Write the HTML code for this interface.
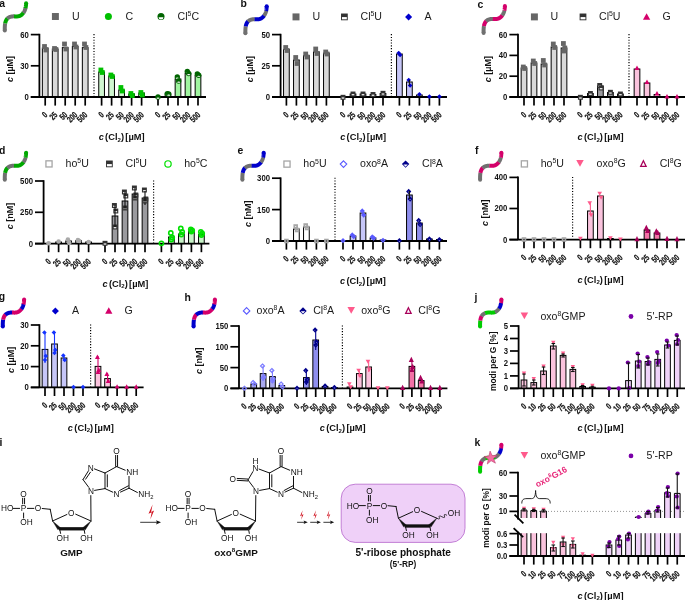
<!DOCTYPE html>
<html><head><meta charset="utf-8"><title>figure</title>
<style>html,body{margin:0;padding:0;background:#fff}svg{display:block;will-change:transform}</style></head>
<body>
<svg width="685" height="600" viewBox="0 0 685 600">
<rect width="685" height="600" fill="#fff"/>
<line x1="94" y1="34.1" x2="94" y2="96" stroke="#000" stroke-width="1.2" stroke-dasharray="1.1 1.7"/><rect x="42.35" y="48.00" width="5.70" height="49.00" fill="#d9d9d9" stroke="#000" stroke-width="1.0"/><rect x="52.35" y="49.00" width="5.70" height="48.00" fill="#d9d9d9" stroke="#000" stroke-width="1.0"/><rect x="62.35" y="47.60" width="5.70" height="49.40" fill="#d9d9d9" stroke="#000" stroke-width="1.0"/><rect x="72.35" y="46.40" width="5.70" height="50.60" fill="#d9d9d9" stroke="#000" stroke-width="1.0"/><rect x="82.35" y="47.60" width="5.70" height="49.40" fill="#d9d9d9" stroke="#000" stroke-width="1.0"/><rect x="98.75" y="72.00" width="5.70" height="25.00" fill="#d0f7d0" stroke="#000" stroke-width="1.0"/><rect x="108.75" y="76.00" width="5.70" height="21.00" fill="#d0f7d0" stroke="#000" stroke-width="1.0"/><rect x="118.75" y="90.00" width="5.70" height="7.00" fill="#d0f7d0" stroke="#000" stroke-width="1.0"/><rect x="128.75" y="94.00" width="5.70" height="3.00" fill="#d0f7d0" stroke="#000" stroke-width="1.0"/><rect x="138.75" y="93.00" width="5.70" height="4.00" fill="#d0f7d0" stroke="#000" stroke-width="1.0"/><rect x="165.15" y="94.00" width="5.70" height="3.00" fill="#a0f5a0" stroke="#000" stroke-width="1.0"/><rect x="175.15" y="79.00" width="5.70" height="18.00" fill="#a0f5a0" stroke="#000" stroke-width="1.0"/><rect x="185.15" y="73.40" width="5.70" height="23.60" fill="#a0f5a0" stroke="#000" stroke-width="1.0"/><rect x="195.15" y="75.50" width="5.70" height="21.50" fill="#a0f5a0" stroke="#000" stroke-width="1.0"/><line x1="39.4" y1="33.80" x2="39.4" y2="97" stroke="#000" stroke-width="1.8"/><line x1="30.799999999999997" y1="97" x2="206" y2="97" stroke="#000" stroke-width="1.8"/><line x1="30.799999999999997" y1="34.6" x2="39.4" y2="34.6" stroke="#000" stroke-width="1.7"/><text transform="translate(28.80,37.50) scale(0.92,1)" font-family="Liberation Sans, sans-serif" font-size="8.4" font-weight="bold" fill="#111" text-anchor="end">60</text><line x1="30.799999999999997" y1="65.8" x2="39.4" y2="65.8" stroke="#000" stroke-width="1.7"/><text transform="translate(28.80,68.70) scale(0.92,1)" font-family="Liberation Sans, sans-serif" font-size="8.4" font-weight="bold" fill="#111" text-anchor="end">30</text><line x1="30.799999999999997" y1="97" x2="39.4" y2="97" stroke="#000" stroke-width="1.7"/><text transform="translate(28.80,99.90) scale(0.92,1)" font-family="Liberation Sans, sans-serif" font-size="8.4" font-weight="bold" fill="#111" text-anchor="end">0</text><line x1="45.2" y1="97" x2="45.2" y2="105.6" stroke="#000" stroke-width="1.7"/><text transform="translate(48.10,115.60) rotate(-45) scale(0.725,1)" font-family="Liberation Sans, sans-serif" font-size="8.8" font-weight="bold" fill="#111" stroke="#111" stroke-width="0.2" text-anchor="end">0</text><line x1="55.2" y1="97" x2="55.2" y2="105.6" stroke="#000" stroke-width="1.7"/><text transform="translate(58.10,115.60) rotate(-45) scale(0.725,1)" font-family="Liberation Sans, sans-serif" font-size="8.8" font-weight="bold" fill="#111" stroke="#111" stroke-width="0.2" text-anchor="end">25</text><line x1="65.2" y1="97" x2="65.2" y2="105.6" stroke="#000" stroke-width="1.7"/><text transform="translate(68.10,115.60) rotate(-45) scale(0.725,1)" font-family="Liberation Sans, sans-serif" font-size="8.8" font-weight="bold" fill="#111" stroke="#111" stroke-width="0.2" text-anchor="end">50</text><line x1="75.2" y1="97" x2="75.2" y2="105.6" stroke="#000" stroke-width="1.7"/><text transform="translate(78.10,115.60) rotate(-45) scale(0.725,1)" font-family="Liberation Sans, sans-serif" font-size="8.8" font-weight="bold" fill="#111" stroke="#111" stroke-width="0.2" text-anchor="end">200</text><line x1="85.2" y1="97" x2="85.2" y2="105.6" stroke="#000" stroke-width="1.7"/><text transform="translate(88.10,115.60) rotate(-45) scale(0.725,1)" font-family="Liberation Sans, sans-serif" font-size="8.8" font-weight="bold" fill="#111" stroke="#111" stroke-width="0.2" text-anchor="end">500</text><line x1="101.6" y1="97" x2="101.6" y2="105.6" stroke="#000" stroke-width="1.7"/><text transform="translate(104.50,115.60) rotate(-45) scale(0.725,1)" font-family="Liberation Sans, sans-serif" font-size="8.8" font-weight="bold" fill="#111" stroke="#111" stroke-width="0.2" text-anchor="end">0</text><line x1="111.6" y1="97" x2="111.6" y2="105.6" stroke="#000" stroke-width="1.7"/><text transform="translate(114.50,115.60) rotate(-45) scale(0.725,1)" font-family="Liberation Sans, sans-serif" font-size="8.8" font-weight="bold" fill="#111" stroke="#111" stroke-width="0.2" text-anchor="end">25</text><line x1="121.6" y1="97" x2="121.6" y2="105.6" stroke="#000" stroke-width="1.7"/><text transform="translate(124.50,115.60) rotate(-45) scale(0.725,1)" font-family="Liberation Sans, sans-serif" font-size="8.8" font-weight="bold" fill="#111" stroke="#111" stroke-width="0.2" text-anchor="end">50</text><line x1="131.6" y1="97" x2="131.6" y2="105.6" stroke="#000" stroke-width="1.7"/><text transform="translate(134.50,115.60) rotate(-45) scale(0.725,1)" font-family="Liberation Sans, sans-serif" font-size="8.8" font-weight="bold" fill="#111" stroke="#111" stroke-width="0.2" text-anchor="end">200</text><line x1="141.6" y1="97" x2="141.6" y2="105.6" stroke="#000" stroke-width="1.7"/><text transform="translate(144.50,115.60) rotate(-45) scale(0.725,1)" font-family="Liberation Sans, sans-serif" font-size="8.8" font-weight="bold" fill="#111" stroke="#111" stroke-width="0.2" text-anchor="end">500</text><line x1="158.0" y1="97" x2="158.0" y2="105.6" stroke="#000" stroke-width="1.7"/><text transform="translate(160.90,115.60) rotate(-45) scale(0.725,1)" font-family="Liberation Sans, sans-serif" font-size="8.8" font-weight="bold" fill="#111" stroke="#111" stroke-width="0.2" text-anchor="end">0</text><line x1="168.0" y1="97" x2="168.0" y2="105.6" stroke="#000" stroke-width="1.7"/><text transform="translate(170.90,115.60) rotate(-45) scale(0.725,1)" font-family="Liberation Sans, sans-serif" font-size="8.8" font-weight="bold" fill="#111" stroke="#111" stroke-width="0.2" text-anchor="end">25</text><line x1="178.0" y1="97" x2="178.0" y2="105.6" stroke="#000" stroke-width="1.7"/><text transform="translate(180.90,115.60) rotate(-45) scale(0.725,1)" font-family="Liberation Sans, sans-serif" font-size="8.8" font-weight="bold" fill="#111" stroke="#111" stroke-width="0.2" text-anchor="end">50</text><line x1="188.0" y1="97" x2="188.0" y2="105.6" stroke="#000" stroke-width="1.7"/><text transform="translate(190.90,115.60) rotate(-45) scale(0.725,1)" font-family="Liberation Sans, sans-serif" font-size="8.8" font-weight="bold" fill="#111" stroke="#111" stroke-width="0.2" text-anchor="end">200</text><line x1="198.0" y1="97" x2="198.0" y2="105.6" stroke="#000" stroke-width="1.7"/><text transform="translate(200.90,115.60) rotate(-45) scale(0.725,1)" font-family="Liberation Sans, sans-serif" font-size="8.8" font-weight="bold" fill="#111" stroke="#111" stroke-width="0.2" text-anchor="end">500</text><rect x="42.10" y="44.10" width="4.80" height="4.80" fill="#666666"/><rect x="43.50" y="47.60" width="4.80" height="4.80" fill="#666666"/><rect x="52.10" y="46.10" width="4.80" height="4.80" fill="#666666"/><rect x="53.50" y="47.10" width="4.80" height="4.80" fill="#666666"/><rect x="62.10" y="41.60" width="4.80" height="4.80" fill="#666666"/><rect x="63.50" y="46.60" width="4.80" height="4.80" fill="#666666"/><rect x="72.10" y="41.60" width="4.80" height="4.80" fill="#666666"/><rect x="73.50" y="44.60" width="4.80" height="4.80" fill="#666666"/><rect x="82.10" y="41.60" width="4.80" height="4.80" fill="#666666"/><rect x="83.50" y="45.10" width="4.80" height="4.80" fill="#666666"/><rect x="98.50" y="67.60" width="4.80" height="4.80" fill="#00c000"/><rect x="99.90" y="70.10" width="4.80" height="4.80" fill="#00c000"/><rect x="108.50" y="72.60" width="4.80" height="4.80" fill="#00c000"/><rect x="109.90" y="74.10" width="4.80" height="4.80" fill="#00c000"/><rect x="118.50" y="85.10" width="4.80" height="4.80" fill="#00c000"/><rect x="119.90" y="88.60" width="4.80" height="4.80" fill="#00c000"/><rect x="128.50" y="91.10" width="4.80" height="4.80" fill="#00c000"/><rect x="129.90" y="93.10" width="4.80" height="4.80" fill="#00c000"/><rect x="138.50" y="90.10" width="4.80" height="4.80" fill="#00c000"/><rect x="139.90" y="92.60" width="4.80" height="4.80" fill="#00c000"/><circle cx="158.00" cy="97.00" r="2.70" fill="#006400"/><ellipse cx="158.00" cy="98.13" rx="1.49" ry="0.54" fill="#fff"/><circle cx="167.30" cy="93.60" r="2.70" fill="#006400"/><ellipse cx="167.30" cy="94.73" rx="1.49" ry="0.54" fill="#fff"/><circle cx="168.70" cy="94.00" r="2.70" fill="#006400"/><ellipse cx="168.70" cy="95.13" rx="1.49" ry="0.54" fill="#fff"/><circle cx="177.30" cy="77.00" r="2.70" fill="#006400"/><ellipse cx="177.30" cy="78.13" rx="1.49" ry="0.54" fill="#fff"/><circle cx="178.70" cy="81.00" r="2.70" fill="#006400"/><ellipse cx="178.70" cy="82.13" rx="1.49" ry="0.54" fill="#fff"/><circle cx="187.30" cy="71.50" r="2.70" fill="#006400"/><ellipse cx="187.30" cy="72.63" rx="1.49" ry="0.54" fill="#fff"/><circle cx="188.70" cy="73.50" r="2.70" fill="#006400"/><ellipse cx="188.70" cy="74.63" rx="1.49" ry="0.54" fill="#fff"/><circle cx="197.30" cy="74.00" r="2.70" fill="#006400"/><ellipse cx="197.30" cy="75.13" rx="1.49" ry="0.54" fill="#fff"/><circle cx="198.70" cy="75.20" r="2.70" fill="#006400"/><ellipse cx="198.70" cy="76.33" rx="1.49" ry="0.54" fill="#fff"/><text transform="translate(121.60,140.00) scale(0.97,1)" font-family="Liberation Sans, sans-serif" font-size="9.6" font-weight="bold" fill="#111" text-anchor="middle" word-spacing="-1.3"><tspan font-style="italic">c</tspan> (Cl<tspan font-size="6.24" dy="1.73">2</tspan><tspan dy="-1.73" font-size="0.1">&#8203;</tspan>) [µM]</text><text transform="translate(13.30,69.00) rotate(-90) scale(0.94,1)" font-family="Liberation Sans, sans-serif" font-size="9.6" font-weight="bold" fill="#111" text-anchor="middle"><tspan font-style="italic">c</tspan> [µM]</text><rect x="51.92" y="13.02" width="6.96" height="6.96" fill="#666666"/><text transform="translate(72.00,19.60) scale(1.05,1)" font-family="Liberation Sans, sans-serif" font-size="10.1" font-weight="normal" fill="#1a1a1a" text-anchor="start" >U</text><circle cx="108.40" cy="16.50" r="3.51" fill="#00c000"/><text transform="translate(125.50,19.60) scale(1.05,1)" font-family="Liberation Sans, sans-serif" font-size="10.1" font-weight="normal" fill="#1a1a1a" text-anchor="start" >C</text><circle cx="161.00" cy="16.50" r="3.51" fill="#006400"/><path d="M158.59 17.20 A2.41 2.41 0 0 0 163.41 17.20 Z" fill="#fff"/><text transform="translate(177.60,19.60) scale(1.05,1)" font-family="Liberation Sans, sans-serif" font-size="10.1" font-weight="normal" fill="#1a1a1a" text-anchor="start" >Cl<tspan font-size="6.57" dy="-3.53">5</tspan><tspan dy="3.53" font-size="0.1">&#8203;</tspan>C</text>
<line x1="391.4" y1="34.1" x2="391.4" y2="96" stroke="#000" stroke-width="1.2" stroke-dasharray="1.1 1.7"/><rect x="283.55" y="49.40" width="5.70" height="47.60" fill="#d9d9d9" stroke="#000" stroke-width="1.0"/><rect x="293.55" y="60.00" width="5.70" height="37.00" fill="#d9d9d9" stroke="#000" stroke-width="1.0"/><rect x="303.55" y="55.60" width="5.70" height="41.40" fill="#d9d9d9" stroke="#000" stroke-width="1.0"/><rect x="313.55" y="51.90" width="5.70" height="45.10" fill="#d9d9d9" stroke="#000" stroke-width="1.0"/><rect x="323.55" y="53.10" width="5.70" height="43.90" fill="#d9d9d9" stroke="#000" stroke-width="1.0"/><rect x="350.15" y="94.00" width="5.70" height="3.00" fill="#9a9a9e" stroke="#000" stroke-width="1.0"/><rect x="360.15" y="94.00" width="5.70" height="3.00" fill="#9a9a9e" stroke="#000" stroke-width="1.0"/><rect x="370.15" y="94.50" width="5.70" height="2.50" fill="#9a9a9e" stroke="#000" stroke-width="1.0"/><rect x="380.15" y="93.50" width="5.70" height="3.50" fill="#9a9a9e" stroke="#000" stroke-width="1.0"/><rect x="396.55" y="54.00" width="5.70" height="43.00" fill="#c6c6f8" stroke="#000" stroke-width="1.0"/><rect x="406.55" y="82.00" width="5.70" height="15.00" fill="#c6c6f8" stroke="#000" stroke-width="1.0"/><rect x="416.55" y="95.00" width="5.70" height="2.00" fill="#c6c6f8" stroke="#000" stroke-width="1.0"/><line x1="280.6" y1="33.80" x2="280.6" y2="97" stroke="#000" stroke-width="1.8"/><line x1="272.0" y1="97" x2="447" y2="97" stroke="#000" stroke-width="1.8"/><line x1="272.0" y1="34.6" x2="280.6" y2="34.6" stroke="#000" stroke-width="1.7"/><text transform="translate(270.00,37.50) scale(0.92,1)" font-family="Liberation Sans, sans-serif" font-size="8.4" font-weight="bold" fill="#111" text-anchor="end">50</text><line x1="272.0" y1="65.8" x2="280.6" y2="65.8" stroke="#000" stroke-width="1.7"/><text transform="translate(270.00,68.70) scale(0.92,1)" font-family="Liberation Sans, sans-serif" font-size="8.4" font-weight="bold" fill="#111" text-anchor="end">25</text><line x1="272.0" y1="97" x2="280.6" y2="97" stroke="#000" stroke-width="1.7"/><text transform="translate(270.00,99.90) scale(0.92,1)" font-family="Liberation Sans, sans-serif" font-size="8.4" font-weight="bold" fill="#111" text-anchor="end">0</text><line x1="286.4" y1="97" x2="286.4" y2="105.6" stroke="#000" stroke-width="1.7"/><text transform="translate(289.30,115.60) rotate(-45) scale(0.725,1)" font-family="Liberation Sans, sans-serif" font-size="8.8" font-weight="bold" fill="#111" stroke="#111" stroke-width="0.2" text-anchor="end">0</text><line x1="296.4" y1="97" x2="296.4" y2="105.6" stroke="#000" stroke-width="1.7"/><text transform="translate(299.30,115.60) rotate(-45) scale(0.725,1)" font-family="Liberation Sans, sans-serif" font-size="8.8" font-weight="bold" fill="#111" stroke="#111" stroke-width="0.2" text-anchor="end">25</text><line x1="306.4" y1="97" x2="306.4" y2="105.6" stroke="#000" stroke-width="1.7"/><text transform="translate(309.30,115.60) rotate(-45) scale(0.725,1)" font-family="Liberation Sans, sans-serif" font-size="8.8" font-weight="bold" fill="#111" stroke="#111" stroke-width="0.2" text-anchor="end">50</text><line x1="316.4" y1="97" x2="316.4" y2="105.6" stroke="#000" stroke-width="1.7"/><text transform="translate(319.30,115.60) rotate(-45) scale(0.725,1)" font-family="Liberation Sans, sans-serif" font-size="8.8" font-weight="bold" fill="#111" stroke="#111" stroke-width="0.2" text-anchor="end">200</text><line x1="326.4" y1="97" x2="326.4" y2="105.6" stroke="#000" stroke-width="1.7"/><text transform="translate(329.30,115.60) rotate(-45) scale(0.725,1)" font-family="Liberation Sans, sans-serif" font-size="8.8" font-weight="bold" fill="#111" stroke="#111" stroke-width="0.2" text-anchor="end">500</text><line x1="343.0" y1="97" x2="343.0" y2="105.6" stroke="#000" stroke-width="1.7"/><text transform="translate(345.90,115.60) rotate(-45) scale(0.725,1)" font-family="Liberation Sans, sans-serif" font-size="8.8" font-weight="bold" fill="#111" stroke="#111" stroke-width="0.2" text-anchor="end">0</text><line x1="353.0" y1="97" x2="353.0" y2="105.6" stroke="#000" stroke-width="1.7"/><text transform="translate(355.90,115.60) rotate(-45) scale(0.725,1)" font-family="Liberation Sans, sans-serif" font-size="8.8" font-weight="bold" fill="#111" stroke="#111" stroke-width="0.2" text-anchor="end">25</text><line x1="363.0" y1="97" x2="363.0" y2="105.6" stroke="#000" stroke-width="1.7"/><text transform="translate(365.90,115.60) rotate(-45) scale(0.725,1)" font-family="Liberation Sans, sans-serif" font-size="8.8" font-weight="bold" fill="#111" stroke="#111" stroke-width="0.2" text-anchor="end">50</text><line x1="373.0" y1="97" x2="373.0" y2="105.6" stroke="#000" stroke-width="1.7"/><text transform="translate(375.90,115.60) rotate(-45) scale(0.725,1)" font-family="Liberation Sans, sans-serif" font-size="8.8" font-weight="bold" fill="#111" stroke="#111" stroke-width="0.2" text-anchor="end">200</text><line x1="383.0" y1="97" x2="383.0" y2="105.6" stroke="#000" stroke-width="1.7"/><text transform="translate(385.90,115.60) rotate(-45) scale(0.725,1)" font-family="Liberation Sans, sans-serif" font-size="8.8" font-weight="bold" fill="#111" stroke="#111" stroke-width="0.2" text-anchor="end">500</text><line x1="399.4" y1="97" x2="399.4" y2="105.6" stroke="#000" stroke-width="1.7"/><text transform="translate(402.30,115.60) rotate(-45) scale(0.725,1)" font-family="Liberation Sans, sans-serif" font-size="8.8" font-weight="bold" fill="#111" stroke="#111" stroke-width="0.2" text-anchor="end">0</text><line x1="409.4" y1="97" x2="409.4" y2="105.6" stroke="#000" stroke-width="1.7"/><text transform="translate(412.30,115.60) rotate(-45) scale(0.725,1)" font-family="Liberation Sans, sans-serif" font-size="8.8" font-weight="bold" fill="#111" stroke="#111" stroke-width="0.2" text-anchor="end">25</text><line x1="419.4" y1="97" x2="419.4" y2="105.6" stroke="#000" stroke-width="1.7"/><text transform="translate(422.30,115.60) rotate(-45) scale(0.725,1)" font-family="Liberation Sans, sans-serif" font-size="8.8" font-weight="bold" fill="#111" stroke="#111" stroke-width="0.2" text-anchor="end">50</text><line x1="429.4" y1="97" x2="429.4" y2="105.6" stroke="#000" stroke-width="1.7"/><text transform="translate(432.30,115.60) rotate(-45) scale(0.725,1)" font-family="Liberation Sans, sans-serif" font-size="8.8" font-weight="bold" fill="#111" stroke="#111" stroke-width="0.2" text-anchor="end">200</text><line x1="439.4" y1="97" x2="439.4" y2="105.6" stroke="#000" stroke-width="1.7"/><text transform="translate(442.30,115.60) rotate(-45) scale(0.725,1)" font-family="Liberation Sans, sans-serif" font-size="8.8" font-weight="bold" fill="#111" stroke="#111" stroke-width="0.2" text-anchor="end">500</text><rect x="283.30" y="45.10" width="4.80" height="4.80" fill="#666666"/><rect x="284.70" y="48.10" width="4.80" height="4.80" fill="#666666"/><rect x="293.30" y="55.10" width="4.80" height="4.80" fill="#666666"/><rect x="294.70" y="61.10" width="4.80" height="4.80" fill="#666666"/><rect x="303.30" y="51.60" width="4.80" height="4.80" fill="#666666"/><rect x="304.70" y="54.60" width="4.80" height="4.80" fill="#666666"/><rect x="313.30" y="46.60" width="4.80" height="4.80" fill="#666666"/><rect x="314.70" y="51.10" width="4.80" height="4.80" fill="#666666"/><rect x="323.30" y="49.60" width="4.80" height="4.80" fill="#666666"/><rect x="324.70" y="51.60" width="4.80" height="4.80" fill="#666666"/><rect x="340.53" y="94.83" width="4.94" height="4.94" fill="#333333"/><rect x="341.68" y="97.44" width="2.64" height="1.18" fill="#fff"/><rect x="350.53" y="91.53" width="4.94" height="4.94" fill="#333333"/><rect x="351.68" y="94.14" width="2.64" height="1.18" fill="#fff"/><rect x="360.53" y="91.53" width="4.94" height="4.94" fill="#333333"/><rect x="361.68" y="94.14" width="2.64" height="1.18" fill="#fff"/><rect x="370.53" y="92.03" width="4.94" height="4.94" fill="#333333"/><rect x="371.68" y="94.64" width="2.64" height="1.18" fill="#fff"/><rect x="380.53" y="90.83" width="4.94" height="4.94" fill="#333333"/><rect x="381.68" y="93.44" width="2.64" height="1.18" fill="#fff"/><path d="M398.70 50.70 L401.00 53.00 L398.70 55.30 L396.40 53.00 Z" fill="#0000cd"/><path d="M400.10 52.70 L402.39 55.00 L400.10 57.30 L397.80 55.00 Z" fill="#0000cd"/><path d="M408.70 77.70 L411.00 80.00 L408.70 82.30 L406.40 80.00 Z" fill="#0000cd"/><path d="M410.10 83.20 L412.39 85.50 L410.10 87.80 L407.80 85.50 Z" fill="#0000cd"/><path d="M419.40 92.00 L421.69 94.30 L419.40 96.59 L417.10 94.30 Z" fill="#0000cd"/><path d="M429.40 94.30 L431.69 96.60 L429.40 98.89 L427.10 96.60 Z" fill="#0000cd"/><path d="M439.40 94.30 L441.69 96.60 L439.40 98.89 L437.10 96.60 Z" fill="#0000cd"/><line x1="409.40" y1="80.00" x2="409.40" y2="85.50" stroke="#111" stroke-width="1.1"/><text transform="translate(363.10,140.00) scale(0.97,1)" font-family="Liberation Sans, sans-serif" font-size="9.6" font-weight="bold" fill="#111" text-anchor="middle" word-spacing="-1.3"><tspan font-style="italic">c</tspan> (Cl<tspan font-size="6.24" dy="1.73">2</tspan><tspan dy="-1.73" font-size="0.1">&#8203;</tspan>) [µM]</text><text transform="translate(253.30,69.20) rotate(-90) scale(0.94,1)" font-family="Liberation Sans, sans-serif" font-size="9.6" font-weight="bold" fill="#111" text-anchor="middle"><tspan font-style="italic">c</tspan> [µM]</text><rect x="292.52" y="13.42" width="6.96" height="6.96" fill="#666666"/><text transform="translate(312.50,20.00) scale(1.05,1)" font-family="Liberation Sans, sans-serif" font-size="10.1" font-weight="normal" fill="#1a1a1a" text-anchor="start" >U</text><rect x="341.02" y="13.52" width="6.76" height="6.76" fill="#333333"/><rect x="341.97" y="17.09" width="4.86" height="2.24" fill="#fff"/><text transform="translate(360.50,20.00) scale(1.05,1)" font-family="Liberation Sans, sans-serif" font-size="10.1" font-weight="normal" fill="#1a1a1a" text-anchor="start" >Cl<tspan font-size="6.57" dy="-3.53">5</tspan><tspan dy="3.53" font-size="0.1">&#8203;</tspan>U</text><path d="M408.60 13.39 L412.11 16.90 L408.60 20.41 L405.09 16.90 Z" fill="#0000cd"/><text transform="translate(424.50,20.00) scale(1.05,1)" font-family="Liberation Sans, sans-serif" font-size="10.1" font-weight="normal" fill="#1a1a1a" text-anchor="start" >A</text>
<line x1="629" y1="34.1" x2="629" y2="96" stroke="#000" stroke-width="1.2" stroke-dasharray="1.1 1.7"/><rect x="521.15" y="68.00" width="5.70" height="29.00" fill="#d9d9d9" stroke="#000" stroke-width="1.0"/><rect x="531.15" y="63.00" width="5.70" height="34.00" fill="#d9d9d9" stroke="#000" stroke-width="1.0"/><rect x="541.15" y="64.00" width="5.70" height="33.00" fill="#d9d9d9" stroke="#000" stroke-width="1.0"/><rect x="551.15" y="47.00" width="5.70" height="50.00" fill="#d9d9d9" stroke="#000" stroke-width="1.0"/><rect x="561.15" y="48.00" width="5.70" height="49.00" fill="#d9d9d9" stroke="#000" stroke-width="1.0"/><rect x="587.55" y="93.50" width="5.70" height="3.50" fill="#9a9a9e" stroke="#000" stroke-width="1.0"/><rect x="597.55" y="86.00" width="5.70" height="11.00" fill="#9a9a9e" stroke="#000" stroke-width="1.0"/><rect x="607.55" y="92.50" width="5.70" height="4.50" fill="#9a9a9e" stroke="#000" stroke-width="1.0"/><rect x="617.55" y="94.00" width="5.70" height="3.00" fill="#9a9a9e" stroke="#000" stroke-width="1.0"/><rect x="634.15" y="69.00" width="5.70" height="28.00" fill="#fac3dd" stroke="#000" stroke-width="1.0"/><rect x="644.15" y="83.00" width="5.70" height="14.00" fill="#fac3dd" stroke="#000" stroke-width="1.0"/><rect x="654.15" y="94.50" width="5.70" height="2.50" fill="#fac3dd" stroke="#000" stroke-width="1.0"/><line x1="518" y1="33.80" x2="518" y2="97" stroke="#000" stroke-width="1.8"/><line x1="509.4" y1="97" x2="686" y2="97" stroke="#000" stroke-width="1.8"/><line x1="509.4" y1="34.6" x2="518" y2="34.6" stroke="#000" stroke-width="1.7"/><text transform="translate(507.40,37.50) scale(0.92,1)" font-family="Liberation Sans, sans-serif" font-size="8.4" font-weight="bold" fill="#111" text-anchor="end">60</text><line x1="509.4" y1="55.4" x2="518" y2="55.4" stroke="#000" stroke-width="1.7"/><text transform="translate(507.40,58.30) scale(0.92,1)" font-family="Liberation Sans, sans-serif" font-size="8.4" font-weight="bold" fill="#111" text-anchor="end">40</text><line x1="509.4" y1="76.2" x2="518" y2="76.2" stroke="#000" stroke-width="1.7"/><text transform="translate(507.40,79.10) scale(0.92,1)" font-family="Liberation Sans, sans-serif" font-size="8.4" font-weight="bold" fill="#111" text-anchor="end">20</text><line x1="509.4" y1="97" x2="518" y2="97" stroke="#000" stroke-width="1.7"/><text transform="translate(507.40,99.90) scale(0.92,1)" font-family="Liberation Sans, sans-serif" font-size="8.4" font-weight="bold" fill="#111" text-anchor="end">0</text><line x1="524.0" y1="97" x2="524.0" y2="105.6" stroke="#000" stroke-width="1.7"/><text transform="translate(526.90,115.60) rotate(-45) scale(0.725,1)" font-family="Liberation Sans, sans-serif" font-size="8.8" font-weight="bold" fill="#111" stroke="#111" stroke-width="0.2" text-anchor="end">0</text><line x1="534.0" y1="97" x2="534.0" y2="105.6" stroke="#000" stroke-width="1.7"/><text transform="translate(536.90,115.60) rotate(-45) scale(0.725,1)" font-family="Liberation Sans, sans-serif" font-size="8.8" font-weight="bold" fill="#111" stroke="#111" stroke-width="0.2" text-anchor="end">25</text><line x1="544.0" y1="97" x2="544.0" y2="105.6" stroke="#000" stroke-width="1.7"/><text transform="translate(546.90,115.60) rotate(-45) scale(0.725,1)" font-family="Liberation Sans, sans-serif" font-size="8.8" font-weight="bold" fill="#111" stroke="#111" stroke-width="0.2" text-anchor="end">50</text><line x1="554.0" y1="97" x2="554.0" y2="105.6" stroke="#000" stroke-width="1.7"/><text transform="translate(556.90,115.60) rotate(-45) scale(0.725,1)" font-family="Liberation Sans, sans-serif" font-size="8.8" font-weight="bold" fill="#111" stroke="#111" stroke-width="0.2" text-anchor="end">200</text><line x1="564.0" y1="97" x2="564.0" y2="105.6" stroke="#000" stroke-width="1.7"/><text transform="translate(566.90,115.60) rotate(-45) scale(0.725,1)" font-family="Liberation Sans, sans-serif" font-size="8.8" font-weight="bold" fill="#111" stroke="#111" stroke-width="0.2" text-anchor="end">500</text><line x1="580.4" y1="97" x2="580.4" y2="105.6" stroke="#000" stroke-width="1.7"/><text transform="translate(583.30,115.60) rotate(-45) scale(0.725,1)" font-family="Liberation Sans, sans-serif" font-size="8.8" font-weight="bold" fill="#111" stroke="#111" stroke-width="0.2" text-anchor="end">0</text><line x1="590.4" y1="97" x2="590.4" y2="105.6" stroke="#000" stroke-width="1.7"/><text transform="translate(593.30,115.60) rotate(-45) scale(0.725,1)" font-family="Liberation Sans, sans-serif" font-size="8.8" font-weight="bold" fill="#111" stroke="#111" stroke-width="0.2" text-anchor="end">25</text><line x1="600.4" y1="97" x2="600.4" y2="105.6" stroke="#000" stroke-width="1.7"/><text transform="translate(603.30,115.60) rotate(-45) scale(0.725,1)" font-family="Liberation Sans, sans-serif" font-size="8.8" font-weight="bold" fill="#111" stroke="#111" stroke-width="0.2" text-anchor="end">50</text><line x1="610.4" y1="97" x2="610.4" y2="105.6" stroke="#000" stroke-width="1.7"/><text transform="translate(613.30,115.60) rotate(-45) scale(0.725,1)" font-family="Liberation Sans, sans-serif" font-size="8.8" font-weight="bold" fill="#111" stroke="#111" stroke-width="0.2" text-anchor="end">200</text><line x1="620.4" y1="97" x2="620.4" y2="105.6" stroke="#000" stroke-width="1.7"/><text transform="translate(623.30,115.60) rotate(-45) scale(0.725,1)" font-family="Liberation Sans, sans-serif" font-size="8.8" font-weight="bold" fill="#111" stroke="#111" stroke-width="0.2" text-anchor="end">500</text><line x1="637.0" y1="97" x2="637.0" y2="105.6" stroke="#000" stroke-width="1.7"/><text transform="translate(639.90,115.60) rotate(-45) scale(0.725,1)" font-family="Liberation Sans, sans-serif" font-size="8.8" font-weight="bold" fill="#111" stroke="#111" stroke-width="0.2" text-anchor="end">0</text><line x1="647.0" y1="97" x2="647.0" y2="105.6" stroke="#000" stroke-width="1.7"/><text transform="translate(649.90,115.60) rotate(-45) scale(0.725,1)" font-family="Liberation Sans, sans-serif" font-size="8.8" font-weight="bold" fill="#111" stroke="#111" stroke-width="0.2" text-anchor="end">25</text><line x1="657.0" y1="97" x2="657.0" y2="105.6" stroke="#000" stroke-width="1.7"/><text transform="translate(659.90,115.60) rotate(-45) scale(0.725,1)" font-family="Liberation Sans, sans-serif" font-size="8.8" font-weight="bold" fill="#111" stroke="#111" stroke-width="0.2" text-anchor="end">50</text><line x1="667.0" y1="97" x2="667.0" y2="105.6" stroke="#000" stroke-width="1.7"/><text transform="translate(669.90,115.60) rotate(-45) scale(0.725,1)" font-family="Liberation Sans, sans-serif" font-size="8.8" font-weight="bold" fill="#111" stroke="#111" stroke-width="0.2" text-anchor="end">200</text><line x1="677.0" y1="97" x2="677.0" y2="105.6" stroke="#000" stroke-width="1.7"/><text transform="translate(679.90,115.60) rotate(-45) scale(0.725,1)" font-family="Liberation Sans, sans-serif" font-size="8.8" font-weight="bold" fill="#111" stroke="#111" stroke-width="0.2" text-anchor="end">500</text><rect x="520.90" y="64.60" width="4.80" height="4.80" fill="#666666"/><rect x="522.30" y="66.10" width="4.80" height="4.80" fill="#666666"/><rect x="530.90" y="58.60" width="4.80" height="4.80" fill="#666666"/><rect x="532.30" y="61.10" width="4.80" height="4.80" fill="#666666"/><rect x="540.90" y="58.10" width="4.80" height="4.80" fill="#666666"/><rect x="542.30" y="62.60" width="4.80" height="4.80" fill="#666666"/><rect x="550.90" y="41.60" width="4.80" height="4.80" fill="#666666"/><rect x="552.30" y="45.10" width="4.80" height="4.80" fill="#666666"/><rect x="561.00" y="41.10" width="4.80" height="4.80" fill="#666666"/><rect x="562.40" y="45.60" width="4.80" height="4.80" fill="#666666"/><rect x="561.60" y="48.60" width="4.80" height="4.80" fill="#666666"/><rect x="577.93" y="94.83" width="4.94" height="4.94" fill="#333333"/><rect x="579.08" y="97.44" width="2.64" height="1.18" fill="#fff"/><rect x="587.93" y="91.03" width="4.94" height="4.94" fill="#333333"/><rect x="589.08" y="93.64" width="2.64" height="1.18" fill="#fff"/><rect x="597.23" y="83.03" width="4.94" height="4.94" fill="#333333"/><rect x="598.38" y="85.64" width="2.64" height="1.18" fill="#fff"/><rect x="598.63" y="85.53" width="4.94" height="4.94" fill="#333333"/><rect x="599.78" y="88.14" width="2.64" height="1.18" fill="#fff"/><rect x="607.93" y="89.83" width="4.94" height="4.94" fill="#333333"/><rect x="609.08" y="92.44" width="2.64" height="1.18" fill="#fff"/><rect x="617.93" y="91.53" width="4.94" height="4.94" fill="#333333"/><rect x="619.08" y="94.14" width="2.64" height="1.18" fill="#fff"/><path d="M637.00 65.53 L639.47 69.97 L634.53 69.97 Z" fill="#d4006a"/><path d="M647.00 79.53 L649.47 83.97 L644.53 83.97 Z" fill="#d4006a"/><path d="M657.00 91.03 L659.47 95.47 L654.53 95.47 Z" fill="#d4006a"/><path d="M667.00 94.03 L669.47 98.47 L664.53 98.47 Z" fill="#d4006a"/><path d="M677.00 94.03 L679.47 98.47 L674.53 98.47 Z" fill="#d4006a"/><text transform="translate(600.50,140.00) scale(0.97,1)" font-family="Liberation Sans, sans-serif" font-size="9.6" font-weight="bold" fill="#111" text-anchor="middle" word-spacing="-1.3"><tspan font-style="italic">c</tspan> (Cl<tspan font-size="6.24" dy="1.73">2</tspan><tspan dy="-1.73" font-size="0.1">&#8203;</tspan>) [µM]</text><text transform="translate(490.80,69.20) rotate(-90) scale(0.94,1)" font-family="Liberation Sans, sans-serif" font-size="9.6" font-weight="bold" fill="#111" text-anchor="middle"><tspan font-style="italic">c</tspan> [µM]</text><rect x="530.92" y="13.42" width="6.96" height="6.96" fill="#666666"/><text transform="translate(550.50,20.00) scale(1.05,1)" font-family="Liberation Sans, sans-serif" font-size="10.1" font-weight="normal" fill="#1a1a1a" text-anchor="start" >U</text><rect x="579.62" y="13.52" width="6.76" height="6.76" fill="#333333"/><rect x="580.57" y="17.09" width="4.86" height="2.24" fill="#fff"/><text transform="translate(599.00,20.00) scale(1.05,1)" font-family="Liberation Sans, sans-serif" font-size="10.1" font-weight="normal" fill="#1a1a1a" text-anchor="start" >Cl<tspan font-size="6.57" dy="-3.53">5</tspan><tspan dy="3.53" font-size="0.1">&#8203;</tspan>U</text><path d="M646.60 13.27 L650.23 19.80 L642.98 19.80 Z" fill="#d4006a"/><text transform="translate(662.50,20.00) scale(1.05,1)" font-family="Liberation Sans, sans-serif" font-size="10.1" font-weight="normal" fill="#1a1a1a" text-anchor="start" >G</text>
<line x1="153.6" y1="180.5" x2="153.6" y2="242.6" stroke="#000" stroke-width="1.2" stroke-dasharray="1.1 1.7"/><rect x="55.75" y="242.00" width="5.70" height="1.60" fill="#d9d9d9" stroke="#000" stroke-width="1.0"/><rect x="65.75" y="241.00" width="5.70" height="2.60" fill="#d9d9d9" stroke="#000" stroke-width="1.0"/><rect x="75.75" y="240.60" width="5.70" height="3.00" fill="#d9d9d9" stroke="#000" stroke-width="1.0"/><rect x="85.75" y="242.00" width="5.70" height="1.60" fill="#d9d9d9" stroke="#000" stroke-width="1.0"/><rect x="112.15" y="216.00" width="5.70" height="27.60" fill="#9a9a9e" stroke="#000" stroke-width="1.0"/><rect x="122.15" y="201.00" width="5.70" height="42.60" fill="#9a9a9e" stroke="#000" stroke-width="1.0"/><rect x="132.15" y="194.00" width="5.70" height="49.60" fill="#9a9a9e" stroke="#000" stroke-width="1.0"/><rect x="142.15" y="198.00" width="5.70" height="45.60" fill="#9a9a9e" stroke="#000" stroke-width="1.0"/><rect x="168.55" y="237.00" width="5.70" height="6.60" fill="#c8f3c8" stroke="#000" stroke-width="1.0"/><rect x="178.55" y="234.00" width="5.70" height="9.60" fill="#c8f3c8" stroke="#000" stroke-width="1.0"/><rect x="188.55" y="231.00" width="5.70" height="12.60" fill="#c8f3c8" stroke="#000" stroke-width="1.0"/><rect x="198.55" y="234.50" width="5.70" height="9.10" fill="#c8f3c8" stroke="#000" stroke-width="1.0"/><line x1="43.6" y1="180.20" x2="43.6" y2="243.6" stroke="#000" stroke-width="1.8"/><line x1="35.0" y1="243.6" x2="209.4" y2="243.6" stroke="#000" stroke-width="1.8"/><line x1="35.0" y1="181" x2="43.6" y2="181" stroke="#000" stroke-width="1.7"/><text transform="translate(33.00,183.90) scale(0.92,1)" font-family="Liberation Sans, sans-serif" font-size="8.4" font-weight="bold" fill="#111" text-anchor="end">500</text><line x1="35.0" y1="212.3" x2="43.6" y2="212.3" stroke="#000" stroke-width="1.7"/><text transform="translate(33.00,215.20) scale(0.92,1)" font-family="Liberation Sans, sans-serif" font-size="8.4" font-weight="bold" fill="#111" text-anchor="end">250</text><line x1="35.0" y1="243.6" x2="43.6" y2="243.6" stroke="#000" stroke-width="1.7"/><text transform="translate(33.00,246.50) scale(0.92,1)" font-family="Liberation Sans, sans-serif" font-size="8.4" font-weight="bold" fill="#111" text-anchor="end">0</text><line x1="48.6" y1="243.6" x2="48.6" y2="252.2" stroke="#000" stroke-width="1.7"/><text transform="translate(51.50,262.20) rotate(-45) scale(0.725,1)" font-family="Liberation Sans, sans-serif" font-size="8.8" font-weight="bold" fill="#111" stroke="#111" stroke-width="0.2" text-anchor="end">0</text><line x1="58.6" y1="243.6" x2="58.6" y2="252.2" stroke="#000" stroke-width="1.7"/><text transform="translate(61.50,262.20) rotate(-45) scale(0.725,1)" font-family="Liberation Sans, sans-serif" font-size="8.8" font-weight="bold" fill="#111" stroke="#111" stroke-width="0.2" text-anchor="end">25</text><line x1="68.6" y1="243.6" x2="68.6" y2="252.2" stroke="#000" stroke-width="1.7"/><text transform="translate(71.50,262.20) rotate(-45) scale(0.725,1)" font-family="Liberation Sans, sans-serif" font-size="8.8" font-weight="bold" fill="#111" stroke="#111" stroke-width="0.2" text-anchor="end">50</text><line x1="78.6" y1="243.6" x2="78.6" y2="252.2" stroke="#000" stroke-width="1.7"/><text transform="translate(81.50,262.20) rotate(-45) scale(0.725,1)" font-family="Liberation Sans, sans-serif" font-size="8.8" font-weight="bold" fill="#111" stroke="#111" stroke-width="0.2" text-anchor="end">200</text><line x1="88.6" y1="243.6" x2="88.6" y2="252.2" stroke="#000" stroke-width="1.7"/><text transform="translate(91.50,262.20) rotate(-45) scale(0.725,1)" font-family="Liberation Sans, sans-serif" font-size="8.8" font-weight="bold" fill="#111" stroke="#111" stroke-width="0.2" text-anchor="end">500</text><line x1="105.0" y1="243.6" x2="105.0" y2="252.2" stroke="#000" stroke-width="1.7"/><text transform="translate(107.90,262.20) rotate(-45) scale(0.725,1)" font-family="Liberation Sans, sans-serif" font-size="8.8" font-weight="bold" fill="#111" stroke="#111" stroke-width="0.2" text-anchor="end">0</text><line x1="115.0" y1="243.6" x2="115.0" y2="252.2" stroke="#000" stroke-width="1.7"/><text transform="translate(117.90,262.20) rotate(-45) scale(0.725,1)" font-family="Liberation Sans, sans-serif" font-size="8.8" font-weight="bold" fill="#111" stroke="#111" stroke-width="0.2" text-anchor="end">25</text><line x1="125.0" y1="243.6" x2="125.0" y2="252.2" stroke="#000" stroke-width="1.7"/><text transform="translate(127.90,262.20) rotate(-45) scale(0.725,1)" font-family="Liberation Sans, sans-serif" font-size="8.8" font-weight="bold" fill="#111" stroke="#111" stroke-width="0.2" text-anchor="end">50</text><line x1="135.0" y1="243.6" x2="135.0" y2="252.2" stroke="#000" stroke-width="1.7"/><text transform="translate(137.90,262.20) rotate(-45) scale(0.725,1)" font-family="Liberation Sans, sans-serif" font-size="8.8" font-weight="bold" fill="#111" stroke="#111" stroke-width="0.2" text-anchor="end">200</text><line x1="145.0" y1="243.6" x2="145.0" y2="252.2" stroke="#000" stroke-width="1.7"/><text transform="translate(147.90,262.20) rotate(-45) scale(0.725,1)" font-family="Liberation Sans, sans-serif" font-size="8.8" font-weight="bold" fill="#111" stroke="#111" stroke-width="0.2" text-anchor="end">500</text><line x1="161.4" y1="243.6" x2="161.4" y2="252.2" stroke="#000" stroke-width="1.7"/><text transform="translate(164.30,262.20) rotate(-45) scale(0.725,1)" font-family="Liberation Sans, sans-serif" font-size="8.8" font-weight="bold" fill="#111" stroke="#111" stroke-width="0.2" text-anchor="end">0</text><line x1="171.4" y1="243.6" x2="171.4" y2="252.2" stroke="#000" stroke-width="1.7"/><text transform="translate(174.30,262.20) rotate(-45) scale(0.725,1)" font-family="Liberation Sans, sans-serif" font-size="8.8" font-weight="bold" fill="#111" stroke="#111" stroke-width="0.2" text-anchor="end">25</text><line x1="181.4" y1="243.6" x2="181.4" y2="252.2" stroke="#000" stroke-width="1.7"/><text transform="translate(184.30,262.20) rotate(-45) scale(0.725,1)" font-family="Liberation Sans, sans-serif" font-size="8.8" font-weight="bold" fill="#111" stroke="#111" stroke-width="0.2" text-anchor="end">50</text><line x1="191.4" y1="243.6" x2="191.4" y2="252.2" stroke="#000" stroke-width="1.7"/><text transform="translate(194.30,262.20) rotate(-45) scale(0.725,1)" font-family="Liberation Sans, sans-serif" font-size="8.8" font-weight="bold" fill="#111" stroke="#111" stroke-width="0.2" text-anchor="end">200</text><line x1="201.4" y1="243.6" x2="201.4" y2="252.2" stroke="#000" stroke-width="1.7"/><text transform="translate(204.30,262.20) rotate(-45) scale(0.725,1)" font-family="Liberation Sans, sans-serif" font-size="8.8" font-weight="bold" fill="#111" stroke="#111" stroke-width="0.2" text-anchor="end">500</text><circle cx="48.60" cy="243.30" r="2.28" fill="#a9a9a9"/><circle cx="58.60" cy="241.50" r="2.28" fill="#a9a9a9"/><circle cx="67.90" cy="239.50" r="2.28" fill="#a9a9a9"/><circle cx="69.30" cy="243.00" r="2.28" fill="#a9a9a9"/><circle cx="77.90" cy="240.00" r="2.28" fill="#a9a9a9"/><circle cx="79.30" cy="241.00" r="2.28" fill="#a9a9a9"/><circle cx="88.60" cy="242.00" r="2.28" fill="#a9a9a9"/><rect x="102.53" y="240.83" width="4.94" height="4.94" fill="#333333"/><rect x="103.68" y="243.44" width="2.64" height="1.18" fill="#fff"/><rect x="111.93" y="203.03" width="4.94" height="4.94" fill="#333333"/><rect x="113.08" y="205.64" width="2.64" height="1.18" fill="#fff"/><rect x="113.33" y="208.53" width="4.94" height="4.94" fill="#333333"/><rect x="114.48" y="211.14" width="2.64" height="1.18" fill="#fff"/><rect x="112.53" y="224.53" width="4.94" height="4.94" fill="#333333"/><rect x="113.68" y="227.14" width="2.64" height="1.18" fill="#fff"/><rect x="121.93" y="189.53" width="4.94" height="4.94" fill="#333333"/><rect x="123.08" y="192.14" width="2.64" height="1.18" fill="#fff"/><rect x="123.33" y="193.53" width="4.94" height="4.94" fill="#333333"/><rect x="124.48" y="196.14" width="2.64" height="1.18" fill="#fff"/><rect x="122.53" y="205.53" width="4.94" height="4.94" fill="#333333"/><rect x="123.68" y="208.14" width="2.64" height="1.18" fill="#fff"/><rect x="131.93" y="185.53" width="4.94" height="4.94" fill="#333333"/><rect x="133.08" y="188.14" width="2.64" height="1.18" fill="#fff"/><rect x="133.33" y="192.53" width="4.94" height="4.94" fill="#333333"/><rect x="134.48" y="195.14" width="2.64" height="1.18" fill="#fff"/><rect x="132.53" y="195.53" width="4.94" height="4.94" fill="#333333"/><rect x="133.68" y="198.14" width="2.64" height="1.18" fill="#fff"/><rect x="141.93" y="187.53" width="4.94" height="4.94" fill="#333333"/><rect x="143.08" y="190.14" width="2.64" height="1.18" fill="#fff"/><rect x="143.33" y="196.53" width="4.94" height="4.94" fill="#333333"/><rect x="144.48" y="199.14" width="2.64" height="1.18" fill="#fff"/><rect x="142.53" y="198.53" width="4.94" height="4.94" fill="#333333"/><rect x="143.68" y="201.14" width="2.64" height="1.18" fill="#fff"/><line x1="115.00" y1="205.00" x2="115.00" y2="227.00" stroke="#111" stroke-width="1.1"/><line x1="125.00" y1="192.00" x2="125.00" y2="210.00" stroke="#111" stroke-width="1.1"/><line x1="135.00" y1="188.00" x2="135.00" y2="200.00" stroke="#111" stroke-width="1.1"/><line x1="145.00" y1="191.00" x2="145.00" y2="205.00" stroke="#111" stroke-width="1.1"/><circle cx="161.40" cy="243.30" r="2.10" fill="none" stroke="#00e000" stroke-width="1.6"/><circle cx="170.80" cy="233.00" r="2.10" fill="none" stroke="#00e000" stroke-width="1.6"/><circle cx="172.20" cy="237.50" r="2.10" fill="none" stroke="#00e000" stroke-width="1.6"/><circle cx="171.40" cy="239.50" r="2.10" fill="none" stroke="#00e000" stroke-width="1.6"/><circle cx="180.80" cy="228.50" r="2.10" fill="none" stroke="#00e000" stroke-width="1.6"/><circle cx="182.20" cy="232.00" r="2.10" fill="none" stroke="#00e000" stroke-width="1.6"/><circle cx="181.40" cy="234.50" r="2.10" fill="none" stroke="#00e000" stroke-width="1.6"/><circle cx="190.80" cy="229.50" r="2.10" fill="none" stroke="#00e000" stroke-width="1.6"/><circle cx="192.20" cy="230.50" r="2.10" fill="none" stroke="#00e000" stroke-width="1.6"/><circle cx="191.40" cy="231.50" r="2.10" fill="none" stroke="#00e000" stroke-width="1.6"/><circle cx="200.80" cy="232.00" r="2.10" fill="none" stroke="#00e000" stroke-width="1.6"/><circle cx="202.20" cy="233.50" r="2.10" fill="none" stroke="#00e000" stroke-width="1.6"/><circle cx="201.40" cy="235.00" r="2.10" fill="none" stroke="#00e000" stroke-width="1.6"/><text transform="translate(125.40,286.60) scale(0.97,1)" font-family="Liberation Sans, sans-serif" font-size="9.6" font-weight="bold" fill="#111" text-anchor="middle" word-spacing="-1.3"><tspan font-style="italic">c</tspan> (Cl<tspan font-size="6.24" dy="1.73">2</tspan><tspan dy="-1.73" font-size="0.1">&#8203;</tspan>) [µM]</text><text transform="translate(13.20,216.00) rotate(-90) scale(0.94,1)" font-family="Liberation Sans, sans-serif" font-size="9.6" font-weight="bold" fill="#111" text-anchor="middle"><tspan font-style="italic">c</tspan> [nM]</text><rect x="45.93" y="160.83" width="6.14" height="6.14" fill="none" stroke="#a6a6a6" stroke-width="1.3"/><text transform="translate(65.50,167.00) scale(1.05,1)" font-family="Liberation Sans, sans-serif" font-size="10.1" font-weight="normal" fill="#1a1a1a" text-anchor="start" >ho<tspan font-size="6.57" dy="-3.53">5</tspan><tspan dy="3.53" font-size="0.1">&#8203;</tspan>U</text><rect x="106.02" y="160.52" width="6.76" height="6.76" fill="#333333"/><rect x="106.97" y="164.09" width="4.86" height="2.24" fill="#fff"/><text transform="translate(125.50,167.00) scale(1.05,1)" font-family="Liberation Sans, sans-serif" font-size="10.1" font-weight="normal" fill="#1a1a1a" text-anchor="start" >Cl<tspan font-size="6.57" dy="-3.53">5</tspan><tspan dy="3.53" font-size="0.1">&#8203;</tspan>U</text><circle cx="168.00" cy="163.90" r="3.17" fill="none" stroke="#00e000" stroke-width="1.2"/><text transform="translate(184.20,167.00) scale(1.05,1)" font-family="Liberation Sans, sans-serif" font-size="10.1" font-weight="normal" fill="#1a1a1a" text-anchor="start" >ho<tspan font-size="6.57" dy="-3.53">5</tspan><tspan dy="3.53" font-size="0.1">&#8203;</tspan>C</text>
<line x1="335" y1="177.7" x2="335" y2="240" stroke="#000" stroke-width="1.2" stroke-dasharray="1.1 1.7"/><rect x="293.55" y="229.00" width="5.70" height="12.00" fill="#ffffff" stroke="#000" stroke-width="1.0"/><rect x="303.55" y="227.00" width="5.70" height="14.00" fill="#ffffff" stroke="#000" stroke-width="1.0"/><rect x="350.15" y="236.00" width="5.70" height="5.00" fill="#c6c6f8" stroke="#000" stroke-width="1.0"/><rect x="360.15" y="213.00" width="5.70" height="28.00" fill="#c6c6f8" stroke="#000" stroke-width="1.0"/><rect x="370.15" y="238.00" width="5.70" height="3.00" fill="#c6c6f8" stroke="#000" stroke-width="1.0"/><rect x="380.15" y="240.00" width="5.70" height="1.00" fill="#c6c6f8" stroke="#000" stroke-width="1.0"/><rect x="406.55" y="195.00" width="5.70" height="46.00" fill="#8f8fee" stroke="#000" stroke-width="1.0"/><rect x="416.55" y="223.00" width="5.70" height="18.00" fill="#8f8fee" stroke="#000" stroke-width="1.0"/><rect x="426.55" y="239.00" width="5.70" height="2.00" fill="#8f8fee" stroke="#000" stroke-width="1.0"/><rect x="436.55" y="239.50" width="5.70" height="1.50" fill="#8f8fee" stroke="#000" stroke-width="1.0"/><line x1="280.6" y1="177.40" x2="280.6" y2="241" stroke="#000" stroke-width="1.8"/><line x1="272.0" y1="241" x2="447" y2="241" stroke="#000" stroke-width="1.8"/><line x1="272.0" y1="178.2" x2="280.6" y2="178.2" stroke="#000" stroke-width="1.7"/><text transform="translate(270.00,181.10) scale(0.92,1)" font-family="Liberation Sans, sans-serif" font-size="8.4" font-weight="bold" fill="#111" text-anchor="end">300</text><line x1="272.0" y1="209.6" x2="280.6" y2="209.6" stroke="#000" stroke-width="1.7"/><text transform="translate(270.00,212.50) scale(0.92,1)" font-family="Liberation Sans, sans-serif" font-size="8.4" font-weight="bold" fill="#111" text-anchor="end">150</text><line x1="272.0" y1="241" x2="280.6" y2="241" stroke="#000" stroke-width="1.7"/><text transform="translate(270.00,243.90) scale(0.92,1)" font-family="Liberation Sans, sans-serif" font-size="8.4" font-weight="bold" fill="#111" text-anchor="end">0</text><line x1="286.4" y1="241" x2="286.4" y2="249.6" stroke="#000" stroke-width="1.7"/><text transform="translate(289.30,259.60) rotate(-45) scale(0.725,1)" font-family="Liberation Sans, sans-serif" font-size="8.8" font-weight="bold" fill="#111" stroke="#111" stroke-width="0.2" text-anchor="end">0</text><line x1="296.4" y1="241" x2="296.4" y2="249.6" stroke="#000" stroke-width="1.7"/><text transform="translate(299.30,259.60) rotate(-45) scale(0.725,1)" font-family="Liberation Sans, sans-serif" font-size="8.8" font-weight="bold" fill="#111" stroke="#111" stroke-width="0.2" text-anchor="end">25</text><line x1="306.4" y1="241" x2="306.4" y2="249.6" stroke="#000" stroke-width="1.7"/><text transform="translate(309.30,259.60) rotate(-45) scale(0.725,1)" font-family="Liberation Sans, sans-serif" font-size="8.8" font-weight="bold" fill="#111" stroke="#111" stroke-width="0.2" text-anchor="end">50</text><line x1="316.4" y1="241" x2="316.4" y2="249.6" stroke="#000" stroke-width="1.7"/><text transform="translate(319.30,259.60) rotate(-45) scale(0.725,1)" font-family="Liberation Sans, sans-serif" font-size="8.8" font-weight="bold" fill="#111" stroke="#111" stroke-width="0.2" text-anchor="end">200</text><line x1="326.4" y1="241" x2="326.4" y2="249.6" stroke="#000" stroke-width="1.7"/><text transform="translate(329.30,259.60) rotate(-45) scale(0.725,1)" font-family="Liberation Sans, sans-serif" font-size="8.8" font-weight="bold" fill="#111" stroke="#111" stroke-width="0.2" text-anchor="end">500</text><line x1="343.0" y1="241" x2="343.0" y2="249.6" stroke="#000" stroke-width="1.7"/><text transform="translate(345.90,259.60) rotate(-45) scale(0.725,1)" font-family="Liberation Sans, sans-serif" font-size="8.8" font-weight="bold" fill="#111" stroke="#111" stroke-width="0.2" text-anchor="end">0</text><line x1="353.0" y1="241" x2="353.0" y2="249.6" stroke="#000" stroke-width="1.7"/><text transform="translate(355.90,259.60) rotate(-45) scale(0.725,1)" font-family="Liberation Sans, sans-serif" font-size="8.8" font-weight="bold" fill="#111" stroke="#111" stroke-width="0.2" text-anchor="end">25</text><line x1="363.0" y1="241" x2="363.0" y2="249.6" stroke="#000" stroke-width="1.7"/><text transform="translate(365.90,259.60) rotate(-45) scale(0.725,1)" font-family="Liberation Sans, sans-serif" font-size="8.8" font-weight="bold" fill="#111" stroke="#111" stroke-width="0.2" text-anchor="end">50</text><line x1="373.0" y1="241" x2="373.0" y2="249.6" stroke="#000" stroke-width="1.7"/><text transform="translate(375.90,259.60) rotate(-45) scale(0.725,1)" font-family="Liberation Sans, sans-serif" font-size="8.8" font-weight="bold" fill="#111" stroke="#111" stroke-width="0.2" text-anchor="end">200</text><line x1="383.0" y1="241" x2="383.0" y2="249.6" stroke="#000" stroke-width="1.7"/><text transform="translate(385.90,259.60) rotate(-45) scale(0.725,1)" font-family="Liberation Sans, sans-serif" font-size="8.8" font-weight="bold" fill="#111" stroke="#111" stroke-width="0.2" text-anchor="end">500</text><line x1="399.4" y1="241" x2="399.4" y2="249.6" stroke="#000" stroke-width="1.7"/><text transform="translate(402.30,259.60) rotate(-45) scale(0.725,1)" font-family="Liberation Sans, sans-serif" font-size="8.8" font-weight="bold" fill="#111" stroke="#111" stroke-width="0.2" text-anchor="end">0</text><line x1="409.4" y1="241" x2="409.4" y2="249.6" stroke="#000" stroke-width="1.7"/><text transform="translate(412.30,259.60) rotate(-45) scale(0.725,1)" font-family="Liberation Sans, sans-serif" font-size="8.8" font-weight="bold" fill="#111" stroke="#111" stroke-width="0.2" text-anchor="end">25</text><line x1="419.4" y1="241" x2="419.4" y2="249.6" stroke="#000" stroke-width="1.7"/><text transform="translate(422.30,259.60) rotate(-45) scale(0.725,1)" font-family="Liberation Sans, sans-serif" font-size="8.8" font-weight="bold" fill="#111" stroke="#111" stroke-width="0.2" text-anchor="end">50</text><line x1="429.4" y1="241" x2="429.4" y2="249.6" stroke="#000" stroke-width="1.7"/><text transform="translate(432.30,259.60) rotate(-45) scale(0.725,1)" font-family="Liberation Sans, sans-serif" font-size="8.8" font-weight="bold" fill="#111" stroke="#111" stroke-width="0.2" text-anchor="end">200</text><line x1="439.4" y1="241" x2="439.4" y2="249.6" stroke="#000" stroke-width="1.7"/><text transform="translate(442.30,259.60) rotate(-45) scale(0.725,1)" font-family="Liberation Sans, sans-serif" font-size="8.8" font-weight="bold" fill="#111" stroke="#111" stroke-width="0.2" text-anchor="end">500</text><rect x="285.02" y="239.62" width="2.76" height="2.76" fill="none" stroke="#a6a6a6" stroke-width="1.8"/><rect x="294.32" y="225.12" width="2.76" height="2.76" fill="none" stroke="#a6a6a6" stroke-width="1.8"/><rect x="295.72" y="228.62" width="2.76" height="2.76" fill="none" stroke="#a6a6a6" stroke-width="1.8"/><rect x="304.32" y="224.12" width="2.76" height="2.76" fill="none" stroke="#a6a6a6" stroke-width="1.8"/><rect x="305.72" y="226.62" width="2.76" height="2.76" fill="none" stroke="#a6a6a6" stroke-width="1.8"/><rect x="315.02" y="239.62" width="2.76" height="2.76" fill="none" stroke="#a6a6a6" stroke-width="1.8"/><rect x="325.02" y="239.62" width="2.76" height="2.76" fill="none" stroke="#a6a6a6" stroke-width="1.8"/><path d="M343.00 239.11 L344.59 240.70 L343.00 242.29 L341.41 240.70 Z" fill="none" stroke="#5a5aff" stroke-width="1.5"/><path d="M352.30 233.41 L353.89 235.00 L352.30 236.59 L350.71 235.00 Z" fill="none" stroke="#5a5aff" stroke-width="1.5"/><path d="M353.70 234.91 L355.29 236.50 L353.70 238.09 L352.11 236.50 Z" fill="none" stroke="#5a5aff" stroke-width="1.5"/><path d="M362.30 209.41 L363.89 211.00 L362.30 212.59 L360.71 211.00 Z" fill="none" stroke="#5a5aff" stroke-width="1.5"/><path d="M363.70 213.41 L365.29 215.00 L363.70 216.59 L362.11 215.00 Z" fill="none" stroke="#5a5aff" stroke-width="1.5"/><path d="M372.30 235.41 L373.89 237.00 L372.30 238.59 L370.71 237.00 Z" fill="none" stroke="#5a5aff" stroke-width="1.5"/><path d="M373.70 236.41 L375.29 238.00 L373.70 239.59 L372.11 238.00 Z" fill="none" stroke="#5a5aff" stroke-width="1.5"/><path d="M383.00 238.71 L384.59 240.30 L383.00 241.89 L381.41 240.30 Z" fill="none" stroke="#5a5aff" stroke-width="1.5"/><path d="M399.40 238.06 L402.04 240.70 L399.40 243.34 L396.76 240.70 Z" fill="#00008b"/><path d="M398.66 241.05 L400.14 241.05 L399.40 241.79 Z" fill="#fff"/><path d="M408.70 188.86 L411.34 191.50 L408.70 194.14 L406.06 191.50 Z" fill="#00008b"/><path d="M407.96 191.85 L409.44 191.85 L408.70 192.59 Z" fill="#fff"/><path d="M410.10 196.36 L412.74 199.00 L410.10 201.64 L407.46 199.00 Z" fill="#00008b"/><path d="M409.36 199.35 L410.84 199.35 L410.10 200.09 Z" fill="#fff"/><path d="M418.70 217.86 L421.34 220.50 L418.70 223.14 L416.06 220.50 Z" fill="#00008b"/><path d="M417.96 220.85 L419.44 220.85 L418.70 221.59 Z" fill="#fff"/><path d="M420.10 221.86 L422.74 224.50 L420.10 227.14 L417.46 224.50 Z" fill="#00008b"/><path d="M419.36 224.85 L420.84 224.85 L420.10 225.59 Z" fill="#fff"/><path d="M429.40 236.36 L432.04 239.00 L429.40 241.64 L426.76 239.00 Z" fill="#00008b"/><path d="M428.66 239.35 L430.14 239.35 L429.40 240.09 Z" fill="#fff"/><path d="M439.40 236.96 L442.04 239.60 L439.40 242.24 L436.76 239.60 Z" fill="#00008b"/><path d="M438.66 239.95 L440.14 239.95 L439.40 240.69 Z" fill="#fff"/><line x1="409.40" y1="191.00" x2="409.40" y2="199.00" stroke="#111" stroke-width="1.1"/><text transform="translate(362.90,284.00) scale(0.97,1)" font-family="Liberation Sans, sans-serif" font-size="9.6" font-weight="bold" fill="#111" text-anchor="middle" word-spacing="-1.3"><tspan font-style="italic">c</tspan> (Cl<tspan font-size="6.24" dy="1.73">2</tspan><tspan dy="-1.73" font-size="0.1">&#8203;</tspan>) [µM]</text><text transform="translate(251.00,213.80) rotate(-90) scale(0.94,1)" font-family="Liberation Sans, sans-serif" font-size="9.6" font-weight="bold" fill="#111" text-anchor="middle"><tspan font-style="italic">c</tspan> [nM]</text><rect x="283.93" y="161.03" width="6.14" height="6.14" fill="none" stroke="#a6a6a6" stroke-width="1.3"/><text transform="translate(303.30,167.20) scale(1.05,1)" font-family="Liberation Sans, sans-serif" font-size="10.1" font-weight="normal" fill="#1a1a1a" text-anchor="start" >ho<tspan font-size="6.57" dy="-3.53">5</tspan><tspan dy="3.53" font-size="0.1">&#8203;</tspan>U</text><path d="M343.50 160.84 L346.76 164.10 L343.50 167.36 L340.24 164.10 Z" fill="none" stroke="#5a5aff" stroke-width="1.1"/><text transform="translate(360.00,167.20) scale(1.05,1)" font-family="Liberation Sans, sans-serif" font-size="10.1" font-weight="normal" fill="#1a1a1a" text-anchor="start" >oxo<tspan font-size="6.57" dy="-3.53">8</tspan><tspan dy="3.53" font-size="0.1">&#8203;</tspan>A</text><path d="M405.60 160.40 L409.30 164.10 L405.60 167.80 L401.90 164.10 Z" fill="#00008b"/><path d="M403.40 164.45 L407.80 164.45 L405.60 166.65 Z" fill="#fff"/><text transform="translate(422.00,167.20) scale(1.05,1)" font-family="Liberation Sans, sans-serif" font-size="10.1" font-weight="normal" fill="#1a1a1a" text-anchor="start" >Cl<tspan font-size="6.57" dy="-3.53">8</tspan><tspan dy="3.53" font-size="0.1">&#8203;</tspan>A</text>
<line x1="572.6" y1="176.9" x2="572.6" y2="238.6" stroke="#000" stroke-width="1.2" stroke-dasharray="1.1 1.7"/><rect x="587.55" y="211.00" width="5.70" height="28.60" fill="#fac3dd" stroke="#000" stroke-width="1.0"/><rect x="597.55" y="196.00" width="5.70" height="43.60" fill="#fac3dd" stroke="#000" stroke-width="1.0"/><rect x="607.55" y="238.50" width="5.70" height="1.10" fill="#fac3dd" stroke="#000" stroke-width="1.0"/><rect x="644.15" y="230.00" width="5.70" height="9.60" fill="#f372a6" stroke="#000" stroke-width="1.0"/><rect x="654.15" y="233.00" width="5.70" height="6.60" fill="#f372a6" stroke="#000" stroke-width="1.0"/><line x1="518" y1="176.60" x2="518" y2="239.6" stroke="#000" stroke-width="1.8"/><line x1="509.4" y1="239.6" x2="686" y2="239.6" stroke="#000" stroke-width="1.8"/><line x1="509.4" y1="177.4" x2="518" y2="177.4" stroke="#000" stroke-width="1.7"/><text transform="translate(507.40,180.30) scale(0.92,1)" font-family="Liberation Sans, sans-serif" font-size="8.4" font-weight="bold" fill="#111" text-anchor="end">400</text><line x1="509.4" y1="208.5" x2="518" y2="208.5" stroke="#000" stroke-width="1.7"/><text transform="translate(507.40,211.40) scale(0.92,1)" font-family="Liberation Sans, sans-serif" font-size="8.4" font-weight="bold" fill="#111" text-anchor="end">200</text><line x1="509.4" y1="239.6" x2="518" y2="239.6" stroke="#000" stroke-width="1.7"/><text transform="translate(507.40,242.50) scale(0.92,1)" font-family="Liberation Sans, sans-serif" font-size="8.4" font-weight="bold" fill="#111" text-anchor="end">0</text><line x1="524.0" y1="239.6" x2="524.0" y2="248.2" stroke="#000" stroke-width="1.7"/><text transform="translate(526.90,258.20) rotate(-45) scale(0.725,1)" font-family="Liberation Sans, sans-serif" font-size="8.8" font-weight="bold" fill="#111" stroke="#111" stroke-width="0.2" text-anchor="end">0</text><line x1="534.0" y1="239.6" x2="534.0" y2="248.2" stroke="#000" stroke-width="1.7"/><text transform="translate(536.90,258.20) rotate(-45) scale(0.725,1)" font-family="Liberation Sans, sans-serif" font-size="8.8" font-weight="bold" fill="#111" stroke="#111" stroke-width="0.2" text-anchor="end">25</text><line x1="544.0" y1="239.6" x2="544.0" y2="248.2" stroke="#000" stroke-width="1.7"/><text transform="translate(546.90,258.20) rotate(-45) scale(0.725,1)" font-family="Liberation Sans, sans-serif" font-size="8.8" font-weight="bold" fill="#111" stroke="#111" stroke-width="0.2" text-anchor="end">50</text><line x1="554.0" y1="239.6" x2="554.0" y2="248.2" stroke="#000" stroke-width="1.7"/><text transform="translate(556.90,258.20) rotate(-45) scale(0.725,1)" font-family="Liberation Sans, sans-serif" font-size="8.8" font-weight="bold" fill="#111" stroke="#111" stroke-width="0.2" text-anchor="end">200</text><line x1="564.0" y1="239.6" x2="564.0" y2="248.2" stroke="#000" stroke-width="1.7"/><text transform="translate(566.90,258.20) rotate(-45) scale(0.725,1)" font-family="Liberation Sans, sans-serif" font-size="8.8" font-weight="bold" fill="#111" stroke="#111" stroke-width="0.2" text-anchor="end">500</text><line x1="580.4" y1="239.6" x2="580.4" y2="248.2" stroke="#000" stroke-width="1.7"/><text transform="translate(583.30,258.20) rotate(-45) scale(0.725,1)" font-family="Liberation Sans, sans-serif" font-size="8.8" font-weight="bold" fill="#111" stroke="#111" stroke-width="0.2" text-anchor="end">0</text><line x1="590.4" y1="239.6" x2="590.4" y2="248.2" stroke="#000" stroke-width="1.7"/><text transform="translate(593.30,258.20) rotate(-45) scale(0.725,1)" font-family="Liberation Sans, sans-serif" font-size="8.8" font-weight="bold" fill="#111" stroke="#111" stroke-width="0.2" text-anchor="end">25</text><line x1="600.4" y1="239.6" x2="600.4" y2="248.2" stroke="#000" stroke-width="1.7"/><text transform="translate(603.30,258.20) rotate(-45) scale(0.725,1)" font-family="Liberation Sans, sans-serif" font-size="8.8" font-weight="bold" fill="#111" stroke="#111" stroke-width="0.2" text-anchor="end">50</text><line x1="610.4" y1="239.6" x2="610.4" y2="248.2" stroke="#000" stroke-width="1.7"/><text transform="translate(613.30,258.20) rotate(-45) scale(0.725,1)" font-family="Liberation Sans, sans-serif" font-size="8.8" font-weight="bold" fill="#111" stroke="#111" stroke-width="0.2" text-anchor="end">200</text><line x1="620.4" y1="239.6" x2="620.4" y2="248.2" stroke="#000" stroke-width="1.7"/><text transform="translate(623.30,258.20) rotate(-45) scale(0.725,1)" font-family="Liberation Sans, sans-serif" font-size="8.8" font-weight="bold" fill="#111" stroke="#111" stroke-width="0.2" text-anchor="end">500</text><line x1="637.0" y1="239.6" x2="637.0" y2="248.2" stroke="#000" stroke-width="1.7"/><text transform="translate(639.90,258.20) rotate(-45) scale(0.725,1)" font-family="Liberation Sans, sans-serif" font-size="8.8" font-weight="bold" fill="#111" stroke="#111" stroke-width="0.2" text-anchor="end">0</text><line x1="647.0" y1="239.6" x2="647.0" y2="248.2" stroke="#000" stroke-width="1.7"/><text transform="translate(649.90,258.20) rotate(-45) scale(0.725,1)" font-family="Liberation Sans, sans-serif" font-size="8.8" font-weight="bold" fill="#111" stroke="#111" stroke-width="0.2" text-anchor="end">25</text><line x1="657.0" y1="239.6" x2="657.0" y2="248.2" stroke="#000" stroke-width="1.7"/><text transform="translate(659.90,258.20) rotate(-45) scale(0.725,1)" font-family="Liberation Sans, sans-serif" font-size="8.8" font-weight="bold" fill="#111" stroke="#111" stroke-width="0.2" text-anchor="end">50</text><line x1="667.0" y1="239.6" x2="667.0" y2="248.2" stroke="#000" stroke-width="1.7"/><text transform="translate(669.90,258.20) rotate(-45) scale(0.725,1)" font-family="Liberation Sans, sans-serif" font-size="8.8" font-weight="bold" fill="#111" stroke="#111" stroke-width="0.2" text-anchor="end">200</text><line x1="677.0" y1="239.6" x2="677.0" y2="248.2" stroke="#000" stroke-width="1.7"/><text transform="translate(679.90,258.20) rotate(-45) scale(0.725,1)" font-family="Liberation Sans, sans-serif" font-size="8.8" font-weight="bold" fill="#111" stroke="#111" stroke-width="0.2" text-anchor="end">500</text><rect x="522.62" y="238.12" width="2.76" height="2.76" fill="none" stroke="#a6a6a6" stroke-width="1.8"/><rect x="532.62" y="238.12" width="2.76" height="2.76" fill="none" stroke="#a6a6a6" stroke-width="1.8"/><rect x="542.62" y="238.12" width="2.76" height="2.76" fill="none" stroke="#a6a6a6" stroke-width="1.8"/><rect x="552.62" y="238.12" width="2.76" height="2.76" fill="none" stroke="#a6a6a6" stroke-width="1.8"/><rect x="562.62" y="238.12" width="2.76" height="2.76" fill="none" stroke="#a6a6a6" stroke-width="1.8"/><path d="M578.08 236.64 L582.72 236.64 L580.40 240.82 Z" fill="#ff5a8c"/><path d="M587.38 201.14 L592.02 201.14 L589.70 205.32 Z" fill="#ff5a8c"/><path d="M588.78 213.14 L593.42 213.14 L591.10 217.32 Z" fill="#ff5a8c"/><path d="M597.38 191.64 L602.02 191.64 L599.70 195.82 Z" fill="#ff5a8c"/><path d="M598.78 195.64 L603.42 195.64 L601.10 199.82 Z" fill="#ff5a8c"/><path d="M608.08 236.14 L612.72 236.14 L610.40 240.32 Z" fill="#ff5a8c"/><path d="M618.08 237.44 L622.72 237.44 L620.40 241.62 Z" fill="#ff5a8c"/><line x1="590.40" y1="203.00" x2="590.40" y2="215.00" stroke="#ff5a8c" stroke-width="1.1"/><path d="M637.00 237.71 L638.37 240.58 L635.63 240.58 Z" fill="none" stroke="#a8005a" stroke-width="1.5"/><path d="M646.30 226.41 L647.67 229.28 L644.93 229.28 Z" fill="none" stroke="#a8005a" stroke-width="1.5"/><path d="M647.70 229.41 L649.07 232.28 L646.33 232.28 Z" fill="none" stroke="#a8005a" stroke-width="1.5"/><path d="M656.30 229.91 L657.67 232.78 L654.93 232.78 Z" fill="none" stroke="#a8005a" stroke-width="1.5"/><path d="M657.70 231.41 L659.07 234.28 L656.33 234.28 Z" fill="none" stroke="#a8005a" stroke-width="1.5"/><path d="M667.00 237.41 L668.37 240.28 L665.63 240.28 Z" fill="none" stroke="#a8005a" stroke-width="1.5"/><path d="M677.00 237.71 L678.37 240.58 L675.63 240.58 Z" fill="none" stroke="#a8005a" stroke-width="1.5"/><text transform="translate(600.50,282.60) scale(0.97,1)" font-family="Liberation Sans, sans-serif" font-size="9.6" font-weight="bold" fill="#111" text-anchor="middle" word-spacing="-1.3"><tspan font-style="italic">c</tspan> (Cl<tspan font-size="6.24" dy="1.73">2</tspan><tspan dy="-1.73" font-size="0.1">&#8203;</tspan>) [µM]</text><text transform="translate(488.00,212.80) rotate(-90) scale(0.94,1)" font-family="Liberation Sans, sans-serif" font-size="9.6" font-weight="bold" fill="#111" text-anchor="middle"><tspan font-style="italic">c</tspan> [nM]</text><rect x="521.33" y="160.83" width="6.14" height="6.14" fill="none" stroke="#a6a6a6" stroke-width="1.3"/><text transform="translate(540.70,167.00) scale(1.05,1)" font-family="Liberation Sans, sans-serif" font-size="10.1" font-weight="normal" fill="#1a1a1a" text-anchor="start" >ho<tspan font-size="6.57" dy="-3.53">5</tspan><tspan dy="3.53" font-size="0.1">&#8203;</tspan>U</text><path d="M576.23 159.88 L583.77 159.88 L580.00 166.67 Z" fill="#ff5a8c"/><text transform="translate(596.60,167.00) scale(1.05,1)" font-family="Liberation Sans, sans-serif" font-size="10.1" font-weight="normal" fill="#1a1a1a" text-anchor="start" >oxo<tspan font-size="6.57" dy="-3.53">8</tspan><tspan dy="3.53" font-size="0.1">&#8203;</tspan>G</text><path d="M643.40 160.68 L646.17 166.48 L640.63 166.48 Z" fill="none" stroke="#a8005a" stroke-width="1.25"/><text transform="translate(659.70,167.00) scale(1.05,1)" font-family="Liberation Sans, sans-serif" font-size="10.1" font-weight="normal" fill="#1a1a1a" text-anchor="start" >Cl<tspan font-size="6.57" dy="-3.53">8</tspan><tspan dy="3.53" font-size="0.1">&#8203;</tspan>G</text>
<line x1="90.6" y1="324.5" x2="90.6" y2="386.4" stroke="#000" stroke-width="1.2" stroke-dasharray="1.1 1.7"/><rect x="42.15" y="349.40" width="5.70" height="38.00" fill="#c6c6f8" stroke="#000" stroke-width="1.0"/><rect x="51.65" y="344.00" width="5.70" height="43.40" fill="#c6c6f8" stroke="#000" stroke-width="1.0"/><rect x="61.15" y="358.00" width="5.70" height="29.40" fill="#c6c6f8" stroke="#000" stroke-width="1.0"/><rect x="95.15" y="366.40" width="5.70" height="21.00" fill="#fac3dd" stroke="#000" stroke-width="1.0"/><rect x="104.70" y="378.60" width="5.70" height="8.80" fill="#fac3dd" stroke="#000" stroke-width="1.0"/><line x1="39.4" y1="324.20" x2="39.4" y2="387.4" stroke="#000" stroke-width="1.8"/><line x1="30.799999999999997" y1="387.4" x2="143.6" y2="387.4" stroke="#000" stroke-width="1.8"/><line x1="30.799999999999997" y1="325" x2="39.4" y2="325" stroke="#000" stroke-width="1.7"/><text transform="translate(28.80,327.90) scale(0.92,1)" font-family="Liberation Sans, sans-serif" font-size="8.4" font-weight="bold" fill="#111" text-anchor="end">30</text><line x1="30.799999999999997" y1="345.8" x2="39.4" y2="345.8" stroke="#000" stroke-width="1.7"/><text transform="translate(28.80,348.70) scale(0.92,1)" font-family="Liberation Sans, sans-serif" font-size="8.4" font-weight="bold" fill="#111" text-anchor="end">20</text><line x1="30.799999999999997" y1="366.6" x2="39.4" y2="366.6" stroke="#000" stroke-width="1.7"/><text transform="translate(28.80,369.50) scale(0.92,1)" font-family="Liberation Sans, sans-serif" font-size="8.4" font-weight="bold" fill="#111" text-anchor="end">10</text><line x1="30.799999999999997" y1="387.4" x2="39.4" y2="387.4" stroke="#000" stroke-width="1.7"/><text transform="translate(28.80,390.30) scale(0.92,1)" font-family="Liberation Sans, sans-serif" font-size="8.4" font-weight="bold" fill="#111" text-anchor="end">0</text><line x1="45.0" y1="387.4" x2="45.0" y2="396.0" stroke="#000" stroke-width="1.7"/><text transform="translate(47.90,406.00) rotate(-45) scale(0.725,1)" font-family="Liberation Sans, sans-serif" font-size="8.8" font-weight="bold" fill="#111" stroke="#111" stroke-width="0.2" text-anchor="end">0</text><line x1="54.5" y1="387.4" x2="54.5" y2="396.0" stroke="#000" stroke-width="1.7"/><text transform="translate(57.40,406.00) rotate(-45) scale(0.725,1)" font-family="Liberation Sans, sans-serif" font-size="8.8" font-weight="bold" fill="#111" stroke="#111" stroke-width="0.2" text-anchor="end">25</text><line x1="64.0" y1="387.4" x2="64.0" y2="396.0" stroke="#000" stroke-width="1.7"/><text transform="translate(66.90,406.00) rotate(-45) scale(0.725,1)" font-family="Liberation Sans, sans-serif" font-size="8.8" font-weight="bold" fill="#111" stroke="#111" stroke-width="0.2" text-anchor="end">50</text><line x1="73.5" y1="387.4" x2="73.5" y2="396.0" stroke="#000" stroke-width="1.7"/><text transform="translate(76.40,406.00) rotate(-45) scale(0.725,1)" font-family="Liberation Sans, sans-serif" font-size="8.8" font-weight="bold" fill="#111" stroke="#111" stroke-width="0.2" text-anchor="end">200</text><line x1="83.0" y1="387.4" x2="83.0" y2="396.0" stroke="#000" stroke-width="1.7"/><text transform="translate(85.90,406.00) rotate(-45) scale(0.725,1)" font-family="Liberation Sans, sans-serif" font-size="8.8" font-weight="bold" fill="#111" stroke="#111" stroke-width="0.2" text-anchor="end">500</text><line x1="98.0" y1="387.4" x2="98.0" y2="396.0" stroke="#000" stroke-width="1.7"/><text transform="translate(100.90,406.00) rotate(-45) scale(0.725,1)" font-family="Liberation Sans, sans-serif" font-size="8.8" font-weight="bold" fill="#111" stroke="#111" stroke-width="0.2" text-anchor="end">0</text><line x1="107.55" y1="387.4" x2="107.55" y2="396.0" stroke="#000" stroke-width="1.7"/><text transform="translate(110.45,406.00) rotate(-45) scale(0.725,1)" font-family="Liberation Sans, sans-serif" font-size="8.8" font-weight="bold" fill="#111" stroke="#111" stroke-width="0.2" text-anchor="end">25</text><line x1="117.1" y1="387.4" x2="117.1" y2="396.0" stroke="#000" stroke-width="1.7"/><text transform="translate(120.00,406.00) rotate(-45) scale(0.725,1)" font-family="Liberation Sans, sans-serif" font-size="8.8" font-weight="bold" fill="#111" stroke="#111" stroke-width="0.2" text-anchor="end">50</text><line x1="126.65" y1="387.4" x2="126.65" y2="396.0" stroke="#000" stroke-width="1.7"/><text transform="translate(129.55,406.00) rotate(-45) scale(0.725,1)" font-family="Liberation Sans, sans-serif" font-size="8.8" font-weight="bold" fill="#111" stroke="#111" stroke-width="0.2" text-anchor="end">200</text><line x1="136.2" y1="387.4" x2="136.2" y2="396.0" stroke="#000" stroke-width="1.7"/><text transform="translate(139.10,406.00) rotate(-45) scale(0.725,1)" font-family="Liberation Sans, sans-serif" font-size="8.8" font-weight="bold" fill="#111" stroke="#111" stroke-width="0.2" text-anchor="end">500</text><path d="M44.40 330.20 L46.70 332.50 L44.40 334.80 L42.10 332.50 Z" fill="#1433ff"/><path d="M45.80 353.70 L48.09 356.00 L45.80 358.30 L43.50 356.00 Z" fill="#1433ff"/><path d="M45.00 357.70 L47.30 360.00 L45.00 362.30 L42.70 360.00 Z" fill="#1433ff"/><path d="M53.90 330.20 L56.20 332.50 L53.90 334.80 L51.60 332.50 Z" fill="#1433ff"/><path d="M55.30 347.70 L57.59 350.00 L55.30 352.30 L53.00 350.00 Z" fill="#1433ff"/><path d="M54.50 350.70 L56.80 353.00 L54.50 355.30 L52.20 353.00 Z" fill="#1433ff"/><path d="M63.30 353.20 L65.59 355.50 L63.30 357.80 L61.00 355.50 Z" fill="#1433ff"/><path d="M64.70 357.70 L67.00 360.00 L64.70 362.30 L62.41 360.00 Z" fill="#1433ff"/><path d="M73.50 384.70 L75.80 387.00 L73.50 389.30 L71.20 387.00 Z" fill="#1433ff"/><path d="M83.00 384.70 L85.30 387.00 L83.00 389.30 L80.70 387.00 Z" fill="#1433ff"/><line x1="45.00" y1="332.40" x2="45.00" y2="363.00" stroke="#1433ff" stroke-width="1.1"/><line x1="54.50" y1="332.50" x2="54.50" y2="353.00" stroke="#1433ff" stroke-width="1.1"/><line x1="64.00" y1="355.00" x2="64.00" y2="361.00" stroke="#1433ff" stroke-width="1.1"/><path d="M97.40 354.54 L99.87 358.97 L94.94 358.97 Z" fill="#d4006a"/><path d="M98.80 367.54 L101.27 371.97 L96.33 371.97 Z" fill="#d4006a"/><path d="M98.00 369.54 L100.47 373.97 L95.53 373.97 Z" fill="#d4006a"/><path d="M106.85 371.54 L109.31 375.97 L104.38 375.97 Z" fill="#d4006a"/><path d="M108.25 378.54 L110.72 382.97 L105.78 382.97 Z" fill="#d4006a"/><path d="M117.10 384.14 L119.56 388.57 L114.63 388.57 Z" fill="#d4006a"/><path d="M126.65 384.34 L129.12 388.77 L124.19 388.77 Z" fill="#d4006a"/><path d="M136.20 384.34 L138.66 388.77 L133.73 388.77 Z" fill="#d4006a"/><line x1="98.00" y1="356.00" x2="98.00" y2="373.00" stroke="#d4006a" stroke-width="1.1"/><line x1="107.55" y1="373.00" x2="107.55" y2="383.00" stroke="#d4006a" stroke-width="1.1"/><text transform="translate(90.80,430.50) scale(0.97,1)" font-family="Liberation Sans, sans-serif" font-size="9.6" font-weight="bold" fill="#111" text-anchor="middle" word-spacing="-1.3"><tspan font-style="italic">c</tspan> (Cl<tspan font-size="6.24" dy="1.73">2</tspan><tspan dy="-1.73" font-size="0.1">&#8203;</tspan>) [µM]</text><text transform="translate(13.50,359.80) rotate(-90) scale(0.94,1)" font-family="Liberation Sans, sans-serif" font-size="9.6" font-weight="bold" fill="#111" text-anchor="middle"><tspan font-style="italic">c</tspan> [µM]</text><path d="M55.40 307.39 L58.91 310.90 L55.40 314.41 L51.89 310.90 Z" fill="#0000cd"/><text transform="translate(72.00,314.00) scale(1.05,1)" font-family="Liberation Sans, sans-serif" font-size="10.1" font-weight="normal" fill="#1a1a1a" text-anchor="start" >A</text><path d="M108.80 307.27 L112.42 313.80 L105.17 313.80 Z" fill="#d4006a"/><text transform="translate(124.50,314.00) scale(1.05,1)" font-family="Liberation Sans, sans-serif" font-size="10.1" font-weight="normal" fill="#1a1a1a" text-anchor="start" >G</text>
<line x1="342.4" y1="325.5" x2="342.4" y2="387.4" stroke="#000" stroke-width="1.2" stroke-dasharray="1.1 1.7"/><rect x="250.90" y="384.00" width="5.70" height="4.40" fill="#a9a9ee" stroke="#000" stroke-width="1.0"/><rect x="260.25" y="373.60" width="5.70" height="14.80" fill="#a9a9ee" stroke="#000" stroke-width="1.0"/><rect x="269.60" y="376.60" width="5.70" height="11.80" fill="#a9a9ee" stroke="#000" stroke-width="1.0"/><rect x="278.95" y="385.50" width="5.70" height="2.90" fill="#a9a9ee" stroke="#000" stroke-width="1.0"/><rect x="303.50" y="377.60" width="5.70" height="10.80" fill="#8f8fee" stroke="#000" stroke-width="1.0"/><rect x="312.85" y="340.00" width="5.70" height="48.40" fill="#8f8fee" stroke="#000" stroke-width="1.0"/><rect x="322.20" y="386.50" width="5.70" height="1.90" fill="#8f8fee" stroke="#000" stroke-width="1.0"/><rect x="331.55" y="387.50" width="5.70" height="0.90" fill="#8f8fee" stroke="#000" stroke-width="1.0"/><rect x="347.15" y="387.00" width="5.70" height="1.40" fill="#fac3dd" stroke="#000" stroke-width="1.0"/><rect x="356.48" y="373.60" width="5.70" height="14.80" fill="#fac3dd" stroke="#000" stroke-width="1.0"/><rect x="365.81" y="367.00" width="5.70" height="21.40" fill="#fac3dd" stroke="#000" stroke-width="1.0"/><rect x="409.05" y="366.40" width="5.70" height="22.00" fill="#f372a6" stroke="#000" stroke-width="1.0"/><rect x="418.35" y="380.60" width="5.70" height="7.80" fill="#f372a6" stroke="#000" stroke-width="1.0"/><line x1="239" y1="325.20" x2="239" y2="388.4" stroke="#000" stroke-width="1.8"/><line x1="230.4" y1="388.4" x2="447.4" y2="388.4" stroke="#000" stroke-width="1.8"/><line x1="230.4" y1="326" x2="239" y2="326" stroke="#000" stroke-width="1.7"/><text transform="translate(228.40,328.90) scale(0.92,1)" font-family="Liberation Sans, sans-serif" font-size="8.4" font-weight="bold" fill="#111" text-anchor="end">150</text><line x1="230.4" y1="346.8" x2="239" y2="346.8" stroke="#000" stroke-width="1.7"/><text transform="translate(228.40,349.70) scale(0.92,1)" font-family="Liberation Sans, sans-serif" font-size="8.4" font-weight="bold" fill="#111" text-anchor="end">100</text><line x1="230.4" y1="367.6" x2="239" y2="367.6" stroke="#000" stroke-width="1.7"/><text transform="translate(228.40,370.50) scale(0.92,1)" font-family="Liberation Sans, sans-serif" font-size="8.4" font-weight="bold" fill="#111" text-anchor="end">50</text><line x1="230.4" y1="388.4" x2="239" y2="388.4" stroke="#000" stroke-width="1.7"/><text transform="translate(228.40,391.30) scale(0.92,1)" font-family="Liberation Sans, sans-serif" font-size="8.4" font-weight="bold" fill="#111" text-anchor="end">0</text><line x1="244.4" y1="388.4" x2="244.4" y2="397.0" stroke="#000" stroke-width="1.7"/><text transform="translate(247.30,407.00) rotate(-45) scale(0.725,1)" font-family="Liberation Sans, sans-serif" font-size="8.8" font-weight="bold" fill="#111" stroke="#111" stroke-width="0.2" text-anchor="end">0</text><line x1="253.75" y1="388.4" x2="253.75" y2="397.0" stroke="#000" stroke-width="1.7"/><text transform="translate(256.65,407.00) rotate(-45) scale(0.725,1)" font-family="Liberation Sans, sans-serif" font-size="8.8" font-weight="bold" fill="#111" stroke="#111" stroke-width="0.2" text-anchor="end">25</text><line x1="263.1" y1="388.4" x2="263.1" y2="397.0" stroke="#000" stroke-width="1.7"/><text transform="translate(266.00,407.00) rotate(-45) scale(0.725,1)" font-family="Liberation Sans, sans-serif" font-size="8.8" font-weight="bold" fill="#111" stroke="#111" stroke-width="0.2" text-anchor="end">50</text><line x1="272.45" y1="388.4" x2="272.45" y2="397.0" stroke="#000" stroke-width="1.7"/><text transform="translate(275.35,407.00) rotate(-45) scale(0.725,1)" font-family="Liberation Sans, sans-serif" font-size="8.8" font-weight="bold" fill="#111" stroke="#111" stroke-width="0.2" text-anchor="end">200</text><line x1="281.8" y1="388.4" x2="281.8" y2="397.0" stroke="#000" stroke-width="1.7"/><text transform="translate(284.70,407.00) rotate(-45) scale(0.725,1)" font-family="Liberation Sans, sans-serif" font-size="8.8" font-weight="bold" fill="#111" stroke="#111" stroke-width="0.2" text-anchor="end">500</text><line x1="297.0" y1="388.4" x2="297.0" y2="397.0" stroke="#000" stroke-width="1.7"/><text transform="translate(299.90,407.00) rotate(-45) scale(0.725,1)" font-family="Liberation Sans, sans-serif" font-size="8.8" font-weight="bold" fill="#111" stroke="#111" stroke-width="0.2" text-anchor="end">0</text><line x1="306.35" y1="388.4" x2="306.35" y2="397.0" stroke="#000" stroke-width="1.7"/><text transform="translate(309.25,407.00) rotate(-45) scale(0.725,1)" font-family="Liberation Sans, sans-serif" font-size="8.8" font-weight="bold" fill="#111" stroke="#111" stroke-width="0.2" text-anchor="end">25</text><line x1="315.7" y1="388.4" x2="315.7" y2="397.0" stroke="#000" stroke-width="1.7"/><text transform="translate(318.60,407.00) rotate(-45) scale(0.725,1)" font-family="Liberation Sans, sans-serif" font-size="8.8" font-weight="bold" fill="#111" stroke="#111" stroke-width="0.2" text-anchor="end">50</text><line x1="325.05" y1="388.4" x2="325.05" y2="397.0" stroke="#000" stroke-width="1.7"/><text transform="translate(327.95,407.00) rotate(-45) scale(0.725,1)" font-family="Liberation Sans, sans-serif" font-size="8.8" font-weight="bold" fill="#111" stroke="#111" stroke-width="0.2" text-anchor="end">200</text><line x1="334.4" y1="388.4" x2="334.4" y2="397.0" stroke="#000" stroke-width="1.7"/><text transform="translate(337.30,407.00) rotate(-45) scale(0.725,1)" font-family="Liberation Sans, sans-serif" font-size="8.8" font-weight="bold" fill="#111" stroke="#111" stroke-width="0.2" text-anchor="end">500</text><line x1="350.0" y1="388.4" x2="350.0" y2="397.0" stroke="#000" stroke-width="1.7"/><text transform="translate(352.90,407.00) rotate(-45) scale(0.725,1)" font-family="Liberation Sans, sans-serif" font-size="8.8" font-weight="bold" fill="#111" stroke="#111" stroke-width="0.2" text-anchor="end">0</text><line x1="359.33" y1="388.4" x2="359.33" y2="397.0" stroke="#000" stroke-width="1.7"/><text transform="translate(362.23,407.00) rotate(-45) scale(0.725,1)" font-family="Liberation Sans, sans-serif" font-size="8.8" font-weight="bold" fill="#111" stroke="#111" stroke-width="0.2" text-anchor="end">25</text><line x1="368.66" y1="388.4" x2="368.66" y2="397.0" stroke="#000" stroke-width="1.7"/><text transform="translate(371.56,407.00) rotate(-45) scale(0.725,1)" font-family="Liberation Sans, sans-serif" font-size="8.8" font-weight="bold" fill="#111" stroke="#111" stroke-width="0.2" text-anchor="end">50</text><line x1="377.99" y1="388.4" x2="377.99" y2="397.0" stroke="#000" stroke-width="1.7"/><text transform="translate(380.89,407.00) rotate(-45) scale(0.725,1)" font-family="Liberation Sans, sans-serif" font-size="8.8" font-weight="bold" fill="#111" stroke="#111" stroke-width="0.2" text-anchor="end">200</text><line x1="387.32" y1="388.4" x2="387.32" y2="397.0" stroke="#000" stroke-width="1.7"/><text transform="translate(390.22,407.00) rotate(-45) scale(0.725,1)" font-family="Liberation Sans, sans-serif" font-size="8.8" font-weight="bold" fill="#111" stroke="#111" stroke-width="0.2" text-anchor="end">500</text><line x1="402.6" y1="388.4" x2="402.6" y2="397.0" stroke="#000" stroke-width="1.7"/><text transform="translate(405.50,407.00) rotate(-45) scale(0.725,1)" font-family="Liberation Sans, sans-serif" font-size="8.8" font-weight="bold" fill="#111" stroke="#111" stroke-width="0.2" text-anchor="end">0</text><line x1="411.90000000000003" y1="388.4" x2="411.90000000000003" y2="397.0" stroke="#000" stroke-width="1.7"/><text transform="translate(414.80,407.00) rotate(-45) scale(0.725,1)" font-family="Liberation Sans, sans-serif" font-size="8.8" font-weight="bold" fill="#111" stroke="#111" stroke-width="0.2" text-anchor="end">25</text><line x1="421.20000000000005" y1="388.4" x2="421.20000000000005" y2="397.0" stroke="#000" stroke-width="1.7"/><text transform="translate(424.10,407.00) rotate(-45) scale(0.725,1)" font-family="Liberation Sans, sans-serif" font-size="8.8" font-weight="bold" fill="#111" stroke="#111" stroke-width="0.2" text-anchor="end">50</text><line x1="430.5" y1="388.4" x2="430.5" y2="397.0" stroke="#000" stroke-width="1.7"/><text transform="translate(433.40,407.00) rotate(-45) scale(0.725,1)" font-family="Liberation Sans, sans-serif" font-size="8.8" font-weight="bold" fill="#111" stroke="#111" stroke-width="0.2" text-anchor="end">200</text><line x1="439.8" y1="388.4" x2="439.8" y2="397.0" stroke="#000" stroke-width="1.7"/><text transform="translate(442.70,407.00) rotate(-45) scale(0.725,1)" font-family="Liberation Sans, sans-serif" font-size="8.8" font-weight="bold" fill="#111" stroke="#111" stroke-width="0.2" text-anchor="end">500</text><path d="M244.40 386.20 L246.40 388.20 L244.40 390.20 L242.40 388.20 Z" fill="none" stroke="#7b7bff" stroke-width="1.15"/><path d="M253.05 380.50 L255.05 382.50 L253.05 384.50 L251.05 382.50 Z" fill="none" stroke="#7b7bff" stroke-width="1.15"/><path d="M254.45 382.00 L256.45 384.00 L254.45 386.00 L252.45 384.00 Z" fill="none" stroke="#7b7bff" stroke-width="1.15"/><path d="M262.50 364.00 L264.50 366.00 L262.50 368.00 L260.50 366.00 Z" fill="none" stroke="#7b7bff" stroke-width="1.15"/><path d="M263.90 375.00 L265.90 377.00 L263.90 379.00 L261.90 377.00 Z" fill="none" stroke="#7b7bff" stroke-width="1.15"/><path d="M263.10 376.00 L265.10 378.00 L263.10 380.00 L261.10 378.00 Z" fill="none" stroke="#7b7bff" stroke-width="1.15"/><path d="M271.85 368.50 L273.85 370.50 L271.85 372.50 L269.85 370.50 Z" fill="none" stroke="#7b7bff" stroke-width="1.15"/><path d="M273.25 377.00 L275.25 379.00 L273.25 381.00 L271.25 379.00 Z" fill="none" stroke="#7b7bff" stroke-width="1.15"/><path d="M272.45 379.00 L274.45 381.00 L272.45 383.00 L270.45 381.00 Z" fill="none" stroke="#7b7bff" stroke-width="1.15"/><path d="M281.10 382.00 L283.10 384.00 L281.10 386.00 L279.10 384.00 Z" fill="none" stroke="#7b7bff" stroke-width="1.15"/><path d="M282.50 385.00 L284.50 387.00 L282.50 389.00 L280.50 387.00 Z" fill="none" stroke="#7b7bff" stroke-width="1.15"/><line x1="263.10" y1="366.00" x2="263.10" y2="381.00" stroke="#7b7bff" stroke-width="1.1"/><line x1="272.45" y1="370.50" x2="272.45" y2="383.00" stroke="#7b7bff" stroke-width="1.1"/><path d="M297.00 385.56 L299.64 388.20 L297.00 390.84 L294.36 388.20 Z" fill="#00008b"/><path d="M296.26 388.55 L297.74 388.55 L297.00 389.29 Z" fill="#fff"/><path d="M305.75 367.86 L308.39 370.50 L305.75 373.14 L303.11 370.50 Z" fill="#00008b"/><path d="M305.01 370.85 L306.49 370.85 L305.75 371.59 Z" fill="#fff"/><path d="M307.15 376.86 L309.79 379.50 L307.15 382.14 L304.51 379.50 Z" fill="#00008b"/><path d="M306.41 379.85 L307.89 379.85 L307.15 380.59 Z" fill="#fff"/><path d="M306.35 379.36 L308.99 382.00 L306.35 384.64 L303.71 382.00 Z" fill="#00008b"/><path d="M305.61 382.35 L307.09 382.35 L306.35 383.09 Z" fill="#fff"/><path d="M315.10 327.36 L317.74 330.00 L315.10 332.64 L312.46 330.00 Z" fill="#00008b"/><path d="M314.36 330.35 L315.84 330.35 L315.10 331.09 Z" fill="#fff"/><path d="M316.50 339.36 L319.14 342.00 L316.50 344.64 L313.86 342.00 Z" fill="#00008b"/><path d="M315.76 342.35 L317.24 342.35 L316.50 343.09 Z" fill="#fff"/><path d="M315.70 342.36 L318.34 345.00 L315.70 347.64 L313.06 345.00 Z" fill="#00008b"/><path d="M314.96 345.35 L316.44 345.35 L315.70 346.09 Z" fill="#fff"/><path d="M325.05 383.36 L327.69 386.00 L325.05 388.64 L322.41 386.00 Z" fill="#00008b"/><path d="M324.31 386.35 L325.79 386.35 L325.05 387.09 Z" fill="#fff"/><path d="M334.40 384.86 L337.04 387.50 L334.40 390.14 L331.76 387.50 Z" fill="#00008b"/><path d="M333.66 387.85 L335.14 387.85 L334.40 388.59 Z" fill="#fff"/><line x1="306.35" y1="370.00" x2="306.35" y2="385.00" stroke="#00008b" stroke-width="1.1"/><line x1="315.70" y1="330.00" x2="315.70" y2="350.00" stroke="#00008b" stroke-width="1.1"/><path d="M346.98 382.14 L351.62 382.14 L349.30 386.32 Z" fill="#ff5a8c"/><path d="M348.38 385.14 L353.02 385.14 L350.70 389.32 Z" fill="#ff5a8c"/><path d="M356.31 368.64 L360.95 368.64 L358.63 372.82 Z" fill="#ff5a8c"/><path d="M357.71 374.14 L362.35 374.14 L360.03 378.32 Z" fill="#ff5a8c"/><path d="M365.64 359.64 L370.28 359.64 L367.96 363.82 Z" fill="#ff5a8c"/><path d="M367.04 367.64 L371.68 367.64 L369.36 371.82 Z" fill="#ff5a8c"/><path d="M375.67 386.14 L380.31 386.14 L377.99 390.32 Z" fill="#ff5a8c"/><path d="M385.00 386.14 L389.64 386.14 L387.32 390.32 Z" fill="#ff5a8c"/><line x1="359.33" y1="371.00" x2="359.33" y2="377.00" stroke="#ff5a8c" stroke-width="1.1"/><line x1="368.66" y1="361.00" x2="368.66" y2="372.00" stroke="#ff5a8c" stroke-width="1.1"/><path d="M402.60 386.40 L403.97 389.28 L401.23 389.28 Z" fill="none" stroke="#a8005a" stroke-width="1.5"/><path d="M411.30 358.40 L412.67 361.28 L409.93 361.28 Z" fill="none" stroke="#a8005a" stroke-width="1.5"/><path d="M412.70 365.40 L414.07 368.28 L411.33 368.28 Z" fill="none" stroke="#a8005a" stroke-width="1.5"/><path d="M411.90 368.40 L413.27 371.28 L410.53 371.28 Z" fill="none" stroke="#a8005a" stroke-width="1.5"/><path d="M420.50 376.40 L421.87 379.28 L419.13 379.28 Z" fill="none" stroke="#a8005a" stroke-width="1.5"/><path d="M421.90 379.90 L423.27 382.78 L420.53 382.78 Z" fill="none" stroke="#a8005a" stroke-width="1.5"/><path d="M430.50 386.40 L431.87 389.28 L429.13 389.28 Z" fill="none" stroke="#a8005a" stroke-width="1.5"/><path d="M439.80 386.40 L441.17 389.28 L438.43 389.28 Z" fill="none" stroke="#a8005a" stroke-width="1.5"/><line x1="411.90" y1="360.00" x2="411.90" y2="372.00" stroke="#a8005a" stroke-width="1.1"/><text transform="translate(342.70,431.30) scale(0.97,1)" font-family="Liberation Sans, sans-serif" font-size="9.6" font-weight="bold" fill="#111" text-anchor="middle" word-spacing="-1.3"><tspan font-style="italic">c</tspan> (Cl<tspan font-size="6.24" dy="1.73">2</tspan><tspan dy="-1.73" font-size="0.1">&#8203;</tspan>) [µM]</text><text transform="translate(201.90,360.80) rotate(-90) scale(0.94,1)" font-family="Liberation Sans, sans-serif" font-size="9.6" font-weight="bold" fill="#111" text-anchor="middle"><tspan font-style="italic">c</tspan> [nM]</text><path d="M246.60 307.64 L249.86 310.90 L246.60 314.16 L243.34 310.90 Z" fill="none" stroke="#5a5aff" stroke-width="1.1"/><text transform="translate(256.50,314.00) scale(1.05,1)" font-family="Liberation Sans, sans-serif" font-size="10.1" font-weight="normal" fill="#1a1a1a" text-anchor="start" >oxo<tspan font-size="6.57" dy="-3.53">8</tspan><tspan dy="3.53" font-size="0.1">&#8203;</tspan>A</text><path d="M303.00 307.20 L306.70 310.90 L303.00 314.60 L299.30 310.90 Z" fill="#00008b"/><path d="M300.80 311.25 L305.20 311.25 L303.00 313.45 Z" fill="#fff"/><text transform="translate(313.20,314.00) scale(1.05,1)" font-family="Liberation Sans, sans-serif" font-size="10.1" font-weight="normal" fill="#1a1a1a" text-anchor="start" >Cl<tspan font-size="6.57" dy="-3.53">8</tspan><tspan dy="3.53" font-size="0.1">&#8203;</tspan>A</text><path d="M347.43 306.88 L354.97 306.88 L351.20 313.67 Z" fill="#ff5a8c"/><text transform="translate(361.20,314.00) scale(1.05,1)" font-family="Liberation Sans, sans-serif" font-size="10.1" font-weight="normal" fill="#1a1a1a" text-anchor="start" >oxo<tspan font-size="6.57" dy="-3.53">8</tspan><tspan dy="3.53" font-size="0.1">&#8203;</tspan>G</text><path d="M408.40 307.68 L411.17 313.48 L405.63 313.48 Z" fill="none" stroke="#a8005a" stroke-width="1.25"/><text transform="translate(418.30,314.00) scale(1.05,1)" font-family="Liberation Sans, sans-serif" font-size="10.1" font-weight="normal" fill="#1a1a1a" text-anchor="start" >Cl<tspan font-size="6.57" dy="-3.53">8</tspan><tspan dy="3.53" font-size="0.1">&#8203;</tspan>G</text>
<path d="M521.83 371.46 L526.17 371.46 L524.00 375.38 Z" fill="#ff5a8c"/><path d="M531.60 377.06 L535.94 377.06 L533.77 380.98 Z" fill="#ff5a8c"/><path d="M541.37 364.56 L545.71 364.56 L543.54 368.48 Z" fill="#ff5a8c"/><path d="M551.13 340.76 L555.48 340.76 L553.31 344.68 Z" fill="#ff5a8c"/><path d="M560.91 351.56 L565.25 351.56 L563.08 355.48 Z" fill="#ff5a8c"/><path d="M570.68 365.06 L575.02 365.06 L572.85 368.98 Z" fill="#ff5a8c"/><path d="M580.45 383.26 L584.79 383.26 L582.62 387.18 Z" fill="#ff5a8c"/><path d="M590.22 383.86 L594.56 383.86 L592.39 387.78 Z" fill="#ff5a8c"/><rect x="521.15" y="380.00" width="5.70" height="8.40" fill="#fac3dd" stroke="#000" stroke-width="1.0"/><rect x="530.92" y="382.60" width="5.70" height="5.80" fill="#fac3dd" stroke="#000" stroke-width="1.0"/><rect x="540.69" y="371.00" width="5.70" height="17.40" fill="#fac3dd" stroke="#000" stroke-width="1.0"/><rect x="550.46" y="346.00" width="5.70" height="42.40" fill="#fac3dd" stroke="#000" stroke-width="1.0"/><rect x="560.23" y="355.40" width="5.70" height="33.00" fill="#fac3dd" stroke="#000" stroke-width="1.0"/><rect x="570.00" y="369.40" width="5.70" height="19.00" fill="#fac3dd" stroke="#000" stroke-width="1.0"/><rect x="579.77" y="386.50" width="5.70" height="1.90" fill="#fac3dd" stroke="#000" stroke-width="1.0"/><rect x="589.54" y="387.20" width="5.70" height="1.20" fill="#fac3dd" stroke="#000" stroke-width="1.0"/><rect x="625.65" y="380.60" width="5.70" height="7.80" fill="#efd3f8" stroke="#000" stroke-width="1.0"/><rect x="635.40" y="361.00" width="5.70" height="27.40" fill="#efd3f8" stroke="#000" stroke-width="1.0"/><rect x="645.15" y="361.50" width="5.70" height="26.90" fill="#efd3f8" stroke="#000" stroke-width="1.0"/><rect x="654.90" y="359.40" width="5.70" height="29.00" fill="#efd3f8" stroke="#000" stroke-width="1.0"/><rect x="664.65" y="345.00" width="5.70" height="43.40" fill="#efd3f8" stroke="#000" stroke-width="1.0"/><rect x="674.40" y="340.40" width="5.70" height="48.00" fill="#efd3f8" stroke="#000" stroke-width="1.0"/><line x1="518.6" y1="325.20" x2="518.6" y2="388.4" stroke="#000" stroke-width="1.8"/><line x1="510.0" y1="388.4" x2="686" y2="388.4" stroke="#000" stroke-width="1.8"/><line x1="510.0" y1="326" x2="518.6" y2="326" stroke="#000" stroke-width="1.7"/><text transform="translate(508.00,328.90) scale(0.92,1)" font-family="Liberation Sans, sans-serif" font-size="8.4" font-weight="bold" fill="#111" text-anchor="end">5</text><line x1="510.0" y1="338.5" x2="518.6" y2="338.5" stroke="#000" stroke-width="1.7"/><text transform="translate(508.00,341.40) scale(0.92,1)" font-family="Liberation Sans, sans-serif" font-size="8.4" font-weight="bold" fill="#111" text-anchor="end">4</text><line x1="510.0" y1="351" x2="518.6" y2="351" stroke="#000" stroke-width="1.7"/><text transform="translate(508.00,353.90) scale(0.92,1)" font-family="Liberation Sans, sans-serif" font-size="8.4" font-weight="bold" fill="#111" text-anchor="end">3</text><line x1="510.0" y1="363.4" x2="518.6" y2="363.4" stroke="#000" stroke-width="1.7"/><text transform="translate(508.00,366.30) scale(0.92,1)" font-family="Liberation Sans, sans-serif" font-size="8.4" font-weight="bold" fill="#111" text-anchor="end">2</text><line x1="510.0" y1="375.9" x2="518.6" y2="375.9" stroke="#000" stroke-width="1.7"/><text transform="translate(508.00,378.80) scale(0.92,1)" font-family="Liberation Sans, sans-serif" font-size="8.4" font-weight="bold" fill="#111" text-anchor="end">1</text><line x1="510.0" y1="388.4" x2="518.6" y2="388.4" stroke="#000" stroke-width="1.7"/><text transform="translate(508.00,391.30) scale(0.92,1)" font-family="Liberation Sans, sans-serif" font-size="8.4" font-weight="bold" fill="#111" text-anchor="end">0</text><line x1="524.0" y1="388.4" x2="524.0" y2="397.0" stroke="#000" stroke-width="1.7"/><text transform="translate(526.90,407.00) rotate(-45) scale(0.725,1)" font-family="Liberation Sans, sans-serif" font-size="8.8" font-weight="bold" fill="#111" stroke="#111" stroke-width="0.2" text-anchor="end">0</text><line x1="533.77" y1="388.4" x2="533.77" y2="397.0" stroke="#000" stroke-width="1.7"/><text transform="translate(536.67,407.00) rotate(-45) scale(0.725,1)" font-family="Liberation Sans, sans-serif" font-size="8.8" font-weight="bold" fill="#111" stroke="#111" stroke-width="0.2" text-anchor="end">10</text><line x1="543.54" y1="388.4" x2="543.54" y2="397.0" stroke="#000" stroke-width="1.7"/><text transform="translate(546.44,407.00) rotate(-45) scale(0.725,1)" font-family="Liberation Sans, sans-serif" font-size="8.8" font-weight="bold" fill="#111" stroke="#111" stroke-width="0.2" text-anchor="end">25</text><line x1="553.31" y1="388.4" x2="553.31" y2="397.0" stroke="#000" stroke-width="1.7"/><text transform="translate(556.21,407.00) rotate(-45) scale(0.725,1)" font-family="Liberation Sans, sans-serif" font-size="8.8" font-weight="bold" fill="#111" stroke="#111" stroke-width="0.2" text-anchor="end">50</text><line x1="563.08" y1="388.4" x2="563.08" y2="397.0" stroke="#000" stroke-width="1.7"/><text transform="translate(565.98,407.00) rotate(-45) scale(0.725,1)" font-family="Liberation Sans, sans-serif" font-size="8.8" font-weight="bold" fill="#111" stroke="#111" stroke-width="0.2" text-anchor="end">75</text><line x1="572.85" y1="388.4" x2="572.85" y2="397.0" stroke="#000" stroke-width="1.7"/><text transform="translate(575.75,407.00) rotate(-45) scale(0.725,1)" font-family="Liberation Sans, sans-serif" font-size="8.8" font-weight="bold" fill="#111" stroke="#111" stroke-width="0.2" text-anchor="end">100</text><line x1="582.62" y1="388.4" x2="582.62" y2="397.0" stroke="#000" stroke-width="1.7"/><text transform="translate(585.52,407.00) rotate(-45) scale(0.725,1)" font-family="Liberation Sans, sans-serif" font-size="8.8" font-weight="bold" fill="#111" stroke="#111" stroke-width="0.2" text-anchor="end">250</text><line x1="592.39" y1="388.4" x2="592.39" y2="397.0" stroke="#000" stroke-width="1.7"/><text transform="translate(595.29,407.00) rotate(-45) scale(0.725,1)" font-family="Liberation Sans, sans-serif" font-size="8.8" font-weight="bold" fill="#111" stroke="#111" stroke-width="0.2" text-anchor="end">500</text><line x1="609.0" y1="388.4" x2="609.0" y2="397.0" stroke="#000" stroke-width="1.7"/><text transform="translate(611.90,407.00) rotate(-45) scale(0.725,1)" font-family="Liberation Sans, sans-serif" font-size="8.8" font-weight="bold" fill="#111" stroke="#111" stroke-width="0.2" text-anchor="end">0</text><line x1="618.75" y1="388.4" x2="618.75" y2="397.0" stroke="#000" stroke-width="1.7"/><text transform="translate(621.65,407.00) rotate(-45) scale(0.725,1)" font-family="Liberation Sans, sans-serif" font-size="8.8" font-weight="bold" fill="#111" stroke="#111" stroke-width="0.2" text-anchor="end">10</text><line x1="628.5" y1="388.4" x2="628.5" y2="397.0" stroke="#000" stroke-width="1.7"/><text transform="translate(631.40,407.00) rotate(-45) scale(0.725,1)" font-family="Liberation Sans, sans-serif" font-size="8.8" font-weight="bold" fill="#111" stroke="#111" stroke-width="0.2" text-anchor="end">25</text><line x1="638.25" y1="388.4" x2="638.25" y2="397.0" stroke="#000" stroke-width="1.7"/><text transform="translate(641.15,407.00) rotate(-45) scale(0.725,1)" font-family="Liberation Sans, sans-serif" font-size="8.8" font-weight="bold" fill="#111" stroke="#111" stroke-width="0.2" text-anchor="end">50</text><line x1="648.0" y1="388.4" x2="648.0" y2="397.0" stroke="#000" stroke-width="1.7"/><text transform="translate(650.90,407.00) rotate(-45) scale(0.725,1)" font-family="Liberation Sans, sans-serif" font-size="8.8" font-weight="bold" fill="#111" stroke="#111" stroke-width="0.2" text-anchor="end">75</text><line x1="657.75" y1="388.4" x2="657.75" y2="397.0" stroke="#000" stroke-width="1.7"/><text transform="translate(660.65,407.00) rotate(-45) scale(0.725,1)" font-family="Liberation Sans, sans-serif" font-size="8.8" font-weight="bold" fill="#111" stroke="#111" stroke-width="0.2" text-anchor="end">100</text><line x1="667.5" y1="388.4" x2="667.5" y2="397.0" stroke="#000" stroke-width="1.7"/><text transform="translate(670.40,407.00) rotate(-45) scale(0.725,1)" font-family="Liberation Sans, sans-serif" font-size="8.8" font-weight="bold" fill="#111" stroke="#111" stroke-width="0.2" text-anchor="end">250</text><line x1="677.25" y1="388.4" x2="677.25" y2="397.0" stroke="#000" stroke-width="1.7"/><text transform="translate(680.15,407.00) rotate(-45) scale(0.725,1)" font-family="Liberation Sans, sans-serif" font-size="8.8" font-weight="bold" fill="#111" stroke="#111" stroke-width="0.2" text-anchor="end">500</text><line x1="524.00" y1="374.00" x2="524.00" y2="386.00" stroke="#111" stroke-width="1.1"/><line x1="522.20" y1="374.00" x2="525.80" y2="374.00" stroke="#111" stroke-width="1.1"/><line x1="522.20" y1="386.00" x2="525.80" y2="386.00" stroke="#111" stroke-width="1.1"/><line x1="533.77" y1="380.00" x2="533.77" y2="385.00" stroke="#111" stroke-width="1.1"/><line x1="531.97" y1="380.00" x2="535.57" y2="380.00" stroke="#111" stroke-width="1.1"/><line x1="531.97" y1="385.00" x2="535.57" y2="385.00" stroke="#111" stroke-width="1.1"/><line x1="543.54" y1="367.00" x2="543.54" y2="374.50" stroke="#111" stroke-width="1.1"/><line x1="541.74" y1="367.00" x2="545.34" y2="367.00" stroke="#111" stroke-width="1.1"/><line x1="541.74" y1="374.50" x2="545.34" y2="374.50" stroke="#111" stroke-width="1.1"/><line x1="553.31" y1="343.50" x2="553.31" y2="349.00" stroke="#111" stroke-width="1.1"/><line x1="551.51" y1="343.50" x2="555.11" y2="343.50" stroke="#111" stroke-width="1.1"/><line x1="551.51" y1="349.00" x2="555.11" y2="349.00" stroke="#111" stroke-width="1.1"/><line x1="563.08" y1="354.00" x2="563.08" y2="357.00" stroke="#111" stroke-width="1.1"/><line x1="561.28" y1="354.00" x2="564.88" y2="354.00" stroke="#111" stroke-width="1.1"/><line x1="561.28" y1="357.00" x2="564.88" y2="357.00" stroke="#111" stroke-width="1.1"/><line x1="572.85" y1="367.50" x2="572.85" y2="371.50" stroke="#111" stroke-width="1.1"/><line x1="571.05" y1="367.50" x2="574.65" y2="367.50" stroke="#111" stroke-width="1.1"/><line x1="571.05" y1="371.50" x2="574.65" y2="371.50" stroke="#111" stroke-width="1.1"/><line x1="582.62" y1="385.50" x2="582.62" y2="387.60" stroke="#111" stroke-width="1.1"/><line x1="580.82" y1="385.50" x2="584.42" y2="385.50" stroke="#111" stroke-width="1.1"/><line x1="580.82" y1="387.60" x2="584.42" y2="387.60" stroke="#111" stroke-width="1.1"/><line x1="592.39" y1="386.30" x2="592.39" y2="388.00" stroke="#111" stroke-width="1.1"/><line x1="590.59" y1="386.30" x2="594.19" y2="386.30" stroke="#111" stroke-width="1.1"/><line x1="590.59" y1="388.00" x2="594.19" y2="388.00" stroke="#111" stroke-width="1.1"/><circle cx="609.00" cy="388.40" r="2.12" fill="#7a00a8"/><circle cx="618.75" cy="388.40" r="2.12" fill="#7a00a8"/><circle cx="627.80" cy="362.50" r="2.12" fill="#7a00a8"/><circle cx="629.20" cy="388.00" r="2.12" fill="#7a00a8"/><circle cx="637.65" cy="353.50" r="2.12" fill="#7a00a8"/><circle cx="639.05" cy="361.50" r="2.12" fill="#7a00a8"/><circle cx="638.25" cy="366.00" r="2.12" fill="#7a00a8"/><circle cx="647.40" cy="357.00" r="2.12" fill="#7a00a8"/><circle cx="648.80" cy="362.00" r="2.12" fill="#7a00a8"/><circle cx="648.00" cy="364.00" r="2.12" fill="#7a00a8"/><circle cx="657.15" cy="352.00" r="2.12" fill="#7a00a8"/><circle cx="658.55" cy="361.00" r="2.12" fill="#7a00a8"/><circle cx="657.75" cy="363.00" r="2.12" fill="#7a00a8"/><circle cx="666.80" cy="340.50" r="2.12" fill="#7a00a8"/><circle cx="668.20" cy="345.50" r="2.12" fill="#7a00a8"/><circle cx="676.65" cy="335.00" r="2.12" fill="#7a00a8"/><circle cx="678.05" cy="340.00" r="2.12" fill="#7a00a8"/><circle cx="677.25" cy="344.00" r="2.12" fill="#7a00a8"/><line x1="628.50" y1="363.00" x2="628.50" y2="388.40" stroke="#111" stroke-width="1.1"/><line x1="626.70" y1="363.00" x2="630.30" y2="363.00" stroke="#111" stroke-width="1.1"/><line x1="626.70" y1="388.40" x2="630.30" y2="388.40" stroke="#111" stroke-width="1.1"/><line x1="638.25" y1="354.50" x2="638.25" y2="368.00" stroke="#111" stroke-width="1.1"/><line x1="636.45" y1="354.50" x2="640.05" y2="354.50" stroke="#111" stroke-width="1.1"/><line x1="636.45" y1="368.00" x2="640.05" y2="368.00" stroke="#111" stroke-width="1.1"/><line x1="648.00" y1="358.00" x2="648.00" y2="365.00" stroke="#111" stroke-width="1.1"/><line x1="646.20" y1="358.00" x2="649.80" y2="358.00" stroke="#111" stroke-width="1.1"/><line x1="646.20" y1="365.00" x2="649.80" y2="365.00" stroke="#111" stroke-width="1.1"/><line x1="657.75" y1="354.00" x2="657.75" y2="366.00" stroke="#111" stroke-width="1.1"/><line x1="655.95" y1="354.00" x2="659.55" y2="354.00" stroke="#111" stroke-width="1.1"/><line x1="655.95" y1="366.00" x2="659.55" y2="366.00" stroke="#111" stroke-width="1.1"/><line x1="667.50" y1="342.00" x2="667.50" y2="348.00" stroke="#111" stroke-width="1.1"/><line x1="665.70" y1="342.00" x2="669.30" y2="342.00" stroke="#111" stroke-width="1.1"/><line x1="665.70" y1="348.00" x2="669.30" y2="348.00" stroke="#111" stroke-width="1.1"/><line x1="677.25" y1="336.00" x2="677.25" y2="345.00" stroke="#111" stroke-width="1.1"/><line x1="675.45" y1="336.00" x2="679.05" y2="336.00" stroke="#111" stroke-width="1.1"/><line x1="675.45" y1="345.00" x2="679.05" y2="345.00" stroke="#111" stroke-width="1.1"/><text transform="translate(600.50,431.30) scale(0.97,1)" font-family="Liberation Sans, sans-serif" font-size="9.6" font-weight="bold" fill="#111" text-anchor="middle" word-spacing="-1.3"><tspan font-style="italic">c</tspan> (Cl<tspan font-size="6.24" dy="1.73">2</tspan><tspan dy="-1.73" font-size="0.1">&#8203;</tspan>) [µM]</text><text transform="translate(496.30,361.20) rotate(-90) scale(0.875,1)" font-family="Liberation Sans, sans-serif" font-size="9.6" font-weight="bold" fill="#111" text-anchor="middle">modi per G [%]</text><path d="M520.63 312.48 L528.17 312.48 L524.40 319.27 Z" fill="#ff5a8c"/><text transform="translate(540.40,319.60) scale(1.05,1)" font-family="Liberation Sans, sans-serif" font-size="10.1" font-weight="normal" fill="#1a1a1a" text-anchor="start" >oxo<tspan font-size="6.57" dy="-3.53">8</tspan><tspan dy="3.53" font-size="0.1">&#8203;</tspan>GMP</text><circle cx="631.00" cy="316.50" r="2.38" fill="#7a00a8"/><text transform="translate(646.60,319.60) scale(1.05,1)" font-family="Liberation Sans, sans-serif" font-size="10.1" font-weight="normal" fill="#1a1a1a" text-anchor="start" >5'-RP</text>
<line x1="518" y1="511.4" x2="685" y2="511.4" stroke="#888" stroke-width="0.9" stroke-dasharray="1 2"/><path d="M521.91 506.73 L526.09 506.73 L524.00 510.49 Z" fill="#ff5a8c"/><rect x="521.15" y="533.2" width="5.7" height="22.799999999999955" fill="#fac3dd"/><line x1="521.15" y1="533.2" x2="521.15" y2="556" stroke="#000" stroke-width="1.0"/><line x1="526.85" y1="533.2" x2="526.85" y2="556" stroke="#000" stroke-width="1.0"/><rect x="521.15" y="510" width="5.7" height="8" fill="#fac3dd"/><path d="M521.15 518 V510 H526.85 V518" fill="none" stroke="#000" stroke-width="1.0"/><path d="M531.68 507.23 L535.86 507.23 L533.77 510.99 Z" fill="#ff5a8c"/><rect x="530.92" y="533.2" width="5.7" height="22.799999999999955" fill="#fac3dd"/><line x1="530.92" y1="533.2" x2="530.92" y2="556" stroke="#000" stroke-width="1.0"/><line x1="536.62" y1="533.2" x2="536.62" y2="556" stroke="#000" stroke-width="1.0"/><rect x="530.92" y="510.5" width="5.7" height="7.5" fill="#fac3dd"/><path d="M530.92 518 V510.5 H536.62 V518" fill="none" stroke="#000" stroke-width="1.0"/><path d="M541.45 507.73 L545.63 507.73 L543.54 511.49 Z" fill="#ff5a8c"/><rect x="540.69" y="533.2" width="5.7" height="22.799999999999955" fill="#fac3dd"/><line x1="540.69" y1="533.2" x2="540.69" y2="556" stroke="#000" stroke-width="1.0"/><line x1="546.39" y1="533.2" x2="546.39" y2="556" stroke="#000" stroke-width="1.0"/><rect x="540.69" y="511" width="5.7" height="7" fill="#fac3dd"/><path d="M540.69 518 V511 H546.39 V518" fill="none" stroke="#000" stroke-width="1.0"/><rect x="550.46" y="547.60" width="5.70" height="8.40" fill="#fac3dd" stroke="#000" stroke-width="1.0"/><rect x="560.23" y="542.00" width="5.70" height="14.00" fill="#fac3dd" stroke="#000" stroke-width="1.0"/><rect x="570.00" y="544.40" width="5.70" height="11.60" fill="#fac3dd" stroke="#000" stroke-width="1.0"/><rect x="579.77" y="555.20" width="5.70" height="0.80" fill="#fac3dd" stroke="#000" stroke-width="1.0"/><rect x="606.15" y="545.00" width="5.70" height="11.00" fill="#efd3f8" stroke="#000" stroke-width="1.0"/><rect x="615.90" y="540.00" width="5.70" height="16.00" fill="#efd3f8" stroke="#000" stroke-width="1.0"/><rect x="625.65" y="535.00" width="5.70" height="21.00" fill="#efd3f8" stroke="#000" stroke-width="1.0"/><rect x="635.40" y="533.2" width="5.7" height="22.799999999999955" fill="#efd3f8"/><line x1="635.40" y1="533.2" x2="635.40" y2="556" stroke="#000" stroke-width="1.0"/><line x1="641.10" y1="533.2" x2="641.10" y2="556" stroke="#000" stroke-width="1.0"/><rect x="635.40" y="517" width="5.7" height="1" fill="#efd3f8"/><path d="M635.40 518 V517 H641.10 V518" fill="none" stroke="#000" stroke-width="1.0"/><rect x="645.15" y="533.2" width="5.7" height="22.799999999999955" fill="#efd3f8"/><line x1="645.15" y1="533.2" x2="645.15" y2="556" stroke="#000" stroke-width="1.0"/><line x1="650.85" y1="533.2" x2="650.85" y2="556" stroke="#000" stroke-width="1.0"/><rect x="645.15" y="513" width="5.7" height="5" fill="#efd3f8"/><path d="M645.15 518 V513 H650.85 V518" fill="none" stroke="#000" stroke-width="1.0"/><rect x="654.90" y="533.2" width="5.7" height="22.799999999999955" fill="#efd3f8"/><line x1="654.90" y1="533.2" x2="654.90" y2="556" stroke="#000" stroke-width="1.0"/><line x1="660.60" y1="533.2" x2="660.60" y2="556" stroke="#000" stroke-width="1.0"/><rect x="654.90" y="510" width="5.7" height="8" fill="#efd3f8"/><path d="M654.90 518 V510 H660.60 V518" fill="none" stroke="#000" stroke-width="1.0"/><rect x="664.65" y="533.2" width="5.7" height="22.799999999999955" fill="#efd3f8"/><line x1="664.65" y1="533.2" x2="664.65" y2="556" stroke="#000" stroke-width="1.0"/><line x1="670.35" y1="533.2" x2="670.35" y2="556" stroke="#000" stroke-width="1.0"/><rect x="664.65" y="492.4" width="5.7" height="25.600000000000023" fill="#efd3f8"/><path d="M664.65 518 V492.4 H670.35 V518" fill="none" stroke="#000" stroke-width="1.0"/><rect x="674.40" y="533.2" width="5.7" height="22.799999999999955" fill="#efd3f8"/><line x1="674.40" y1="533.2" x2="674.40" y2="556" stroke="#000" stroke-width="1.0"/><line x1="680.10" y1="533.2" x2="680.10" y2="556" stroke="#000" stroke-width="1.0"/><rect x="674.40" y="493.4" width="5.7" height="24.600000000000023" fill="#efd3f8"/><path d="M674.40 518 V493.4 H680.10 V518" fill="none" stroke="#000" stroke-width="1.0"/><line x1="518" y1="471.8" x2="518" y2="519.5" stroke="#000" stroke-width="1.8"/><line x1="518" y1="531.7" x2="518" y2="556" stroke="#000" stroke-width="1.8"/><line x1="509.4" y1="556" x2="686" y2="556" stroke="#000" stroke-width="1.8"/><line x1="514.6" y1="514.6" x2="523.4" y2="523.4" stroke="#000" stroke-width="1.8"/><line x1="513.6" y1="528.2" x2="523.2" y2="537.2" stroke="#000" stroke-width="1.8"/><line x1="509.4" y1="472.6" x2="518" y2="472.6" stroke="#000" stroke-width="1.7"/><text transform="translate(507.40,475.50) scale(0.92,1)" font-family="Liberation Sans, sans-serif" font-size="8.4" font-weight="bold" fill="#111" text-anchor="end">60</text><line x1="509.4" y1="496" x2="518" y2="496" stroke="#000" stroke-width="1.7"/><text transform="translate(507.40,498.90) scale(0.92,1)" font-family="Liberation Sans, sans-serif" font-size="8.4" font-weight="bold" fill="#111" text-anchor="end">30</text><line x1="509.4" y1="511.4" x2="518" y2="511.4" stroke="#000" stroke-width="1.7"/><text transform="translate(507.40,514.30) scale(0.92,1)" font-family="Liberation Sans, sans-serif" font-size="8.4" font-weight="bold" fill="#111" text-anchor="end">10</text><line x1="509.4" y1="533.6" x2="518" y2="533.6" stroke="#000" stroke-width="1.7"/><text transform="translate(507.40,536.50) scale(0.92,1)" font-family="Liberation Sans, sans-serif" font-size="8.4" font-weight="bold" fill="#111" text-anchor="end">0.6</text><line x1="509.4" y1="545" x2="518" y2="545" stroke="#000" stroke-width="1.7"/><text transform="translate(507.40,547.90) scale(0.92,1)" font-family="Liberation Sans, sans-serif" font-size="8.4" font-weight="bold" fill="#111" text-anchor="end">0.3</text><line x1="509.4" y1="556" x2="518" y2="556" stroke="#000" stroke-width="1.7"/><text transform="translate(507.40,558.90) scale(0.92,1)" font-family="Liberation Sans, sans-serif" font-size="8.4" font-weight="bold" fill="#111" text-anchor="end">0.0</text><line x1="524.0" y1="556" x2="524.0" y2="564.6" stroke="#000" stroke-width="1.7"/><text transform="translate(526.90,574.60) rotate(-45) scale(0.725,1)" font-family="Liberation Sans, sans-serif" font-size="8.8" font-weight="bold" fill="#111" stroke="#111" stroke-width="0.2" text-anchor="end">0</text><line x1="533.77" y1="556" x2="533.77" y2="564.6" stroke="#000" stroke-width="1.7"/><text transform="translate(536.67,574.60) rotate(-45) scale(0.725,1)" font-family="Liberation Sans, sans-serif" font-size="8.8" font-weight="bold" fill="#111" stroke="#111" stroke-width="0.2" text-anchor="end">10</text><line x1="543.54" y1="556" x2="543.54" y2="564.6" stroke="#000" stroke-width="1.7"/><text transform="translate(546.44,574.60) rotate(-45) scale(0.725,1)" font-family="Liberation Sans, sans-serif" font-size="8.8" font-weight="bold" fill="#111" stroke="#111" stroke-width="0.2" text-anchor="end">25</text><line x1="553.31" y1="556" x2="553.31" y2="564.6" stroke="#000" stroke-width="1.7"/><text transform="translate(556.21,574.60) rotate(-45) scale(0.725,1)" font-family="Liberation Sans, sans-serif" font-size="8.8" font-weight="bold" fill="#111" stroke="#111" stroke-width="0.2" text-anchor="end">50</text><line x1="563.08" y1="556" x2="563.08" y2="564.6" stroke="#000" stroke-width="1.7"/><text transform="translate(565.98,574.60) rotate(-45) scale(0.725,1)" font-family="Liberation Sans, sans-serif" font-size="8.8" font-weight="bold" fill="#111" stroke="#111" stroke-width="0.2" text-anchor="end">75</text><line x1="572.85" y1="556" x2="572.85" y2="564.6" stroke="#000" stroke-width="1.7"/><text transform="translate(575.75,574.60) rotate(-45) scale(0.725,1)" font-family="Liberation Sans, sans-serif" font-size="8.8" font-weight="bold" fill="#111" stroke="#111" stroke-width="0.2" text-anchor="end">100</text><line x1="582.62" y1="556" x2="582.62" y2="564.6" stroke="#000" stroke-width="1.7"/><text transform="translate(585.52,574.60) rotate(-45) scale(0.725,1)" font-family="Liberation Sans, sans-serif" font-size="8.8" font-weight="bold" fill="#111" stroke="#111" stroke-width="0.2" text-anchor="end">250</text><line x1="592.39" y1="556" x2="592.39" y2="564.6" stroke="#000" stroke-width="1.7"/><text transform="translate(595.29,574.60) rotate(-45) scale(0.725,1)" font-family="Liberation Sans, sans-serif" font-size="8.8" font-weight="bold" fill="#111" stroke="#111" stroke-width="0.2" text-anchor="end">500</text><line x1="609.0" y1="556" x2="609.0" y2="564.6" stroke="#000" stroke-width="1.7"/><text transform="translate(611.90,574.60) rotate(-45) scale(0.725,1)" font-family="Liberation Sans, sans-serif" font-size="8.8" font-weight="bold" fill="#111" stroke="#111" stroke-width="0.2" text-anchor="end">0</text><line x1="618.75" y1="556" x2="618.75" y2="564.6" stroke="#000" stroke-width="1.7"/><text transform="translate(621.65,574.60) rotate(-45) scale(0.725,1)" font-family="Liberation Sans, sans-serif" font-size="8.8" font-weight="bold" fill="#111" stroke="#111" stroke-width="0.2" text-anchor="end">10</text><line x1="628.5" y1="556" x2="628.5" y2="564.6" stroke="#000" stroke-width="1.7"/><text transform="translate(631.40,574.60) rotate(-45) scale(0.725,1)" font-family="Liberation Sans, sans-serif" font-size="8.8" font-weight="bold" fill="#111" stroke="#111" stroke-width="0.2" text-anchor="end">25</text><line x1="638.25" y1="556" x2="638.25" y2="564.6" stroke="#000" stroke-width="1.7"/><text transform="translate(641.15,574.60) rotate(-45) scale(0.725,1)" font-family="Liberation Sans, sans-serif" font-size="8.8" font-weight="bold" fill="#111" stroke="#111" stroke-width="0.2" text-anchor="end">50</text><line x1="648.0" y1="556" x2="648.0" y2="564.6" stroke="#000" stroke-width="1.7"/><text transform="translate(650.90,574.60) rotate(-45) scale(0.725,1)" font-family="Liberation Sans, sans-serif" font-size="8.8" font-weight="bold" fill="#111" stroke="#111" stroke-width="0.2" text-anchor="end">75</text><line x1="657.75" y1="556" x2="657.75" y2="564.6" stroke="#000" stroke-width="1.7"/><text transform="translate(660.65,574.60) rotate(-45) scale(0.725,1)" font-family="Liberation Sans, sans-serif" font-size="8.8" font-weight="bold" fill="#111" stroke="#111" stroke-width="0.2" text-anchor="end">100</text><line x1="667.5" y1="556" x2="667.5" y2="564.6" stroke="#000" stroke-width="1.7"/><text transform="translate(670.40,574.60) rotate(-45) scale(0.725,1)" font-family="Liberation Sans, sans-serif" font-size="8.8" font-weight="bold" fill="#111" stroke="#111" stroke-width="0.2" text-anchor="end">250</text><line x1="677.25" y1="556" x2="677.25" y2="564.6" stroke="#000" stroke-width="1.7"/><text transform="translate(680.15,574.60) rotate(-45) scale(0.725,1)" font-family="Liberation Sans, sans-serif" font-size="8.8" font-weight="bold" fill="#111" stroke="#111" stroke-width="0.2" text-anchor="end">500</text><line x1="524.00" y1="508.80" x2="524.00" y2="511.00" stroke="#111" stroke-width="1.1"/><line x1="522.20" y1="508.80" x2="525.80" y2="508.80" stroke="#111" stroke-width="1.1"/><line x1="522.20" y1="511.00" x2="525.80" y2="511.00" stroke="#111" stroke-width="1.1"/><line x1="533.77" y1="509.30" x2="533.77" y2="511.50" stroke="#111" stroke-width="1.1"/><line x1="531.97" y1="509.30" x2="535.57" y2="509.30" stroke="#111" stroke-width="1.1"/><line x1="531.97" y1="511.50" x2="535.57" y2="511.50" stroke="#111" stroke-width="1.1"/><line x1="543.54" y1="509.80" x2="543.54" y2="512.00" stroke="#111" stroke-width="1.1"/><line x1="541.74" y1="509.80" x2="545.34" y2="509.80" stroke="#111" stroke-width="1.1"/><line x1="541.74" y1="512.00" x2="545.34" y2="512.00" stroke="#111" stroke-width="1.1"/><path d="M551.22 540.83 L555.40 540.83 L553.31 544.59 Z" fill="#ff5a8c"/><path d="M551.22 547.33 L555.40 547.33 L553.31 551.09 Z" fill="#ff5a8c"/><line x1="553.31" y1="545.00" x2="553.31" y2="551.00" stroke="#111" stroke-width="1.1"/><line x1="551.51" y1="545.00" x2="555.11" y2="545.00" stroke="#111" stroke-width="1.1"/><line x1="551.51" y1="551.00" x2="555.11" y2="551.00" stroke="#111" stroke-width="1.1"/><path d="M560.99 535.83 L565.17 535.83 L563.08 539.59 Z" fill="#ff5a8c"/><path d="M560.99 543.33 L565.17 543.33 L563.08 547.09 Z" fill="#ff5a8c"/><line x1="563.08" y1="538.00" x2="563.08" y2="546.50" stroke="#111" stroke-width="1.1"/><line x1="561.28" y1="538.00" x2="564.88" y2="538.00" stroke="#111" stroke-width="1.1"/><line x1="561.28" y1="546.50" x2="564.88" y2="546.50" stroke="#111" stroke-width="1.1"/><path d="M570.76 537.33 L574.94 537.33 L572.85 541.09 Z" fill="#ff5a8c"/><path d="M570.76 544.33 L574.94 544.33 L572.85 548.09 Z" fill="#ff5a8c"/><line x1="572.85" y1="541.00" x2="572.85" y2="548.00" stroke="#111" stroke-width="1.1"/><line x1="571.05" y1="541.00" x2="574.65" y2="541.00" stroke="#111" stroke-width="1.1"/><line x1="571.05" y1="548.00" x2="574.65" y2="548.00" stroke="#111" stroke-width="1.1"/><path d="M580.53 552.33 L584.71 552.33 L582.62 556.09 Z" fill="#ff5a8c"/><path d="M590.30 553.63 L594.48 553.63 L592.39 557.39 Z" fill="#ff5a8c"/><circle cx="609.50" cy="542.00" r="2.12" fill="#7a00a8"/><circle cx="608.40" cy="546.50" r="2.12" fill="#7a00a8"/><line x1="609.00" y1="543.00" x2="609.00" y2="547.50" stroke="#111" stroke-width="1.1"/><line x1="607.20" y1="543.00" x2="610.80" y2="543.00" stroke="#111" stroke-width="1.1"/><line x1="607.20" y1="547.50" x2="610.80" y2="547.50" stroke="#111" stroke-width="1.1"/><circle cx="619.25" cy="536.50" r="2.12" fill="#7a00a8"/><circle cx="618.15" cy="539.00" r="2.12" fill="#7a00a8"/><circle cx="619.25" cy="546.00" r="2.12" fill="#7a00a8"/><line x1="618.75" y1="536.00" x2="618.75" y2="545.00" stroke="#111" stroke-width="1.1"/><line x1="616.95" y1="536.00" x2="620.55" y2="536.00" stroke="#111" stroke-width="1.1"/><line x1="616.95" y1="545.00" x2="620.55" y2="545.00" stroke="#111" stroke-width="1.1"/><circle cx="629.00" cy="533.50" r="2.12" fill="#7a00a8"/><circle cx="627.90" cy="539.50" r="2.12" fill="#7a00a8"/><line x1="628.50" y1="533.50" x2="628.50" y2="538.00" stroke="#111" stroke-width="1.1"/><line x1="626.70" y1="533.50" x2="630.30" y2="533.50" stroke="#111" stroke-width="1.1"/><line x1="626.70" y1="538.00" x2="630.30" y2="538.00" stroke="#111" stroke-width="1.1"/><circle cx="638.65" cy="517.00" r="2.12" fill="#7a00a8"/><circle cx="648.40" cy="511.50" r="2.12" fill="#7a00a8"/><circle cx="647.50" cy="513.00" r="2.12" fill="#7a00a8"/><line x1="648.00" y1="511.50" x2="648.00" y2="514.00" stroke="#111" stroke-width="1.1"/><line x1="646.20" y1="511.50" x2="649.80" y2="511.50" stroke="#111" stroke-width="1.1"/><line x1="646.20" y1="514.00" x2="649.80" y2="514.00" stroke="#111" stroke-width="1.1"/><circle cx="658.15" cy="507.00" r="2.12" fill="#7a00a8"/><circle cx="657.25" cy="510.50" r="2.12" fill="#7a00a8"/><line x1="657.75" y1="507.50" x2="657.75" y2="512.00" stroke="#111" stroke-width="1.1"/><line x1="655.95" y1="507.50" x2="659.55" y2="507.50" stroke="#111" stroke-width="1.1"/><line x1="655.95" y1="512.00" x2="659.55" y2="512.00" stroke="#111" stroke-width="1.1"/><circle cx="667.90" cy="487.00" r="2.12" fill="#7a00a8"/><circle cx="667.00" cy="493.00" r="2.12" fill="#7a00a8"/><circle cx="667.90" cy="496.00" r="2.12" fill="#7a00a8"/><line x1="667.50" y1="488.00" x2="667.50" y2="497.00" stroke="#111" stroke-width="1.1"/><line x1="665.70" y1="488.00" x2="669.30" y2="488.00" stroke="#111" stroke-width="1.1"/><line x1="665.70" y1="497.00" x2="669.30" y2="497.00" stroke="#111" stroke-width="1.1"/><circle cx="677.65" cy="473.50" r="2.12" fill="#7a00a8"/><circle cx="676.75" cy="496.50" r="2.12" fill="#7a00a8"/><circle cx="677.65" cy="507.50" r="2.12" fill="#7a00a8"/><line x1="677.25" y1="474.00" x2="677.25" y2="508.00" stroke="#111" stroke-width="1.1"/><line x1="675.45" y1="474.00" x2="679.05" y2="474.00" stroke="#111" stroke-width="1.1"/><line x1="675.45" y1="508.00" x2="679.05" y2="508.00" stroke="#111" stroke-width="1.1"/><text transform="translate(600.50,598.60) scale(0.97,1)" font-family="Liberation Sans, sans-serif" font-size="9.6" font-weight="bold" fill="#111" text-anchor="middle" word-spacing="-1.3"><tspan font-style="italic">c</tspan> (Cl<tspan font-size="6.24" dy="1.73">2</tspan><tspan dy="-1.73" font-size="0.1">&#8203;</tspan>) [µM]</text><text transform="translate(489.30,518.00) rotate(-90) scale(0.875,1)" font-family="Liberation Sans, sans-serif" font-size="9.6" font-weight="bold" fill="#111" text-anchor="middle">modi per G [%]</text><path d="M520.63 451.88 L528.17 451.88 L524.40 458.67 Z" fill="#ff5a8c"/><text transform="translate(540.40,459.00) scale(1.05,1)" font-family="Liberation Sans, sans-serif" font-size="10.1" font-weight="normal" fill="#1a1a1a" text-anchor="start" >oxo<tspan font-size="6.57" dy="-3.53">8</tspan><tspan dy="3.53" font-size="0.1">&#8203;</tspan>GMP</text><circle cx="631.00" cy="455.90" r="2.38" fill="#7a00a8"/><text transform="translate(646.60,459.00) scale(1.05,1)" font-family="Liberation Sans, sans-serif" font-size="10.1" font-weight="normal" fill="#1a1a1a" text-anchor="start" >5'-RP</text><path d="M521.8 503.5 C521.8 499.5 523.5 498.6 527 498.6 L531.5 498.6 C534 498.6 535.4 497 535.6 490.5 C535.8 497 537.2 498.6 539.7 498.6 L545 498.6 C548.6 498.6 550.2 499.5 550.2 503.5" fill="none" stroke="#111" stroke-width="0.9"/><g transform="translate(537.2,487.6) rotate(-28)"><text transform="translate(0.00,0.00) scale(1.0,1)" font-family="Liberation Sans, sans-serif" font-size="8.6" font-weight="bold" fill="#e8287a" text-anchor="start" >oxo<tspan font-size="5.59" dy="-3.01">8</tspan><tspan dy="3.01" font-size="0.1">&#8203;</tspan>G16</text></g>
<g transform="translate(0.00,0.00)" fill="none" stroke-width="4.0" stroke-linejoin="round"><polyline points="4.80,30.40 4.79,29.85 4.78,29.31 4.77,28.77 4.77,28.24 4.78,27.72 4.79,27.21 4.81,26.71 4.84,26.22 4.87,25.73 4.91,25.26 4.95,24.80 5.01,24.34 5.07,23.90 5.15,23.46" stroke="#707070" stroke-linecap="butt"/><circle cx="4.8" cy="30.4" r="2.0" fill="#707070" stroke="none"/><polyline points="5.15,23.46 5.23,23.04 5.32,22.63 5.42,22.23 5.54,21.83 5.66,21.46 5.80,21.09 5.95,20.73 6.11,20.39 6.28,20.06 6.47,19.74 6.67,19.43 6.89,19.14 7.12,18.86 7.36,18.59 7.62,18.34" stroke="#00a800" stroke-linecap="butt"/><polyline points="7.36,18.59 7.62,18.34 7.89,18.10 8.19,17.87 8.49,17.66 8.82,17.46 9.16,17.28 9.52,17.11 9.90,16.96 10.29,16.82 10.71,16.70 11.15,16.59 11.60,16.50 11.87,16.46 12.14,16.43 12.41,16.40 12.67,16.38 12.94,16.37 13.21,16.36 13.47,16.36 13.74,16.36 14.00,16.36 14.27,16.37" stroke="#707070" stroke-linecap="butt"/><polyline points="14.00,16.36 14.27,16.37 14.53,16.38 14.79,16.39 15.05,16.40 15.32,16.41 15.58,16.42 15.84,16.42 16.10,16.43 16.36,16.43 16.62,16.43 16.88,16.43 17.13,16.41 17.39,16.40 17.65,16.38 17.91,16.35 18.16,16.31 18.42,16.27 18.68,16.21 18.93,16.15 19.19,16.08 19.45,15.99 19.70,15.90 19.96,15.79 20.21,15.67 20.47,15.53 20.72,15.38 20.98,15.22 21.23,15.04 21.49,14.84 21.74,14.63 22.00,14.40 22.22,14.18 22.43,13.96 22.64,13.74 22.84,13.51 23.03,13.28 23.21,13.05 23.39,12.82 23.56,12.58" stroke="#00a800" stroke-linecap="butt"/><polyline points="23.39,12.82 23.56,12.58 23.72,12.34 23.88,12.10 24.03,11.86 24.17,11.61 24.31,11.36 24.44,11.11 24.56,10.85 24.68,10.59 24.79,10.33 24.90,10.07 25.00,9.80 25.10,9.53 25.19,9.25 25.28,8.97 25.36,8.69 25.43,8.40 25.51,8.11 25.57,7.82" stroke="#707070" stroke-linecap="butt"/><polyline points="25.51,8.11 25.57,7.82 25.64,7.52 25.69,7.22 25.75,6.92 25.80,6.61 25.84,6.30 25.88,5.98 25.92,5.66 25.96,5.34 25.99,5.01 26.02,4.67 26.04,4.34 26.06,4.00 26.08,3.65 26.10,3.30" stroke="#00a800" stroke-linecap="butt"/><circle cx="26.1" cy="3.3" r="2.0" fill="#00a800" stroke="none"/></g>
<g transform="translate(240.60,2.90)" fill="none" stroke-width="4.0" stroke-linejoin="round"><polyline points="4.80,30.40 4.79,29.85 4.78,29.31 4.77,28.77 4.77,28.24 4.78,27.72 4.79,27.21 4.81,26.71 4.84,26.22 4.87,25.73 4.91,25.26 4.95,24.80 5.01,24.34 5.07,23.90 5.15,23.46" stroke="#707070" stroke-linecap="butt"/><circle cx="4.8" cy="30.4" r="2.0" fill="#707070" stroke="none"/><polyline points="5.15,23.46 5.23,23.04 5.32,22.63 5.42,22.23 5.54,21.83 5.66,21.46 5.80,21.09 5.95,20.73 6.11,20.39 6.28,20.06 6.47,19.74 6.67,19.43 6.89,19.14 7.12,18.86 7.36,18.59 7.62,18.34" stroke="#0000cc" stroke-linecap="butt"/><polyline points="7.36,18.59 7.62,18.34 7.89,18.10 8.19,17.87 8.49,17.66 8.82,17.46 9.16,17.28 9.52,17.11 9.90,16.96 10.29,16.82 10.71,16.70 11.15,16.59 11.60,16.50 11.87,16.46 12.14,16.43 12.41,16.40 12.67,16.38 12.94,16.37 13.21,16.36 13.47,16.36 13.74,16.36 14.00,16.36 14.27,16.37" stroke="#707070" stroke-linecap="butt"/><polyline points="14.00,16.36 14.27,16.37 14.53,16.38 14.79,16.39 15.05,16.40 15.32,16.41 15.58,16.42 15.84,16.42 16.10,16.43 16.36,16.43 16.62,16.43 16.88,16.43 17.13,16.41 17.39,16.40 17.65,16.38 17.91,16.35 18.16,16.31 18.42,16.27 18.68,16.21 18.93,16.15 19.19,16.08 19.45,15.99 19.70,15.90 19.96,15.79 20.21,15.67 20.47,15.53 20.72,15.38 20.98,15.22 21.23,15.04 21.49,14.84 21.74,14.63 22.00,14.40 22.22,14.18 22.43,13.96 22.64,13.74 22.84,13.51 23.03,13.28 23.21,13.05 23.39,12.82 23.56,12.58" stroke="#0000cc" stroke-linecap="butt"/><polyline points="23.39,12.82 23.56,12.58 23.72,12.34 23.88,12.10 24.03,11.86 24.17,11.61 24.31,11.36 24.44,11.11 24.56,10.85 24.68,10.59 24.79,10.33 24.90,10.07 25.00,9.80 25.10,9.53 25.19,9.25 25.28,8.97 25.36,8.69 25.43,8.40 25.51,8.11 25.57,7.82" stroke="#707070" stroke-linecap="butt"/><polyline points="25.51,8.11 25.57,7.82 25.64,7.52 25.69,7.22 25.75,6.92 25.80,6.61 25.84,6.30 25.88,5.98 25.92,5.66 25.96,5.34 25.99,5.01 26.02,4.67 26.04,4.34 26.06,4.00 26.08,3.65 26.10,3.30" stroke="#0000cc" stroke-linecap="butt"/><circle cx="26.1" cy="3.3" r="2.0" fill="#0000cc" stroke="none"/></g>
<g transform="translate(478.80,2.60)" fill="none" stroke-width="4.0" stroke-linejoin="round"><polyline points="4.80,30.40 4.79,29.85 4.78,29.31 4.77,28.77 4.77,28.24 4.78,27.72 4.79,27.21 4.81,26.71 4.84,26.22 4.87,25.73 4.91,25.26 4.95,24.80 5.01,24.34 5.07,23.90 5.15,23.46" stroke="#707070" stroke-linecap="butt"/><circle cx="4.8" cy="30.4" r="2.0" fill="#707070" stroke="none"/><polyline points="5.15,23.46 5.23,23.04 5.32,22.63 5.42,22.23 5.54,21.83 5.66,21.46 5.80,21.09 5.95,20.73 6.11,20.39 6.28,20.06 6.47,19.74 6.67,19.43 6.89,19.14 7.12,18.86 7.36,18.59 7.62,18.34" stroke="#d4006a" stroke-linecap="butt"/><polyline points="7.36,18.59 7.62,18.34 7.89,18.10 8.19,17.87 8.49,17.66 8.82,17.46 9.16,17.28 9.52,17.11 9.90,16.96 10.29,16.82 10.71,16.70 11.15,16.59 11.60,16.50 11.87,16.46 12.14,16.43 12.41,16.40 12.67,16.38 12.94,16.37 13.21,16.36 13.47,16.36 13.74,16.36 14.00,16.36 14.27,16.37" stroke="#707070" stroke-linecap="butt"/><polyline points="14.00,16.36 14.27,16.37 14.53,16.38 14.79,16.39 15.05,16.40 15.32,16.41 15.58,16.42 15.84,16.42 16.10,16.43 16.36,16.43 16.62,16.43 16.88,16.43 17.13,16.41 17.39,16.40 17.65,16.38 17.91,16.35 18.16,16.31 18.42,16.27 18.68,16.21 18.93,16.15 19.19,16.08 19.45,15.99 19.70,15.90 19.96,15.79 20.21,15.67 20.47,15.53 20.72,15.38 20.98,15.22 21.23,15.04 21.49,14.84 21.74,14.63 22.00,14.40 22.22,14.18 22.43,13.96 22.64,13.74 22.84,13.51 23.03,13.28 23.21,13.05 23.39,12.82 23.56,12.58" stroke="#d4006a" stroke-linecap="butt"/><polyline points="23.39,12.82 23.56,12.58 23.72,12.34 23.88,12.10 24.03,11.86 24.17,11.61 24.31,11.36 24.44,11.11 24.56,10.85 24.68,10.59 24.79,10.33 24.90,10.07 25.00,9.80 25.10,9.53 25.19,9.25 25.28,8.97 25.36,8.69 25.43,8.40 25.51,8.11 25.57,7.82" stroke="#707070" stroke-linecap="butt"/><polyline points="25.51,8.11 25.57,7.82 25.64,7.52 25.69,7.22 25.75,6.92 25.80,6.61 25.84,6.30 25.88,5.98 25.92,5.66 25.96,5.34 25.99,5.01 26.02,4.67 26.04,4.34 26.06,4.00 26.08,3.65 26.10,3.30" stroke="#d4006a" stroke-linecap="butt"/><circle cx="26.1" cy="3.3" r="2.0" fill="#d4006a" stroke="none"/></g>
<g transform="translate(0.00,149.40)" fill="none" stroke-width="4.0" stroke-linejoin="round"><polyline points="4.80,30.40 4.79,29.85 4.78,29.31 4.77,28.77 4.77,28.24 4.78,27.72 4.79,27.21 4.81,26.71 4.84,26.22 4.87,25.73 4.91,25.26 4.95,24.80 5.01,24.34 5.07,23.90 5.15,23.46" stroke="#707070" stroke-linecap="butt"/><circle cx="4.8" cy="30.4" r="2.0" fill="#707070" stroke="none"/><polyline points="5.15,23.46 5.23,23.04 5.32,22.63 5.42,22.23 5.54,21.83 5.66,21.46 5.80,21.09 5.95,20.73 6.11,20.39 6.28,20.06 6.47,19.74 6.67,19.43 6.89,19.14 7.12,18.86 7.36,18.59 7.62,18.34" stroke="#00a800" stroke-linecap="butt"/><polyline points="7.36,18.59 7.62,18.34 7.89,18.10 8.19,17.87 8.49,17.66 8.82,17.46 9.16,17.28 9.52,17.11 9.90,16.96 10.29,16.82 10.71,16.70 11.15,16.59 11.60,16.50 11.87,16.46 12.14,16.43 12.41,16.40 12.67,16.38 12.94,16.37 13.21,16.36 13.47,16.36 13.74,16.36 14.00,16.36 14.27,16.37" stroke="#707070" stroke-linecap="butt"/><polyline points="14.00,16.36 14.27,16.37 14.53,16.38 14.79,16.39 15.05,16.40 15.32,16.41 15.58,16.42 15.84,16.42 16.10,16.43 16.36,16.43 16.62,16.43 16.88,16.43 17.13,16.41 17.39,16.40 17.65,16.38 17.91,16.35 18.16,16.31 18.42,16.27 18.68,16.21 18.93,16.15 19.19,16.08 19.45,15.99 19.70,15.90 19.96,15.79 20.21,15.67 20.47,15.53 20.72,15.38 20.98,15.22 21.23,15.04 21.49,14.84 21.74,14.63 22.00,14.40 22.22,14.18 22.43,13.96 22.64,13.74 22.84,13.51 23.03,13.28 23.21,13.05 23.39,12.82 23.56,12.58" stroke="#00a800" stroke-linecap="butt"/><polyline points="23.39,12.82 23.56,12.58 23.72,12.34 23.88,12.10 24.03,11.86 24.17,11.61 24.31,11.36 24.44,11.11 24.56,10.85 24.68,10.59 24.79,10.33 24.90,10.07 25.00,9.80 25.10,9.53 25.19,9.25 25.28,8.97 25.36,8.69 25.43,8.40 25.51,8.11 25.57,7.82" stroke="#707070" stroke-linecap="butt"/><polyline points="25.51,8.11 25.57,7.82 25.64,7.52 25.69,7.22 25.75,6.92 25.80,6.61 25.84,6.30 25.88,5.98 25.92,5.66 25.96,5.34 25.99,5.01 26.02,4.67 26.04,4.34 26.06,4.00 26.08,3.65 26.10,3.30" stroke="#00a800" stroke-linecap="butt"/><circle cx="26.1" cy="3.3" r="2.0" fill="#00a800" stroke="none"/></g>
<g transform="translate(237.60,149.40)" fill="none" stroke-width="4.0" stroke-linejoin="round"><polyline points="4.80,30.40 4.79,29.85 4.78,29.31 4.77,28.77 4.77,28.24 4.78,27.72 4.79,27.21 4.81,26.71 4.84,26.22 4.87,25.73 4.91,25.26 4.95,24.80 5.01,24.34 5.07,23.90 5.15,23.46" stroke="#707070" stroke-linecap="butt"/><circle cx="4.8" cy="30.4" r="2.0" fill="#707070" stroke="none"/><polyline points="5.15,23.46 5.23,23.04 5.32,22.63 5.42,22.23 5.54,21.83 5.66,21.46 5.80,21.09 5.95,20.73 6.11,20.39 6.28,20.06 6.47,19.74 6.67,19.43 6.89,19.14 7.12,18.86 7.36,18.59 7.62,18.34" stroke="#0000cc" stroke-linecap="butt"/><polyline points="7.36,18.59 7.62,18.34 7.89,18.10 8.19,17.87 8.49,17.66 8.82,17.46 9.16,17.28 9.52,17.11 9.90,16.96 10.29,16.82 10.71,16.70 11.15,16.59 11.60,16.50 11.87,16.46 12.14,16.43 12.41,16.40 12.67,16.38 12.94,16.37 13.21,16.36 13.47,16.36 13.74,16.36 14.00,16.36 14.27,16.37" stroke="#707070" stroke-linecap="butt"/><polyline points="14.00,16.36 14.27,16.37 14.53,16.38 14.79,16.39 15.05,16.40 15.32,16.41 15.58,16.42 15.84,16.42 16.10,16.43 16.36,16.43 16.62,16.43 16.88,16.43 17.13,16.41 17.39,16.40 17.65,16.38 17.91,16.35 18.16,16.31 18.42,16.27 18.68,16.21 18.93,16.15 19.19,16.08 19.45,15.99 19.70,15.90 19.96,15.79 20.21,15.67 20.47,15.53 20.72,15.38 20.98,15.22 21.23,15.04 21.49,14.84 21.74,14.63 22.00,14.40 22.22,14.18 22.43,13.96 22.64,13.74 22.84,13.51 23.03,13.28 23.21,13.05 23.39,12.82 23.56,12.58" stroke="#0000cc" stroke-linecap="butt"/><polyline points="23.39,12.82 23.56,12.58 23.72,12.34 23.88,12.10 24.03,11.86 24.17,11.61 24.31,11.36 24.44,11.11 24.56,10.85 24.68,10.59 24.79,10.33 24.90,10.07 25.00,9.80 25.10,9.53 25.19,9.25 25.28,8.97 25.36,8.69 25.43,8.40 25.51,8.11 25.57,7.82" stroke="#707070" stroke-linecap="butt"/><polyline points="25.51,8.11 25.57,7.82 25.64,7.52 25.69,7.22 25.75,6.92 25.80,6.61 25.84,6.30 25.88,5.98 25.92,5.66 25.96,5.34 25.99,5.01 26.02,4.67 26.04,4.34 26.06,4.00 26.08,3.65 26.10,3.30" stroke="#0000cc" stroke-linecap="butt"/><circle cx="26.1" cy="3.3" r="2.0" fill="#0000cc" stroke="none"/></g>
<g transform="translate(475.30,149.40)" fill="none" stroke-width="4.0" stroke-linejoin="round"><polyline points="4.80,30.40 4.79,29.85 4.78,29.31 4.77,28.77 4.77,28.24 4.78,27.72 4.79,27.21 4.81,26.71 4.84,26.22 4.87,25.73 4.91,25.26 4.95,24.80 5.01,24.34 5.07,23.90 5.15,23.46" stroke="#707070" stroke-linecap="butt"/><circle cx="4.8" cy="30.4" r="2.0" fill="#707070" stroke="none"/><polyline points="5.15,23.46 5.23,23.04 5.32,22.63 5.42,22.23 5.54,21.83 5.66,21.46 5.80,21.09 5.95,20.73 6.11,20.39 6.28,20.06 6.47,19.74 6.67,19.43 6.89,19.14 7.12,18.86 7.36,18.59 7.62,18.34" stroke="#d4006a" stroke-linecap="butt"/><polyline points="7.36,18.59 7.62,18.34 7.89,18.10 8.19,17.87 8.49,17.66 8.82,17.46 9.16,17.28 9.52,17.11 9.90,16.96 10.29,16.82 10.71,16.70 11.15,16.59 11.60,16.50 11.87,16.46 12.14,16.43 12.41,16.40 12.67,16.38 12.94,16.37 13.21,16.36 13.47,16.36 13.74,16.36 14.00,16.36 14.27,16.37" stroke="#707070" stroke-linecap="butt"/><polyline points="14.00,16.36 14.27,16.37 14.53,16.38 14.79,16.39 15.05,16.40 15.32,16.41 15.58,16.42 15.84,16.42 16.10,16.43 16.36,16.43 16.62,16.43 16.88,16.43 17.13,16.41 17.39,16.40 17.65,16.38 17.91,16.35 18.16,16.31 18.42,16.27 18.68,16.21 18.93,16.15 19.19,16.08 19.45,15.99 19.70,15.90 19.96,15.79 20.21,15.67 20.47,15.53 20.72,15.38 20.98,15.22 21.23,15.04 21.49,14.84 21.74,14.63 22.00,14.40 22.22,14.18 22.43,13.96 22.64,13.74 22.84,13.51 23.03,13.28 23.21,13.05 23.39,12.82 23.56,12.58" stroke="#d4006a" stroke-linecap="butt"/><polyline points="23.39,12.82 23.56,12.58 23.72,12.34 23.88,12.10 24.03,11.86 24.17,11.61 24.31,11.36 24.44,11.11 24.56,10.85 24.68,10.59 24.79,10.33 24.90,10.07 25.00,9.80 25.10,9.53 25.19,9.25 25.28,8.97 25.36,8.69 25.43,8.40 25.51,8.11 25.57,7.82" stroke="#707070" stroke-linecap="butt"/><polyline points="25.51,8.11 25.57,7.82 25.64,7.52 25.69,7.22 25.75,6.92 25.80,6.61 25.84,6.30 25.88,5.98 25.92,5.66 25.96,5.34 25.99,5.01 26.02,4.67 26.04,4.34 26.06,4.00 26.08,3.65 26.10,3.30" stroke="#d4006a" stroke-linecap="butt"/><circle cx="26.1" cy="3.3" r="2.0" fill="#d4006a" stroke="none"/></g>
<g transform="translate(-2.00,296.20)" fill="none" stroke-width="4.0" stroke-linejoin="round"><polyline points="4.80,30.40 4.79,29.85 4.78,29.31 4.77,28.77 4.77,28.24 4.78,27.72 4.79,27.21 4.81,26.71 4.84,26.22 4.87,25.73 4.91,25.26 4.95,24.80 5.01,24.34 5.07,23.90 5.15,23.46" stroke="#0000cc" stroke-linecap="butt"/><circle cx="4.8" cy="30.4" r="2.0" fill="#0000cc" stroke="none"/><polyline points="5.15,23.46 5.23,23.04 5.32,22.63 5.42,22.23 5.54,21.83 5.66,21.46 5.80,21.09 5.95,20.73 6.11,20.39 6.28,20.06 6.47,19.74 6.67,19.43 6.89,19.14 7.12,18.86 7.36,18.59 7.62,18.34" stroke="#d4006a" stroke-linecap="butt"/><polyline points="7.36,18.59 7.62,18.34 7.89,18.10 8.19,17.87 8.49,17.66 8.82,17.46 9.16,17.28 9.52,17.11 9.90,16.96 10.29,16.82 10.71,16.70 11.15,16.59 11.60,16.50 11.87,16.46 12.14,16.43 12.41,16.40 12.67,16.38 12.94,16.37 13.21,16.36 13.47,16.36 13.74,16.36 14.00,16.36 14.27,16.37" stroke="#0000cc" stroke-linecap="butt"/><polyline points="14.00,16.36 14.27,16.37 14.53,16.38 14.79,16.39 15.05,16.40 15.32,16.41 15.58,16.42 15.84,16.42 16.10,16.43 16.36,16.43 16.62,16.43 16.88,16.43 17.13,16.41 17.39,16.40 17.65,16.38 17.91,16.35 18.16,16.31 18.42,16.27 18.68,16.21 18.93,16.15 19.19,16.08 19.45,15.99 19.70,15.90 19.96,15.79 20.21,15.67 20.47,15.53 20.72,15.38 20.98,15.22 21.23,15.04 21.49,14.84 21.74,14.63 22.00,14.40 22.22,14.18 22.43,13.96 22.64,13.74 22.84,13.51 23.03,13.28 23.21,13.05 23.39,12.82 23.56,12.58" stroke="#d4006a" stroke-linecap="butt"/><polyline points="23.39,12.82 23.56,12.58 23.72,12.34 23.88,12.10 24.03,11.86 24.17,11.61 24.31,11.36 24.44,11.11 24.56,10.85 24.68,10.59 24.79,10.33 24.90,10.07 25.00,9.80 25.10,9.53 25.19,9.25 25.28,8.97 25.36,8.69 25.43,8.40 25.51,8.11 25.57,7.82" stroke="#0000cc" stroke-linecap="butt"/><polyline points="25.51,8.11 25.57,7.82 25.64,7.52 25.69,7.22 25.75,6.92 25.80,6.61 25.84,6.30 25.88,5.98 25.92,5.66 25.96,5.34 25.99,5.01 26.02,4.67 26.04,4.34 26.06,4.00 26.08,3.65 26.10,3.30" stroke="#d4006a" stroke-linecap="butt"/><circle cx="26.1" cy="3.3" r="2.0" fill="#d4006a" stroke="none"/></g>
<g transform="translate(188.80,296.20)" fill="none" stroke-width="4.0" stroke-linejoin="round"><polyline points="4.80,30.40 4.79,29.85 4.78,29.31 4.77,28.77 4.77,28.24 4.78,27.72 4.79,27.21 4.81,26.71 4.84,26.22 4.87,25.73 4.91,25.26 4.95,24.80 5.01,24.34 5.07,23.90 5.15,23.46" stroke="#0000cc" stroke-linecap="butt"/><circle cx="4.8" cy="30.4" r="2.0" fill="#0000cc" stroke="none"/><polyline points="5.15,23.46 5.23,23.04 5.32,22.63 5.42,22.23 5.54,21.83 5.66,21.46 5.80,21.09 5.95,20.73 6.11,20.39 6.28,20.06 6.47,19.74 6.67,19.43 6.89,19.14 7.12,18.86 7.36,18.59 7.62,18.34" stroke="#d4006a" stroke-linecap="butt"/><polyline points="7.36,18.59 7.62,18.34 7.89,18.10 8.19,17.87 8.49,17.66 8.82,17.46 9.16,17.28 9.52,17.11 9.90,16.96 10.29,16.82 10.71,16.70 11.15,16.59 11.60,16.50 11.87,16.46 12.14,16.43 12.41,16.40 12.67,16.38 12.94,16.37 13.21,16.36 13.47,16.36 13.74,16.36 14.00,16.36 14.27,16.37" stroke="#0000cc" stroke-linecap="butt"/><polyline points="14.00,16.36 14.27,16.37 14.53,16.38 14.79,16.39 15.05,16.40 15.32,16.41 15.58,16.42 15.84,16.42 16.10,16.43 16.36,16.43 16.62,16.43 16.88,16.43 17.13,16.41 17.39,16.40 17.65,16.38 17.91,16.35 18.16,16.31 18.42,16.27 18.68,16.21 18.93,16.15 19.19,16.08 19.45,15.99 19.70,15.90 19.96,15.79 20.21,15.67 20.47,15.53 20.72,15.38 20.98,15.22 21.23,15.04 21.49,14.84 21.74,14.63 22.00,14.40 22.22,14.18 22.43,13.96 22.64,13.74 22.84,13.51 23.03,13.28 23.21,13.05 23.39,12.82 23.56,12.58" stroke="#d4006a" stroke-linecap="butt"/><polyline points="23.39,12.82 23.56,12.58 23.72,12.34 23.88,12.10 24.03,11.86 24.17,11.61 24.31,11.36 24.44,11.11 24.56,10.85 24.68,10.59 24.79,10.33 24.90,10.07 25.00,9.80 25.10,9.53 25.19,9.25 25.28,8.97 25.36,8.69 25.43,8.40 25.51,8.11 25.57,7.82" stroke="#0000cc" stroke-linecap="butt"/><polyline points="25.51,8.11 25.57,7.82 25.64,7.52 25.69,7.22 25.75,6.92 25.80,6.61 25.84,6.30 25.88,5.98 25.92,5.66 25.96,5.34 25.99,5.01 26.02,4.67 26.04,4.34 26.06,4.00 26.08,3.65 26.10,3.30" stroke="#d4006a" stroke-linecap="butt"/><circle cx="26.1" cy="3.3" r="2.0" fill="#d4006a" stroke="none"/></g>
<g transform="translate(475.30,296.20)" fill="none" stroke-width="4.0" stroke-linejoin="round"><polyline points="4.80,30.40 4.79,29.85 4.78,29.31 4.77,28.77 4.77,28.24 4.78,27.72 4.79,27.21 4.81,26.71 4.84,26.22 4.87,25.73 4.91,25.26 4.95,24.80 5.01,24.34" stroke="#00cc00" stroke-linecap="butt"/><circle cx="4.8" cy="30.4" r="2.0" fill="#00cc00" stroke="none"/><polyline points="5.01,24.34 5.07,23.90 5.15,23.46 5.23,23.04 5.32,22.63 5.42,22.23 5.54,21.83 5.66,21.46 5.80,21.09 5.95,20.73 6.11,20.39 6.28,20.06 6.47,19.74" stroke="#d4006a" stroke-linecap="butt"/><polyline points="6.28,20.06 6.47,19.74 6.67,19.43 6.89,19.14 7.12,18.86 7.36,18.59 7.62,18.34 7.89,18.10 8.19,17.87 8.49,17.66 8.82,17.46 9.16,17.28 9.52,17.11 9.90,16.96 10.29,16.82" stroke="#707070" stroke-linecap="butt"/><polyline points="9.90,16.96 10.29,16.82 10.71,16.70 11.15,16.59 11.60,16.50 11.87,16.46 12.14,16.43 12.41,16.40 12.67,16.38 12.94,16.37 13.21,16.36 13.47,16.36 13.74,16.36 14.00,16.36 14.27,16.37 14.53,16.38 14.79,16.39 15.05,16.40 15.32,16.41 15.58,16.42 15.84,16.42 16.10,16.43 16.36,16.43 16.62,16.43 16.88,16.43 17.13,16.41 17.39,16.40 17.65,16.38 17.91,16.35 18.16,16.31 18.42,16.27 18.68,16.21 18.93,16.15 19.19,16.08 19.45,15.99 19.70,15.90 19.96,15.79 20.21,15.67" stroke="#00cc00" stroke-linecap="butt"/><polyline points="19.70,15.90 19.96,15.79 20.21,15.67 20.47,15.53 20.72,15.38 20.98,15.22 21.23,15.04 21.49,14.84 21.74,14.63 22.00,14.40 22.22,14.18 22.43,13.96 22.64,13.74 22.84,13.51 23.03,13.28 23.21,13.05 23.39,12.82 23.56,12.58 23.72,12.34 23.88,12.10" stroke="#707070" stroke-linecap="butt"/><polyline points="23.72,12.34 23.88,12.10 24.03,11.86 24.17,11.61 24.31,11.36 24.44,11.11 24.56,10.85 24.68,10.59 24.79,10.33 24.90,10.07 25.00,9.80 25.10,9.53 25.19,9.25 25.28,8.97 25.36,8.69 25.43,8.40 25.51,8.11 25.57,7.82 25.64,7.52 25.69,7.22 25.75,6.92 25.80,6.61" stroke="#0000cc" stroke-linecap="butt"/><polyline points="25.75,6.92 25.80,6.61 25.84,6.30 25.88,5.98 25.92,5.66 25.96,5.34 25.99,5.01 26.02,4.67 26.04,4.34 26.06,4.00 26.08,3.65 26.10,3.30" stroke="#d4006a" stroke-linecap="butt"/><circle cx="26.1" cy="3.3" r="2.0" fill="#d4006a" stroke="none"/></g>
<g transform="translate(475.30,441.40)" fill="none" stroke-width="4.0" stroke-linejoin="round"><polyline points="4.80,30.40 4.79,29.85 4.78,29.31 4.77,28.77 4.77,28.24 4.78,27.72 4.79,27.21 4.81,26.71 4.84,26.22 4.87,25.73 4.91,25.26 4.95,24.80 5.01,24.34" stroke="#00cc00" stroke-linecap="butt"/><circle cx="4.8" cy="30.4" r="2.0" fill="#00cc00" stroke="none"/><polyline points="5.01,24.34 5.07,23.90 5.15,23.46 5.23,23.04 5.32,22.63 5.42,22.23 5.54,21.83 5.66,21.46 5.80,21.09 5.95,20.73 6.11,20.39 6.28,20.06 6.47,19.74" stroke="#d4006a" stroke-linecap="butt"/><polyline points="6.28,20.06 6.47,19.74 6.67,19.43 6.89,19.14 7.12,18.86 7.36,18.59 7.62,18.34 7.89,18.10 8.19,17.87 8.49,17.66 8.82,17.46 9.16,17.28 9.52,17.11 9.90,16.96 10.29,16.82" stroke="#707070" stroke-linecap="butt"/><polyline points="9.90,16.96 10.29,16.82 10.71,16.70 11.15,16.59 11.60,16.50 11.87,16.46 12.14,16.43 12.41,16.40 12.67,16.38 12.94,16.37 13.21,16.36 13.47,16.36 13.74,16.36 14.00,16.36 14.27,16.37 14.53,16.38 14.79,16.39 15.05,16.40 15.32,16.41 15.58,16.42 15.84,16.42 16.10,16.43 16.36,16.43 16.62,16.43 16.88,16.43 17.13,16.41 17.39,16.40 17.65,16.38 17.91,16.35 18.16,16.31 18.42,16.27 18.68,16.21 18.93,16.15 19.19,16.08 19.45,15.99 19.70,15.90 19.96,15.79 20.21,15.67" stroke="#00cc00" stroke-linecap="butt"/><polyline points="19.70,15.90 19.96,15.79 20.21,15.67 20.47,15.53 20.72,15.38 20.98,15.22 21.23,15.04 21.49,14.84 21.74,14.63 22.00,14.40 22.22,14.18 22.43,13.96 22.64,13.74 22.84,13.51 23.03,13.28 23.21,13.05 23.39,12.82 23.56,12.58 23.72,12.34 23.88,12.10" stroke="#707070" stroke-linecap="butt"/><polyline points="23.72,12.34 23.88,12.10 24.03,11.86 24.17,11.61 24.31,11.36 24.44,11.11 24.56,10.85 24.68,10.59 24.79,10.33 24.90,10.07 25.00,9.80 25.10,9.53 25.19,9.25 25.28,8.97 25.36,8.69 25.43,8.40 25.51,8.11 25.57,7.82 25.64,7.52 25.69,7.22 25.75,6.92 25.80,6.61" stroke="#0000cc" stroke-linecap="butt"/><polyline points="25.75,6.92 25.80,6.61 25.84,6.30 25.88,5.98 25.92,5.66 25.96,5.34 25.99,5.01 26.02,4.67 26.04,4.34 26.06,4.00 26.08,3.65 26.10,3.30" stroke="#d4006a" stroke-linecap="butt"/><circle cx="26.1" cy="3.3" r="2.0" fill="#d4006a" stroke="none"/></g>
<polygon points="490.07,451.04 492.20,455.58 497.19,455.15 493.54,458.58 495.48,463.20 491.09,460.78 487.30,464.06 488.24,459.14 483.95,456.54 488.93,455.92" fill="#f46aa0" stroke="#b03060" stroke-width="0.5"/>
<text x="-0.8" y="7.3" font-family="Liberation Sans, sans-serif" font-size="10.4" font-weight="bold" fill="#111">a</text>
<text x="240.6" y="7.3" font-family="Liberation Sans, sans-serif" font-size="10.4" font-weight="bold" fill="#111">b</text>
<text x="477.6" y="8.4" font-family="Liberation Sans, sans-serif" font-size="10.4" font-weight="bold" fill="#111">c</text>
<text x="-1.1" y="153.8" font-family="Liberation Sans, sans-serif" font-size="10.4" font-weight="bold" fill="#111">d</text>
<text x="237.5" y="154" font-family="Liberation Sans, sans-serif" font-size="10.4" font-weight="bold" fill="#111">e</text>
<text x="474.9" y="153.9" font-family="Liberation Sans, sans-serif" font-size="10.4" font-weight="bold" fill="#111">f</text>
<text x="-1.3" y="300" font-family="Liberation Sans, sans-serif" font-size="10.4" font-weight="bold" fill="#111">g</text>
<text x="184.4" y="300.5" font-family="Liberation Sans, sans-serif" font-size="10.4" font-weight="bold" fill="#111">h</text>
<text x="474.5" y="300.5" font-family="Liberation Sans, sans-serif" font-size="10.4" font-weight="bold" fill="#111">j</text>
<text x="-0.4" y="445.6" font-family="Liberation Sans, sans-serif" font-size="10.4" font-weight="bold" fill="#111">i</text>
<text x="474.5" y="445.8" font-family="Liberation Sans, sans-serif" font-size="10.4" font-weight="bold" fill="#111">k</text>
<text x="7.20" y="511.39" font-family="Liberation Sans, sans-serif" font-size="8.3" font-weight="normal" fill="#101010" text-anchor="middle">HO</text><text x="23.60" y="511.39" font-family="Liberation Sans, sans-serif" font-size="8.3" font-weight="normal" fill="#101010" text-anchor="middle">P</text><text x="38.10" y="511.39" font-family="Liberation Sans, sans-serif" font-size="8.3" font-weight="normal" fill="#101010" text-anchor="middle">O</text><text x="23.60" y="496.99" font-family="Liberation Sans, sans-serif" font-size="8.3" font-weight="normal" fill="#101010" text-anchor="middle">O</text><text x="26.50" y="525.49" font-family="Liberation Sans, sans-serif" font-size="8.3" font-weight="normal" fill="#101010" text-anchor="middle">OH</text><line x1="13.40" y1="508.40" x2="19.60" y2="508.40" stroke="#101010" stroke-width="1.0" stroke-linecap="round"/><line x1="27.40" y1="508.40" x2="33.90" y2="508.40" stroke="#101010" stroke-width="1.0" stroke-linecap="round"/><line x1="22.65" y1="498.20" x2="22.65" y2="503.80" stroke="#101010" stroke-width="1.0" stroke-linecap="round"/><line x1="24.55" y1="498.20" x2="24.55" y2="503.80" stroke="#101010" stroke-width="1.0" stroke-linecap="round"/><line x1="23.60" y1="513.00" x2="23.60" y2="518.00" stroke="#101010" stroke-width="1.0" stroke-linecap="round"/><line x1="42.20" y1="508.50" x2="50.20" y2="509.30" stroke="#101010" stroke-width="1.0" stroke-linecap="round"/><line x1="50.20" y1="509.30" x2="52.60" y2="521.00" stroke="#101010" stroke-width="1.0" stroke-linecap="round"/><line x1="52.60" y1="521.00" x2="66.90" y2="514.50" stroke="#101010" stroke-width="1.0" stroke-linecap="round"/><line x1="75.70" y1="514.20" x2="91.00" y2="521.00" stroke="#101010" stroke-width="1.0" stroke-linecap="round"/><text x="71.30" y="515.59" font-family="Liberation Sans, sans-serif" font-size="8.3" font-weight="normal" fill="#101010" text-anchor="middle">O</text><polygon points="52.60,521.00 57.94,529.87 60.46,527.73" fill="#101010" stroke="#101010" stroke-width="0.4" stroke-linejoin="round"/><polygon points="91.00,521.00 82.77,527.70 85.23,529.90" fill="#101010" stroke="#101010" stroke-width="0.4" stroke-linejoin="round"/><line x1="59.00" y1="528.80" x2="84.20" y2="528.80" stroke="#101010" stroke-width="3.3" stroke-linecap="butt"/><line x1="59.80" y1="529.80" x2="60.60" y2="533.40" stroke="#101010" stroke-width="1.0" stroke-linecap="round"/><line x1="84.20" y1="529.80" x2="84.80" y2="533.40" stroke="#101010" stroke-width="1.0" stroke-linecap="round"/><text x="62.70" y="540.79" font-family="Liberation Sans, sans-serif" font-size="8.3" font-weight="normal" fill="#101010" text-anchor="middle">OH</text><text x="86.60" y="540.79" font-family="Liberation Sans, sans-serif" font-size="8.3" font-weight="normal" fill="#101010" text-anchor="middle">OH</text><line x1="91.00" y1="521.00" x2="90.80" y2="495.60" stroke="#101010" stroke-width="1.0" stroke-linecap="round"/><line x1="88.80" y1="487.40" x2="83.00" y2="479.60" stroke="#101010" stroke-width="1.0" stroke-linecap="round"/><line x1="83.00" y1="479.60" x2="88.20" y2="471.20" stroke="#101010" stroke-width="1.0" stroke-linecap="round"/><line x1="85.60" y1="479.20" x2="90.40" y2="472.20" stroke="#101010" stroke-width="1.0" stroke-linecap="round"/><text x="90.80" y="470.59" font-family="Liberation Sans, sans-serif" font-size="8.3" font-weight="normal" fill="#101010" text-anchor="middle">N</text><text x="91.00" y="493.99" font-family="Liberation Sans, sans-serif" font-size="8.3" font-weight="normal" fill="#101010" text-anchor="middle">N</text><line x1="94.40" y1="468.90" x2="105.00" y2="473.00" stroke="#101010" stroke-width="1.0" stroke-linecap="round"/><line x1="105.00" y1="488.60" x2="94.60" y2="490.40" stroke="#101010" stroke-width="1.0" stroke-linecap="round"/><line x1="105.00" y1="473.00" x2="105.00" y2="488.60" stroke="#101010" stroke-width="1.0" stroke-linecap="round"/><line x1="107.30" y1="474.80" x2="107.30" y2="486.80" stroke="#101010" stroke-width="1.0" stroke-linecap="round"/><line x1="105.00" y1="473.00" x2="116.60" y2="466.60" stroke="#101010" stroke-width="1.0" stroke-linecap="round"/><line x1="115.65" y1="466.40" x2="115.65" y2="455.40" stroke="#101010" stroke-width="1.0" stroke-linecap="round"/><line x1="117.55" y1="466.40" x2="117.55" y2="455.40" stroke="#101010" stroke-width="1.0" stroke-linecap="round"/><text x="116.60" y="453.99" font-family="Liberation Sans, sans-serif" font-size="8.3" font-weight="normal" fill="#101010" text-anchor="middle">O</text><line x1="116.60" y1="466.60" x2="125.20" y2="470.20" stroke="#101010" stroke-width="1.0" stroke-linecap="round"/><text x="126.20" y="474.99" font-family="Liberation Sans, sans-serif" font-size="8.3" font-weight="normal" fill="#101010" text-anchor="start">NH</text><line x1="129.00" y1="476.40" x2="129.00" y2="488.20" stroke="#101010" stroke-width="1.0" stroke-linecap="round"/><line x1="129.00" y1="488.20" x2="120.50" y2="492.10" stroke="#101010" stroke-width="1.0" stroke-linecap="round"/><line x1="128.40" y1="485.80" x2="119.60" y2="490.50" stroke="#101010" stroke-width="1.0" stroke-linecap="round"/><text x="116.60" y="496.99" font-family="Liberation Sans, sans-serif" font-size="8.3" font-weight="normal" fill="#101010" text-anchor="middle">N</text><line x1="112.80" y1="492.20" x2="105.00" y2="488.60" stroke="#101010" stroke-width="1.0" stroke-linecap="round"/><line x1="129.00" y1="488.20" x2="137.40" y2="492.50" stroke="#101010" stroke-width="1.0" stroke-linecap="round"/><text x="138.20" y="497.39" font-family="Liberation Sans, sans-serif" font-size="8.3" fill="#101010">NH<tspan font-size="5.81" dy="1.6">2</tspan></text><text x="71.40" y="556.06" font-family="Liberation Sans, sans-serif" font-size="9.9" font-weight="bold" fill="#101010" text-anchor="middle">GMP</text><polygon points="152.60,504.50 148.50,513.80 151.70,512.30 150.30,519.40 154.10,510.60 151.10,511.90" fill="#d0121f"/><line x1="140.20" y1="522.30" x2="158.00" y2="522.30" stroke="#222" stroke-width="0.9"/><polygon points="161.00,522.30 156.00,520.20 157.00,522.30 156.00,524.40" fill="#111"/><text x="171.70" y="511.39" font-family="Liberation Sans, sans-serif" font-size="8.3" font-weight="normal" fill="#101010" text-anchor="middle">HO</text><text x="188.10" y="511.39" font-family="Liberation Sans, sans-serif" font-size="8.3" font-weight="normal" fill="#101010" text-anchor="middle">P</text><text x="202.60" y="511.39" font-family="Liberation Sans, sans-serif" font-size="8.3" font-weight="normal" fill="#101010" text-anchor="middle">O</text><text x="188.10" y="496.99" font-family="Liberation Sans, sans-serif" font-size="8.3" font-weight="normal" fill="#101010" text-anchor="middle">O</text><text x="191.00" y="525.49" font-family="Liberation Sans, sans-serif" font-size="8.3" font-weight="normal" fill="#101010" text-anchor="middle">OH</text><line x1="177.90" y1="508.40" x2="184.10" y2="508.40" stroke="#101010" stroke-width="1.0" stroke-linecap="round"/><line x1="191.90" y1="508.40" x2="198.40" y2="508.40" stroke="#101010" stroke-width="1.0" stroke-linecap="round"/><line x1="187.15" y1="498.20" x2="187.15" y2="503.80" stroke="#101010" stroke-width="1.0" stroke-linecap="round"/><line x1="189.05" y1="498.20" x2="189.05" y2="503.80" stroke="#101010" stroke-width="1.0" stroke-linecap="round"/><line x1="188.10" y1="513.00" x2="188.10" y2="518.00" stroke="#101010" stroke-width="1.0" stroke-linecap="round"/><line x1="206.70" y1="508.50" x2="214.70" y2="509.30" stroke="#101010" stroke-width="1.0" stroke-linecap="round"/><line x1="214.70" y1="509.30" x2="217.10" y2="521.00" stroke="#101010" stroke-width="1.0" stroke-linecap="round"/><line x1="217.10" y1="521.00" x2="231.40" y2="514.50" stroke="#101010" stroke-width="1.0" stroke-linecap="round"/><line x1="240.20" y1="514.20" x2="255.50" y2="521.00" stroke="#101010" stroke-width="1.0" stroke-linecap="round"/><text x="235.80" y="515.59" font-family="Liberation Sans, sans-serif" font-size="8.3" font-weight="normal" fill="#101010" text-anchor="middle">O</text><polygon points="217.10,521.00 222.44,529.87 224.96,527.73" fill="#101010" stroke="#101010" stroke-width="0.4" stroke-linejoin="round"/><polygon points="255.50,521.00 247.27,527.70 249.73,529.90" fill="#101010" stroke="#101010" stroke-width="0.4" stroke-linejoin="round"/><line x1="223.50" y1="528.80" x2="248.70" y2="528.80" stroke="#101010" stroke-width="3.3" stroke-linecap="butt"/><line x1="224.30" y1="529.80" x2="225.10" y2="533.40" stroke="#101010" stroke-width="1.0" stroke-linecap="round"/><line x1="248.70" y1="529.80" x2="249.30" y2="533.40" stroke="#101010" stroke-width="1.0" stroke-linecap="round"/><text x="227.20" y="540.79" font-family="Liberation Sans, sans-serif" font-size="8.3" font-weight="normal" fill="#101010" text-anchor="middle">OH</text><text x="251.10" y="540.79" font-family="Liberation Sans, sans-serif" font-size="8.3" font-weight="normal" fill="#101010" text-anchor="middle">OH</text><line x1="255.50" y1="521.00" x2="255.80" y2="495.60" stroke="#101010" stroke-width="1.0" stroke-linecap="round"/><line x1="253.60" y1="487.40" x2="248.00" y2="480.00" stroke="#101010" stroke-width="1.0" stroke-linecap="round"/><line x1="248.00" y1="480.00" x2="252.90" y2="471.60" stroke="#101010" stroke-width="1.0" stroke-linecap="round"/><text x="255.50" y="470.79" font-family="Liberation Sans, sans-serif" font-size="8.3" font-weight="normal" fill="#101010" text-anchor="middle">N</text><text x="255.50" y="464.09" font-family="Liberation Sans, sans-serif" font-size="8.3" font-weight="normal" fill="#101010" text-anchor="middle">H</text><line x1="247.70" y1="479.05" x2="237.20" y2="478.45" stroke="#101010" stroke-width="1.0" stroke-linecap="round"/><line x1="247.70" y1="480.95" x2="237.20" y2="480.35" stroke="#101010" stroke-width="1.0" stroke-linecap="round"/><text x="232.70" y="482.39" font-family="Liberation Sans, sans-serif" font-size="8.3" font-weight="normal" fill="#101010" text-anchor="middle">O</text><text x="256.00" y="493.99" font-family="Liberation Sans, sans-serif" font-size="8.3" font-weight="normal" fill="#101010" text-anchor="middle">N</text><line x1="259.10" y1="469.10" x2="269.50" y2="473.00" stroke="#101010" stroke-width="1.0" stroke-linecap="round"/><line x1="269.50" y1="488.60" x2="259.60" y2="490.40" stroke="#101010" stroke-width="1.0" stroke-linecap="round"/><line x1="269.50" y1="473.00" x2="269.50" y2="488.60" stroke="#101010" stroke-width="1.0" stroke-linecap="round"/><line x1="271.80" y1="474.80" x2="271.80" y2="486.80" stroke="#101010" stroke-width="1.0" stroke-linecap="round"/><line x1="269.50" y1="473.00" x2="281.10" y2="466.60" stroke="#101010" stroke-width="1.0" stroke-linecap="round"/><line x1="280.15" y1="466.40" x2="280.15" y2="455.40" stroke="#101010" stroke-width="1.0" stroke-linecap="round"/><line x1="282.05" y1="466.40" x2="282.05" y2="455.40" stroke="#101010" stroke-width="1.0" stroke-linecap="round"/><text x="281.10" y="453.99" font-family="Liberation Sans, sans-serif" font-size="8.3" font-weight="normal" fill="#101010" text-anchor="middle">O</text><line x1="281.10" y1="466.60" x2="289.70" y2="470.20" stroke="#101010" stroke-width="1.0" stroke-linecap="round"/><text x="290.70" y="474.99" font-family="Liberation Sans, sans-serif" font-size="8.3" font-weight="normal" fill="#101010" text-anchor="start">NH</text><line x1="293.50" y1="476.40" x2="293.50" y2="488.20" stroke="#101010" stroke-width="1.0" stroke-linecap="round"/><line x1="293.50" y1="488.20" x2="285.00" y2="492.10" stroke="#101010" stroke-width="1.0" stroke-linecap="round"/><line x1="292.90" y1="485.80" x2="284.10" y2="490.50" stroke="#101010" stroke-width="1.0" stroke-linecap="round"/><text x="281.10" y="496.99" font-family="Liberation Sans, sans-serif" font-size="8.3" font-weight="normal" fill="#101010" text-anchor="middle">N</text><line x1="277.30" y1="492.20" x2="269.50" y2="488.60" stroke="#101010" stroke-width="1.0" stroke-linecap="round"/><line x1="293.50" y1="488.20" x2="301.90" y2="492.50" stroke="#101010" stroke-width="1.0" stroke-linecap="round"/><text x="302.70" y="497.39" font-family="Liberation Sans, sans-serif" font-size="8.3" fill="#101010">NH<tspan font-size="5.81" dy="1.6">2</tspan></text><text x="236" y="556" font-family="Liberation Sans, sans-serif" font-size="9.9" font-weight="bold" fill="#101010" text-anchor="middle">oxo<tspan font-size="6.1" dy="-3.6">8</tspan><tspan dy="3.6">GMP</tspan></text><polygon points="302.62,510.33 300.03,516.20 302.05,515.25 301.17,519.73 303.57,514.18 301.67,515.00" fill="#d0121f"/><polygon points="315.92,510.33 313.33,516.20 315.35,515.25 314.47,519.73 316.87,514.18 314.97,515.00" fill="#d0121f"/><polygon points="329.32,510.33 326.73,516.20 328.75,515.25 327.87,519.73 330.27,514.18 328.37,515.00" fill="#d0121f"/><line x1="297.10" y1="522.30" x2="305.28" y2="522.30" stroke="#222" stroke-width="0.9"/><polygon points="307.80,522.30 303.60,520.60 304.44,522.30 303.60,524.00" fill="#111"/><line x1="310.20" y1="522.30" x2="318.38" y2="522.30" stroke="#222" stroke-width="0.9"/><polygon points="320.90,522.30 316.70,520.60 317.54,522.30 316.70,524.00" fill="#111"/><line x1="323.40" y1="522.30" x2="331.68" y2="522.30" stroke="#222" stroke-width="0.9"/><polygon points="334.20,522.30 330.00,520.60 330.84,522.30 330.00,524.00" fill="#111"/><rect x="341.2" y="484.2" width="123.8" height="58.2" rx="14" ry="14" fill="#efd0f8" stroke="#b566cc" stroke-width="0.8"/><text x="353.00" y="508.59" font-family="Liberation Sans, sans-serif" font-size="8.3" font-weight="normal" fill="#101010" text-anchor="middle">HO</text><text x="369.40" y="508.59" font-family="Liberation Sans, sans-serif" font-size="8.3" font-weight="normal" fill="#101010" text-anchor="middle">P</text><text x="383.90" y="508.59" font-family="Liberation Sans, sans-serif" font-size="8.3" font-weight="normal" fill="#101010" text-anchor="middle">O</text><text x="369.40" y="494.19" font-family="Liberation Sans, sans-serif" font-size="8.3" font-weight="normal" fill="#101010" text-anchor="middle">O</text><text x="372.30" y="522.69" font-family="Liberation Sans, sans-serif" font-size="8.3" font-weight="normal" fill="#101010" text-anchor="middle">OH</text><line x1="359.20" y1="505.60" x2="365.40" y2="505.60" stroke="#101010" stroke-width="1.0" stroke-linecap="round"/><line x1="373.20" y1="505.60" x2="379.70" y2="505.60" stroke="#101010" stroke-width="1.0" stroke-linecap="round"/><line x1="368.45" y1="495.40" x2="368.45" y2="501.00" stroke="#101010" stroke-width="1.0" stroke-linecap="round"/><line x1="370.35" y1="495.40" x2="370.35" y2="501.00" stroke="#101010" stroke-width="1.0" stroke-linecap="round"/><line x1="369.40" y1="510.20" x2="369.40" y2="515.20" stroke="#101010" stroke-width="1.0" stroke-linecap="round"/><line x1="388.00" y1="505.70" x2="396.00" y2="506.50" stroke="#101010" stroke-width="1.0" stroke-linecap="round"/><line x1="396.00" y1="506.50" x2="398.40" y2="518.20" stroke="#101010" stroke-width="1.0" stroke-linecap="round"/><line x1="398.40" y1="518.20" x2="412.70" y2="511.70" stroke="#101010" stroke-width="1.0" stroke-linecap="round"/><line x1="421.50" y1="511.40" x2="436.80" y2="518.20" stroke="#101010" stroke-width="1.0" stroke-linecap="round"/><text x="417.10" y="512.79" font-family="Liberation Sans, sans-serif" font-size="8.3" font-weight="normal" fill="#101010" text-anchor="middle">O</text><polygon points="398.40,518.20 403.74,527.07 406.26,524.93" fill="#101010" stroke="#101010" stroke-width="0.4" stroke-linejoin="round"/><polygon points="436.80,518.20 428.57,524.90 431.03,527.10" fill="#101010" stroke="#101010" stroke-width="0.4" stroke-linejoin="round"/><line x1="404.80" y1="526.00" x2="430.00" y2="526.00" stroke="#101010" stroke-width="3.3" stroke-linecap="butt"/><line x1="405.60" y1="527.00" x2="406.40" y2="530.60" stroke="#101010" stroke-width="1.0" stroke-linecap="round"/><line x1="430.00" y1="527.00" x2="430.60" y2="530.60" stroke="#101010" stroke-width="1.0" stroke-linecap="round"/><text x="408.50" y="537.99" font-family="Liberation Sans, sans-serif" font-size="8.3" font-weight="normal" fill="#101010" text-anchor="middle">OH</text><text x="432.40" y="537.99" font-family="Liberation Sans, sans-serif" font-size="8.3" font-weight="normal" fill="#101010" text-anchor="middle">OH</text><path d="M436.80 518.20 Q440.39 520.13 439.35 517.48 Q438.31 514.82 441.90 516.75 Q445.49 518.68 444.45 516.02 Q443.40 513.37 447.00 515.30" fill="none" stroke="#101010" stroke-width="0.8"/><text x="454.00" y="516.49" font-family="Liberation Sans, sans-serif" font-size="8.3" font-weight="normal" fill="#101010" text-anchor="middle">OH</text><text x="403.20" y="556.14" font-family="Liberation Sans, sans-serif" font-size="10.1" font-weight="bold" fill="#101010" text-anchor="middle">5'-ribose phosphate</text><text x="403.00" y="567.19" font-family="Liberation Sans, sans-serif" font-size="8.3" font-weight="bold" fill="#101010" text-anchor="middle">(5'-RP)</text>
</svg>
</body></html>
